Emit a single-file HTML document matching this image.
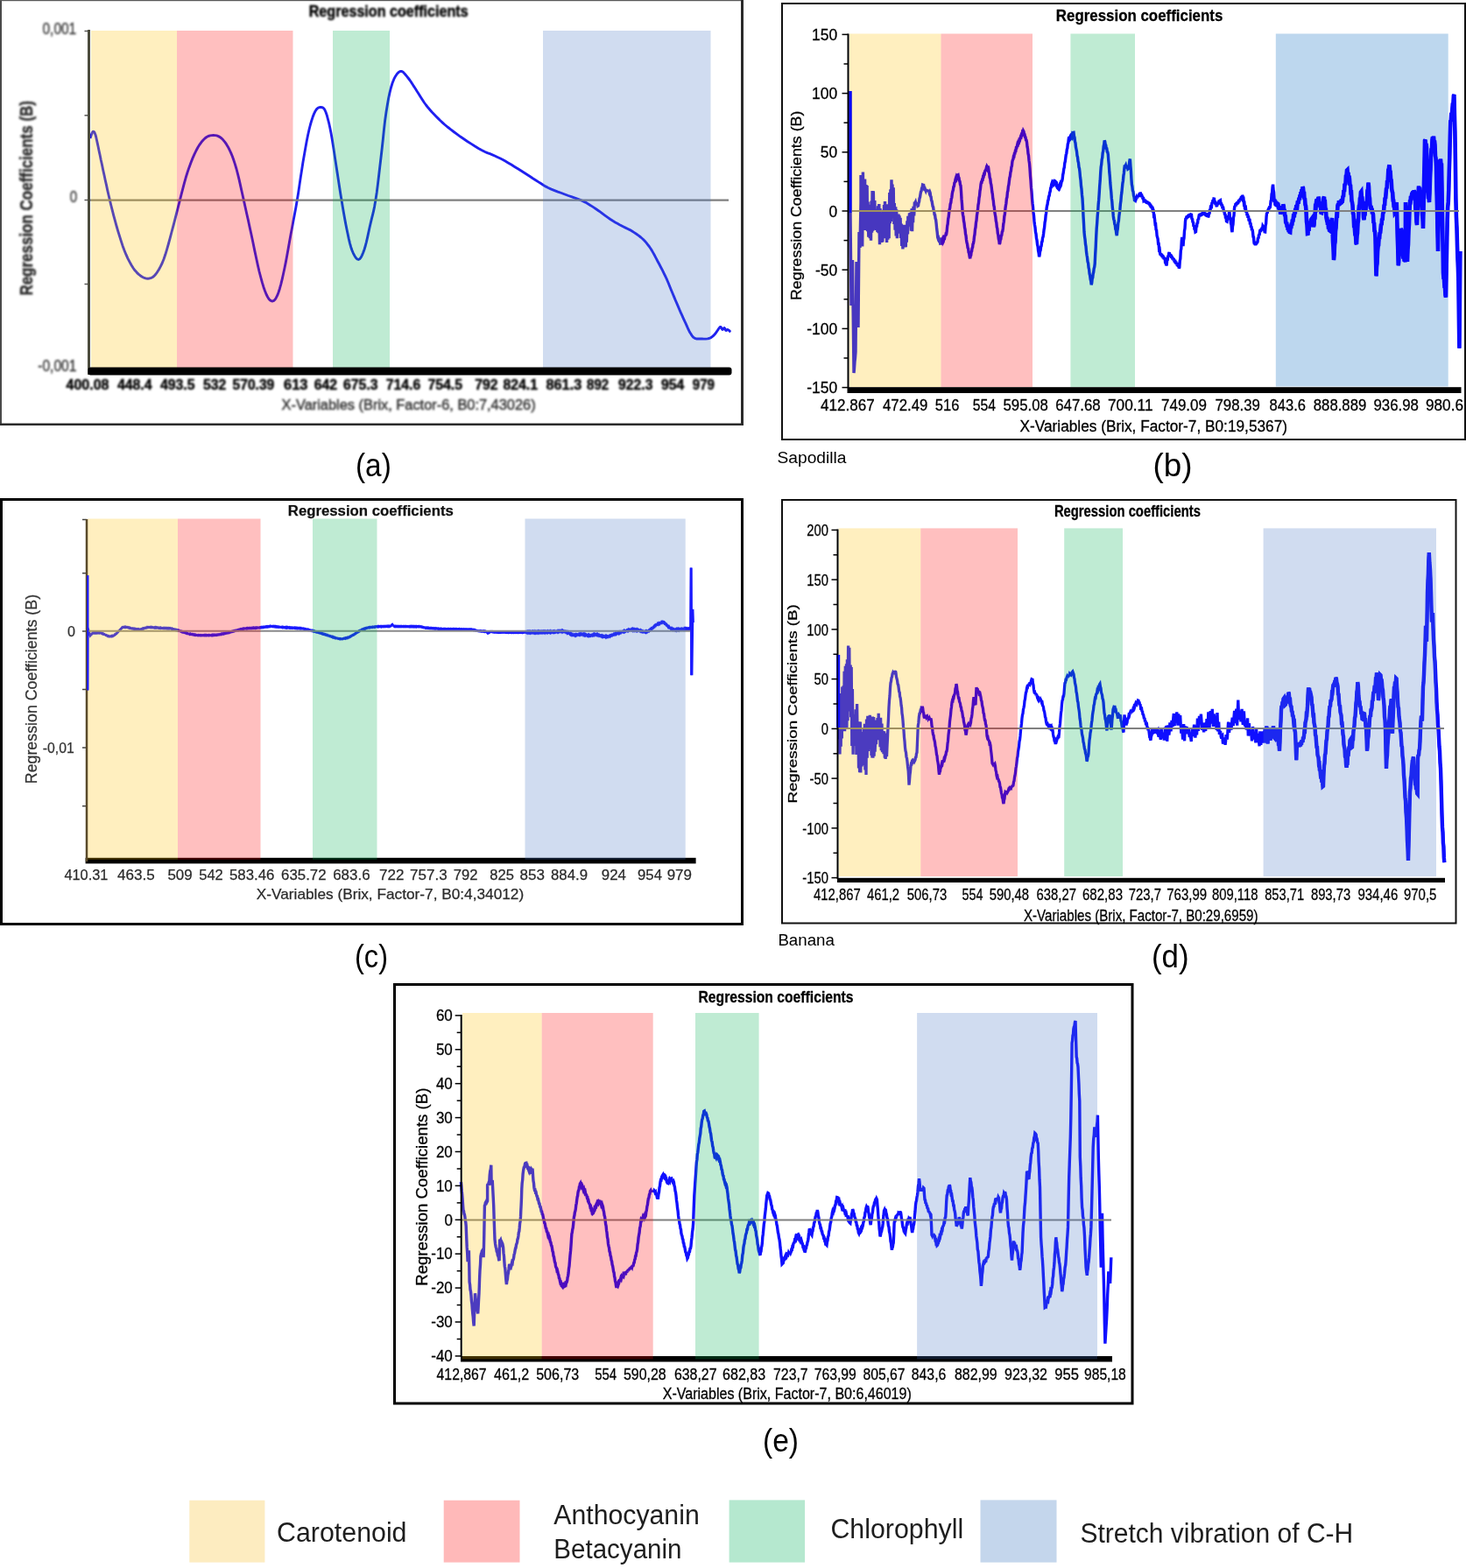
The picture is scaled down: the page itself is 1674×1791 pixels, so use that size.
<!DOCTYPE html><html><head><meta charset="utf-8"><title>Regression coefficients</title>
<style>html,body{margin:0;padding:0;background:#fff;}svg{display:block;}text{font-family:'Liberation Sans', Arial, sans-serif;}</style></head><body>
<svg width="1674" height="1791" viewBox="0 0 1674 1791">
<defs><filter id="bl45" x="-5%" y="-5%" width="110%" height="110%"><feGaussianBlur stdDeviation="0.8"/></filter><filter id="bl30" x="-5%" y="-5%" width="110%" height="110%"><feGaussianBlur stdDeviation="0.3"/></filter></defs>
<rect x="0.0" y="0.0" width="1674.0" height="1791.0" fill="#fff"/>
<rect x="0.0" y="0.0" width="2.0" height="486.0" fill="#4a4a4a"/>
<rect x="0.0" y="0.0" width="849.0" height="1.2" fill="#585858"/>
<rect x="846.0" y="0.0" width="3.0" height="486.0" fill="#2a2a2a"/>
<rect x="0.0" y="483.5" width="849.0" height="2.5" fill="#2a2a2a"/>
<line x1="96.5" y1="35.5" x2="101.0" y2="35.5" stroke="#555" stroke-width="1.5"/>
<line x1="96.5" y1="131.8" x2="101.0" y2="131.8" stroke="#555" stroke-width="1.5"/>
<line x1="96.5" y1="228.5" x2="101.0" y2="228.5" stroke="#555" stroke-width="1.5"/>
<line x1="96.5" y1="324.5" x2="101.0" y2="324.5" stroke="#555" stroke-width="1.5"/>
<path d="M103.0 158.0 L103.4 156.8 L104.0 155.0 L104.7 153.1 L105.4 151.4 L106.0 150.5 L106.6 150.3 L107.2 150.4 L107.7 151.0 L108.3 152.2 L109.0 154.0 L109.7 156.5 L110.4 159.7 L111.2 163.4 L112.1 167.5 L113.0 172.0 L114.1 177.0 L115.2 182.5 L116.5 188.3 L117.7 194.2 L119.0 200.0 L120.2 205.7 L121.5 211.4 L122.7 217.1 L124.0 222.8 L125.4 228.6 L126.8 234.5 L128.3 240.4 L129.8 246.3 L131.4 252.2 L133.0 258.0 L134.7 263.8 L136.5 269.7 L138.3 275.4 L140.1 280.9 L142.0 286.0 L143.9 290.7 L145.9 295.1 L148.0 299.1 L150.0 302.8 L152.0 306.0 L154.0 308.8 L156.1 311.1 L158.1 313.1 L160.1 314.7 L162.0 316.0 L163.8 317.0 L165.5 317.7 L167.1 318.1 L168.7 318.2 L170.3 318.0 L171.9 317.6 L173.4 317.1 L174.9 316.2 L176.4 314.9 L178.0 313.0 L179.7 310.6 L181.5 307.7 L183.3 304.4 L185.2 300.5 L187.0 296.0 L188.8 290.8 L190.6 284.9 L192.4 278.5 L194.2 271.8 L196.0 265.0 L197.9 258.0 L199.8 250.6 L201.7 243.1 L203.6 235.7 L205.4 228.6 L207.1 221.9 L208.8 215.3 L210.5 208.9 L212.2 202.8 L214.0 197.0 L215.9 191.4 L217.9 186.0 L219.9 180.9 L222.0 176.2 L224.0 172.0 L226.0 168.3 L228.0 165.1 L230.0 162.3 L232.0 160.0 L234.0 158.0 L236.0 156.5 L237.9 155.5 L239.9 154.9 L241.8 154.6 L243.7 154.5 L245.6 154.6 L247.5 154.9 L249.3 155.6 L251.2 156.6 L253.0 158.0 L254.8 159.8 L256.7 162.1 L258.5 164.7 L260.3 167.7 L262.0 171.0 L263.7 174.6 L265.3 178.5 L266.8 182.8 L268.4 187.6 L270.0 193.0 L271.6 199.2 L273.3 206.1 L274.9 213.4 L276.6 221.0 L278.3 228.6 L280.0 236.2 L281.7 244.0 L283.5 251.9 L285.2 259.9 L287.0 268.0 L288.8 276.5 L290.6 285.4 L292.5 294.2 L294.3 302.6 L296.0 310.0 L297.7 316.5 L299.3 322.4 L300.9 327.7 L302.5 332.2 L304.0 336.0 L305.5 339.0 L307.0 341.4 L308.5 343.0 L309.9 343.8 L311.3 344.0 L312.7 343.4 L314.0 342.2 L315.3 340.2 L316.7 337.4 L318.0 334.0 L319.4 329.7 L320.8 324.6 L322.2 318.8 L323.6 312.5 L325.0 306.0 L326.4 299.1 L327.8 291.6 L329.2 283.8 L330.6 275.8 L332.0 268.0 L333.5 260.3 L334.9 252.5 L336.4 244.7 L337.9 236.8 L339.3 228.6 L340.7 220.0 L342.0 211.1 L343.3 202.2 L344.7 193.4 L346.0 185.0 L347.4 176.9 L348.8 169.0 L350.2 161.3 L351.6 154.3 L353.0 148.0 L354.4 142.5 L355.8 137.7 L357.2 133.4 L358.6 129.9 L360.0 127.0 L361.4 124.9 L362.8 123.5 L364.1 122.8 L365.5 122.5 L366.7 122.5 L367.8 122.7 L368.9 123.1 L369.9 124.0 L370.9 125.6 L372.0 128.0 L373.2 131.4 L374.3 135.6 L375.6 140.5 L376.8 146.0 L378.0 152.0 L379.2 158.7 L380.4 166.2 L381.6 174.1 L382.8 182.1 L384.0 190.0 L385.2 197.8 L386.4 205.6 L387.6 213.5 L388.8 221.2 L390.0 228.6 L391.2 235.8 L392.4 242.8 L393.6 249.6 L394.8 256.0 L396.0 262.0 L397.2 267.6 L398.3 272.9 L399.5 277.8 L400.7 282.2 L402.0 286.0 L403.4 289.3 L404.9 292.2 L406.4 294.5 L407.9 296.0 L409.3 296.5 L410.7 295.8 L412.1 294.1 L413.4 291.6 L414.7 288.5 L416.0 285.0 L417.2 281.0 L418.4 276.3 L419.6 271.1 L420.8 265.6 L422.0 260.0 L423.3 254.4 L424.7 248.7 L426.2 242.7 L427.6 236.1 L428.9 228.6 L430.2 220.0 L431.4 210.6 L432.6 200.5 L433.8 190.2 L435.0 180.0 L436.2 169.5 L437.4 158.5 L438.5 147.6 L439.7 137.2 L441.0 128.0 L442.3 119.9 L443.6 112.5 L445.0 105.9 L446.5 100.0 L448.0 95.0 L449.7 90.7 L451.5 87.2 L453.3 84.5 L455.2 82.5 L457.0 81.5 L458.8 81.5 L460.6 82.6 L462.3 84.5 L464.1 86.7 L466.0 89.0 L467.9 91.5 L469.9 94.4 L471.9 97.6 L474.0 100.8 L476.0 104.0 L478.1 107.2 L480.1 110.5 L482.2 113.8 L484.3 117.0 L486.5 120.0 L488.7 122.8 L491.0 125.5 L493.2 128.0 L495.6 130.5 L498.0 133.0 L500.4 135.4 L502.8 137.8 L505.3 140.1 L508.0 142.5 L511.0 145.0 L514.4 147.7 L518.1 150.5 L522.0 153.4 L526.0 156.3 L530.0 159.0 L534.0 161.7 L538.2 164.4 L542.3 167.0 L546.3 169.4 L550.0 171.5 L553.4 173.2 L556.5 174.6 L559.5 175.7 L562.3 176.8 L565.0 178.0 L567.5 179.2 L569.7 180.2 L571.9 181.3 L574.3 182.5 L577.0 184.0 L580.2 185.9 L583.8 188.0 L587.6 190.4 L591.4 192.7 L595.0 195.0 L598.5 197.2 L602.0 199.5 L605.5 201.8 L608.8 204.0 L612.0 206.0 L614.9 207.9 L617.6 209.6 L620.2 211.3 L622.9 212.9 L626.0 214.5 L629.5 216.1 L633.2 217.6 L637.1 219.1 L641.1 220.5 L645.0 222.0 L649.0 223.5 L653.1 224.9 L657.2 226.3 L661.2 227.8 L665.0 229.4 L668.5 231.1 L671.7 233.0 L674.8 234.9 L677.9 236.9 L681.0 239.0 L684.2 241.2 L687.5 243.7 L690.8 246.1 L694.0 248.4 L697.0 250.5 L699.8 252.3 L702.5 253.9 L705.0 255.3 L707.5 256.7 L710.0 258.0 L712.4 259.2 L714.7 260.4 L717.0 261.5 L719.3 262.6 L721.7 264.0 L724.2 265.6 L726.7 267.3 L729.3 269.1 L731.7 271.0 L734.0 273.0 L736.0 275.0 L737.9 277.1 L739.6 279.3 L741.3 281.5 L743.0 284.0 L744.6 286.6 L746.2 289.4 L747.8 292.3 L749.4 295.4 L751.0 298.5 L752.8 301.8 L754.6 305.2 L756.4 308.7 L758.2 312.4 L760.0 316.0 L761.7 319.7 L763.3 323.5 L764.8 327.3 L766.4 331.2 L768.0 335.0 L769.6 338.9 L771.2 342.8 L772.9 346.7 L774.5 350.4 L776.0 354.0 L777.5 357.4 L779.0 360.6 L780.4 363.8 L781.7 366.7 L783.0 369.4 L784.1 371.9 L785.1 374.2 L786.1 376.3 L787.0 378.2 L788.0 380.0 L789.0 381.6 L789.9 383.1 L790.9 384.3 L791.9 385.4 L793.0 386.2 L794.2 386.7 L795.5 387.0 L796.9 387.0 L798.4 387.0 L800.0 387.0 L801.8 387.0 L803.9 387.1 L806.0 387.1 L808.0 386.9 L809.8 386.5 L811.3 385.9 L812.6 385.1 L813.8 384.2 L814.9 383.1 L816.0 382.0 L817.1 380.7 L818.2 379.1 L819.3 377.5 L820.2 376.1 L821.0 375.0 L821.6 374.3 L822.0 373.8 L822.3 373.5 L822.6 373.4 L823.0 373.5 L823.4 373.9 L823.8 374.6 L824.2 375.4 L824.6 376.1 L825.0 376.5 L825.4 376.3 L825.8 375.8 L826.2 375.2 L826.6 374.7 L827.0 374.5 L827.4 374.8 L827.8 375.5 L828.2 376.3 L828.6 377.1 L829.0 377.5 L829.4 377.5 L829.7 377.2 L830.1 376.8 L830.5 376.5 L831.0 376.5 L831.6 376.8 L832.4 377.4 L833.2 378.1 L833.8 378.8 L834.3 379.2" fill="none" stroke="#1f1ff0" stroke-width="2.9" stroke-linejoin="round" stroke-miterlimit="3" stroke-linecap="butt"/>
<line x1="103.0" y1="228.6" x2="832.0" y2="228.6" stroke="#7f7f7f" stroke-width="2.2"/>
<rect x="104.0" y="35.0" width="98.0" height="385.0" fill="#FFC000" fill-opacity="0.25"/>
<rect x="202.0" y="35.0" width="132.5" height="385.0" fill="#FF0000" fill-opacity="0.25"/>
<rect x="380.0" y="35.0" width="65.0" height="385.0" fill="#00B050" fill-opacity="0.25"/>
<rect x="620.0" y="35.0" width="191.5" height="385.0" fill="#4472C4" fill-opacity="0.25"/>
<line x1="101.5" y1="34.0" x2="101.5" y2="428.0" stroke="#4b4b3c" stroke-width="3"/>
<rect x="100.5" y="419.5" width="735" height="9" rx="3" fill="#000"/>
<g filter="url(#bl45)">
<text x="352.7" y="18.5" font-size="18" fill="#000" stroke="#000" stroke-width="0.45" font-weight="bold" textLength="182.0" lengthAdjust="spacingAndGlyphs">Regression coefficients</text>
<text x="48.5" y="38.7" font-size="19" fill="#3a3a3a" stroke="#3a3a3a" stroke-width="0.45" textLength="38.7" lengthAdjust="spacingAndGlyphs">0,001</text>
<text x="79.8" y="231.3" font-size="19" fill="#3a3a3a" stroke="#3a3a3a" stroke-width="0.45" textLength="8.4" lengthAdjust="spacingAndGlyphs">0</text>
<text x="43.2" y="423.9" font-size="18" fill="#3a3a3a" stroke="#3a3a3a" stroke-width="0.45" textLength="44.2" lengthAdjust="spacingAndGlyphs">-0,001</text>
<text x="37.3" y="337.6" font-size="20.5" fill="#2a2a2a" stroke="#2a2a2a" stroke-width="0.45" font-weight="bold" textLength="222.6" lengthAdjust="spacingAndGlyphs" transform="rotate(-90 37.3 337.6)">Regression Coefficients (B)</text>
<text x="75.5" y="445.3" font-size="16.6" fill="#000" stroke="#000" stroke-width="0.45" font-weight="bold" textLength="49.0" lengthAdjust="spacingAndGlyphs">400.08</text>
<text x="134.0" y="445.3" font-size="16.6" fill="#000" stroke="#000" stroke-width="0.45" font-weight="bold" textLength="39.5" lengthAdjust="spacingAndGlyphs">448.4</text>
<text x="183.0" y="445.3" font-size="16.6" fill="#000" stroke="#000" stroke-width="0.45" font-weight="bold" textLength="39.5" lengthAdjust="spacingAndGlyphs">493.5</text>
<text x="232.0" y="445.3" font-size="16.6" fill="#000" stroke="#000" stroke-width="0.45" font-weight="bold" textLength="26.3" lengthAdjust="spacingAndGlyphs">532</text>
<text x="265.5" y="445.3" font-size="16.6" fill="#000" stroke="#000" stroke-width="0.45" font-weight="bold" textLength="47.8" lengthAdjust="spacingAndGlyphs">570.39</text>
<text x="324.0" y="445.3" font-size="16.6" fill="#000" stroke="#000" stroke-width="0.45" font-weight="bold" textLength="27.5" lengthAdjust="spacingAndGlyphs">613</text>
<text x="358.7" y="445.3" font-size="16.6" fill="#000" stroke="#000" stroke-width="0.45" font-weight="bold" textLength="26.3" lengthAdjust="spacingAndGlyphs">642</text>
<text x="392.0" y="445.3" font-size="16.6" fill="#000" stroke="#000" stroke-width="0.45" font-weight="bold" textLength="39.6" lengthAdjust="spacingAndGlyphs">675.3</text>
<text x="440.8" y="445.3" font-size="16.6" fill="#000" stroke="#000" stroke-width="0.45" font-weight="bold" textLength="39.4" lengthAdjust="spacingAndGlyphs">714.6</text>
<text x="488.5" y="445.3" font-size="16.6" fill="#000" stroke="#000" stroke-width="0.45" font-weight="bold" textLength="39.5" lengthAdjust="spacingAndGlyphs">754.5</text>
<text x="542.3" y="445.3" font-size="16.6" fill="#000" stroke="#000" stroke-width="0.45" font-weight="bold" textLength="26.3" lengthAdjust="spacingAndGlyphs">792</text>
<text x="574.6" y="445.3" font-size="16.6" fill="#000" stroke="#000" stroke-width="0.45" font-weight="bold" textLength="39.4" lengthAdjust="spacingAndGlyphs">824.1</text>
<text x="623.5" y="445.3" font-size="16.6" fill="#000" stroke="#000" stroke-width="0.45" font-weight="bold" textLength="40.7" lengthAdjust="spacingAndGlyphs">861.3</text>
<text x="670.1" y="445.3" font-size="16.6" fill="#000" stroke="#000" stroke-width="0.45" font-weight="bold" textLength="25.1" lengthAdjust="spacingAndGlyphs">892</text>
<text x="706.0" y="445.3" font-size="16.6" fill="#000" stroke="#000" stroke-width="0.45" font-weight="bold" textLength="39.4" lengthAdjust="spacingAndGlyphs">922.3</text>
<text x="755.0" y="445.3" font-size="16.6" fill="#000" stroke="#000" stroke-width="0.45" font-weight="bold" textLength="26.3" lengthAdjust="spacingAndGlyphs">954</text>
<text x="790.8" y="445.3" font-size="16.6" fill="#000" stroke="#000" stroke-width="0.45" font-weight="bold" textLength="25.1" lengthAdjust="spacingAndGlyphs">979</text>
<text x="321.6" y="467.8" font-size="16" fill="#333" stroke="#333" stroke-width="0.45" textLength="290.0" lengthAdjust="spacingAndGlyphs">X-Variables (Brix, Factor-6, B0:7,43026)</text>
</g>
<rect x="893.0" y="4.0" width="780.0" height="498.0" fill="none" stroke="#111" stroke-width="2"/>
<rect x="1456.8" y="38.5" width="196.9" height="403.0" fill="#BDD7EE"/>
<path d="M971.0 104.0 L971.0 243.0 L971.5 295.3 L972.0 349.0 L972.5 332.5 L973.0 313.5 L973.5 297.0 L974.0 340.8 L974.5 382.3 L975.0 426.0 L975.5 420.9 L976.0 413.1 L976.5 408.8 L977.0 402.0 L977.5 349.7 L978.0 299.0 L978.5 318.4 L979.0 335.9 L979.5 356.0 L980.0 374.0 L980.5 318.7 L981.0 265.0 L981.5 274.6 L982.0 283.0 L982.5 256.1 L983.0 231.0 L983.0 200.1 L983.3 232.9 L983.6 264.3 L983.9 233.9 L984.3 204.8 L984.7 281.4 L985.1 239.6 L985.4 196.5 L985.9 249.6 L986.5 205.4 L987.1 257.2 L987.6 204.6 L987.9 232.8 L988.3 263.0 L988.7 237.9 L989.0 211.0 L989.4 262.4 L989.8 236.3 L990.1 212.0 L990.5 264.3 L991.1 230.5 L991.5 251.4 L991.8 270.6 L992.2 252.8 L992.6 236.3 L992.9 255.0 L993.3 272.3 L993.7 252.2 L994.0 233.8 L994.5 274.7 L995.0 229.6 L995.6 265.8 L996.1 217.9 L996.7 263.8 L997.0 241.7 L997.3 218.3 L997.7 237.8 L998.0 259.3 L998.4 244.9 L998.8 229.0 L999.2 245.2 L999.6 262.7 L1000.1 240.7 L1000.4 252.8 L1000.8 263.0 L1001.1 250.4 L1001.4 239.1 L1001.9 265.0 L1002.3 251.1 L1002.6 235.3 L1003.0 266.2 L1003.4 248.8 L1003.8 233.0 L1004.1 257.0 L1004.5 279.3 L1005.0 238.0 L1005.3 256.7 L1005.7 277.0 L1006.1 243.8 L1006.5 277.0 L1007.1 247.1 L1007.5 262.5 L1007.8 276.4 L1008.2 257.4 L1008.6 239.8 L1009.1 265.6 L1009.5 234.0 L1010.1 257.9 L1010.5 230.0 L1010.9 251.8 L1011.3 272.2 L1011.7 254.5 L1012.0 238.6 L1012.6 277.0 L1012.9 255.8 L1013.2 233.2 L1013.5 252.6 L1013.8 273.7 L1014.2 254.4 L1014.5 233.7 L1014.8 252.0 L1015.1 272.3 L1015.4 247.2 L1015.8 220.1 L1016.3 255.2 L1016.6 234.9 L1016.9 216.4 L1017.3 253.1 L1017.6 230.2 L1018.0 205.4 L1018.3 225.7 L1018.6 247.5 L1019.0 210.5 L1019.6 244.6 L1020.2 214.2 L1020.5 235.9 L1020.9 255.9 L1021.3 232.1 L1021.7 246.8 L1022.1 262.8 L1022.7 236.3 L1023.2 269.5 L1023.7 239.2 L1024.0 256.5 L1024.4 272.3 L1024.9 245.8 L1025.3 262.1 L1025.7 252.4 L1026.0 244.6 L1026.5 259.2 L1027.0 246.2 L1027.6 266.8 L1028.1 248.9 L1028.6 272.0 L1029.2 255.6 L1029.7 280.9 L1030.0 270.6 L1030.3 259.0 L1030.9 284.5 L1031.4 257.8 L1031.9 281.7 L1032.2 268.3 L1032.6 256.8 L1033.1 282.5 L1033.4 271.9 L1033.7 259.4 L1034.3 282.1 L1034.8 256.9 L1035.3 276.8 L1035.9 252.4 L1036.5 267.5 L1036.9 246.9 L1037.3 251.5 L1037.7 257.8 L1038.1 251.3 L1038.5 243.3 L1038.9 250.2 L1039.2 258.6 L1039.7 242.7 L1040.1 254.0 L1040.5 263.8 L1040.8 250.1 L1041.1 238.4 L1041.6 264.1 L1042.1 238.0 L1042.6 254.3 L1043.0 235.9 L1043.4 241.9 L1043.7 246.4 L1044.1 237.8 L1044.4 230.5 L1044.9 231.7 L1045.4 230.7 L1046.0 233.2 L1046.5 231.9 L1047.0 234.1 L1047.5 233.0 L1048.0 235.3 L1048.5 235.0 L1049.0 231.7 L1049.5 230.6 L1050.0 226.4 L1050.5 225.4 L1051.0 222.0 L1051.5 219.1 L1052.0 218.3 L1052.6 214.7 L1053.1 214.2 L1053.6 211.0 L1054.1 211.2 L1054.6 213.8 L1055.1 213.2 L1055.6 215.5 L1056.1 215.2 L1056.6 216.8 L1057.1 217.9 L1057.6 216.3 L1058.1 218.1 L1058.6 216.7 L1059.1 218.7 L1059.6 217.0 L1060.1 219.2 L1060.6 217.6 L1061.1 219.6 L1061.6 218.8 L1062.1 220.1 L1062.6 224.3 L1063.1 224.8 L1063.6 228.9 L1064.1 229.7 L1064.6 232.8 L1065.1 235.8 L1065.6 236.4 L1066.1 240.3 L1066.6 241.3 L1067.1 245.1 L1067.6 245.5 L1068.1 249.5 L1068.6 251.0 L1069.1 255.1 L1069.7 261.6 L1070.2 265.3 L1070.7 271.0 L1071.2 272.6 L1071.7 272.0 L1072.2 274.3 L1072.7 273.9 L1073.2 276.1 L1073.7 275.3 L1074.2 278.1 L1074.7 278.0 L1075.2 276.2 L1075.7 277.0 L1076.2 274.5 L1076.7 275.3 L1077.2 272.6 L1077.7 273.4 L1078.2 271.0 L1078.7 271.4 L1079.2 268.8 L1079.7 269.8 L1080.2 267.0 L1080.7 267.0 L1081.2 263.8 L1081.7 258.2 L1082.2 255.8 L1082.7 250.1 L1083.2 247.7 L1083.7 243.0 L1084.2 239.2 L1084.7 237.7 L1085.2 233.0 L1085.8 231.5 L1086.3 227.0 L1086.8 225.8 L1087.3 221.2 L1087.8 218.8 L1088.3 217.3 L1088.9 213.3 L1089.4 212.8 L1089.9 208.8 L1090.5 208.0 L1091.0 205.0 L1091.5 203.4 L1092.0 204.2 L1092.5 201.4 L1093.0 202.1 L1093.5 199.9 L1094.0 199.7 L1094.5 202.4 L1095.0 203.2 L1095.5 206.6 L1096.0 207.2 L1096.5 210.9 L1097.0 212.0 L1097.5 218.4 L1098.0 227.2 L1098.5 232.9 L1099.0 241.0 L1099.5 245.3 L1100.0 247.4 L1100.5 252.5 L1101.0 254.7 L1101.5 259.7 L1102.0 261.8 L1102.5 267.1 L1103.0 269.0 L1103.5 274.0 L1104.0 277.0 L1104.5 278.7 L1105.1 283.1 L1105.6 283.9 L1106.1 288.3 L1106.6 289.4 L1107.2 293.4 L1107.7 295.2 L1108.2 292.3 L1108.7 291.6 L1109.1 287.8 L1109.6 287.1 L1110.1 283.3 L1110.6 282.6 L1111.0 278.8 L1111.5 277.9 L1112.0 275.0 L1112.5 270.2 L1113.0 267.7 L1113.5 262.0 L1114.0 259.7 L1114.5 254.2 L1115.0 251.8 L1115.5 246.0 L1116.0 243.0 L1116.5 239.6 L1117.0 234.1 L1117.5 231.7 L1118.0 226.0 L1118.5 223.8 L1119.0 218.1 L1119.5 215.6 L1120.0 210.7 L1120.5 208.3 L1121.0 208.3 L1121.6 205.2 L1122.1 205.2 L1122.6 201.7 L1123.1 201.8 L1123.6 198.7 L1124.2 198.8 L1124.7 195.6 L1125.2 194.6 L1125.7 194.4 L1126.2 192.3 L1126.7 193.0 L1127.2 190.4 L1127.7 191.2 L1128.2 189.6 L1128.7 191.9 L1129.2 196.5 L1129.7 198.2 L1130.2 202.9 L1130.8 204.5 L1131.3 209.2 L1131.8 210.8 L1132.3 214.7 L1132.8 219.2 L1133.3 221.7 L1133.8 226.8 L1134.3 229.2 L1134.8 234.5 L1135.3 236.5 L1135.8 242.1 L1136.3 245.0 L1136.8 247.6 L1137.3 252.5 L1137.8 254.4 L1138.3 259.4 L1138.8 261.1 L1139.3 266.4 L1139.8 268.2 L1140.3 273.0 L1140.8 274.8 L1141.3 279.0 L1141.8 277.6 L1142.3 273.5 L1142.8 273.2 L1143.3 269.1 L1143.8 268.7 L1144.3 264.6 L1144.8 264.2 L1145.3 261.0 L1145.8 255.8 L1146.3 253.2 L1146.8 247.3 L1147.4 244.6 L1147.9 238.5 L1148.4 234.9 L1148.9 232.2 L1149.4 226.9 L1149.9 225.3 L1150.4 219.8 L1150.9 217.9 L1151.4 213.0 L1151.9 210.9 L1152.4 206.7 L1152.9 202.9 L1153.4 201.3 L1153.9 196.8 L1154.4 195.3 L1154.9 190.9 L1155.4 189.6 L1155.9 184.7 L1156.4 182.6 L1156.9 181.8 L1157.4 178.7 L1157.9 178.8 L1158.4 175.3 L1158.9 175.2 L1159.4 172.2 L1159.9 172.2 L1160.4 168.8 L1160.9 168.8 L1161.4 166.5 L1161.9 164.3 L1162.4 164.8 L1162.9 162.2 L1163.5 162.6 L1164.0 159.8 L1164.5 160.1 L1165.0 158.0 L1165.5 156.1 L1166.0 156.4 L1166.5 153.6 L1167.0 153.8 L1167.5 150.9 L1168.0 151.4 L1168.5 149.4 L1169.0 150.3 L1169.5 153.5 L1170.0 153.6 L1170.5 156.6 L1171.0 156.8 L1171.5 159.9 L1172.0 160.1 L1172.5 162.4 L1173.0 167.4 L1173.5 169.9 L1174.0 175.4 L1174.5 177.6 L1175.0 183.4 L1175.5 186.6 L1176.0 192.7 L1176.5 200.8 L1177.0 206.1 L1177.5 214.2 L1178.0 219.2 L1178.5 226.8 L1179.0 232.5 L1179.5 236.3 L1180.0 242.7 L1180.5 246.3 L1181.0 252.7 L1181.5 257.0 L1182.0 259.8 L1182.5 265.2 L1183.0 267.1 L1183.5 272.1 L1184.0 274.2 L1184.6 279.6 L1185.1 281.5 L1185.6 286.6 L1186.1 288.9 L1186.6 293.2 L1187.1 291.3 L1187.6 287.1 L1188.1 286.0 L1188.6 281.8 L1189.1 281.0 L1189.6 276.5 L1190.1 275.8 L1190.6 271.6 L1191.1 270.5 L1191.6 267.0 L1192.1 262.4 L1192.6 259.9 L1193.1 254.1 L1193.6 251.9 L1194.1 246.3 L1194.6 243.5 L1195.1 238.0 L1195.6 234.9 L1196.1 233.3 L1196.6 229.2 L1197.1 228.4 L1197.6 224.3 L1198.2 223.5 L1198.7 219.7 L1199.2 218.7 L1199.7 214.8 L1200.2 214.0 L1200.7 210.7 L1201.2 209.2 L1201.7 210.3 L1202.2 208.6 L1202.7 209.5 L1203.2 207.3 L1203.7 208.4 L1204.2 206.5 L1204.7 206.7 L1205.2 208.5 L1205.7 208.4 L1206.2 210.9 L1206.7 210.4 L1207.2 213.2 L1207.7 212.9 L1208.2 215.3 L1208.7 215.8 L1209.2 213.7 L1209.7 214.3 L1210.2 211.6 L1210.7 212.1 L1211.2 209.2 L1211.7 209.8 L1212.2 207.2 L1212.7 206.7 L1213.2 204.4 L1213.7 199.5 L1214.2 197.5 L1214.8 192.9 L1215.3 191.1 L1215.8 186.2 L1216.3 184.4 L1216.8 180.5 L1217.3 176.6 L1217.8 175.3 L1218.3 170.8 L1218.8 169.4 L1219.3 164.5 L1219.8 163.4 L1220.3 158.5 L1220.8 156.4 L1221.3 157.5 L1221.9 156.3 L1222.5 158.6 L1223.0 158.0 L1223.5 156.1 L1224.0 156.8 L1224.5 153.7 L1225.0 154.4 L1225.5 151.5 L1226.0 151.4 L1226.5 155.6 L1227.0 156.8 L1227.5 161.6 L1228.0 163.4 L1228.5 168.2 L1229.0 170.5 L1229.5 172.9 L1230.0 177.9 L1230.5 179.4 L1231.0 184.2 L1231.5 185.8 L1232.0 190.9 L1232.5 192.4 L1233.0 196.6 L1233.5 202.3 L1234.0 205.7 L1234.5 212.5 L1235.0 215.8 L1235.5 222.7 L1236.0 226.8 L1236.5 235.4 L1237.0 246.6 L1237.5 254.8 L1238.0 265.0 L1238.5 270.1 L1239.0 273.1 L1239.5 278.9 L1240.0 281.5 L1240.5 287.6 L1241.0 291.2 L1241.5 294.0 L1242.0 298.7 L1242.6 300.7 L1243.1 305.7 L1243.6 307.7 L1244.1 312.6 L1244.6 314.5 L1245.2 319.2 L1245.7 321.0 L1246.2 325.4 L1246.7 323.2 L1247.2 318.4 L1247.7 317.2 L1248.2 312.7 L1248.7 311.0 L1249.2 306.6 L1249.7 305.2 L1250.2 301.3 L1250.7 290.3 L1251.2 282.1 L1251.7 270.2 L1252.2 261.0 L1252.7 255.0 L1253.2 246.8 L1253.7 241.7 L1254.2 233.4 L1254.7 228.2 L1255.2 220.8 L1255.7 212.4 L1256.2 206.5 L1256.7 197.5 L1257.2 190.6 L1257.7 187.8 L1258.2 182.2 L1258.7 180.2 L1259.2 174.6 L1259.7 172.6 L1260.2 167.0 L1260.7 164.9 L1261.2 160.4 L1261.7 161.7 L1262.2 165.0 L1262.7 165.6 L1263.2 169.3 L1263.8 169.6 L1264.3 173.5 L1264.8 173.8 L1265.3 176.5 L1265.8 183.6 L1266.3 188.3 L1266.8 196.5 L1267.3 201.2 L1267.8 209.0 L1268.3 214.7 L1268.8 219.3 L1269.3 226.4 L1269.8 230.1 L1270.3 237.0 L1270.8 240.9 L1271.3 247.0 L1271.8 250.6 L1272.3 251.7 L1272.8 256.1 L1273.3 257.1 L1273.8 261.7 L1274.3 262.8 L1274.8 267.0 L1275.3 269.0 L1275.8 263.8 L1276.3 261.3 L1276.8 255.0 L1277.4 252.3 L1277.9 246.4 L1278.4 243.0 L1278.9 239.2 L1279.4 232.9 L1279.9 229.6 L1280.4 223.3 L1280.9 220.1 L1281.4 214.7 L1281.9 209.4 L1282.4 206.7 L1282.9 200.8 L1283.4 198.0 L1283.9 192.3 L1284.4 188.6 L1284.9 189.8 L1285.4 188.8 L1285.9 191.0 L1286.4 189.9 L1286.9 192.0 L1287.4 190.9 L1287.9 193.0 L1288.4 192.6 L1288.9 189.1 L1289.4 187.7 L1289.9 183.6 L1290.4 181.5 L1290.9 189.4 L1291.4 195.2 L1291.9 204.2 L1292.4 210.7 L1292.9 213.1 L1293.4 217.7 L1294.0 218.9 L1294.5 223.4 L1295.0 224.9 L1295.5 228.8 L1296.0 229.1 L1296.5 227.0 L1297.0 228.1 L1297.5 226.8 L1298.0 225.2 L1298.5 226.3 L1299.0 224.1 L1299.5 225.3 L1300.0 223.1 L1300.5 224.7 L1301.0 220.8 L1301.5 223.7 L1302.0 219.8 L1302.5 220.8 L1303.0 223.4 L1303.5 221.4 L1304.0 225.6 L1304.5 223.6 L1305.0 227.5 L1305.5 225.2 L1306.0 229.2 L1306.5 228.8 L1307.0 227.5 L1307.5 231.1 L1308.0 228.6 L1308.5 231.8 L1309.0 229.2 L1309.5 232.7 L1310.1 229.7 L1310.6 233.0 L1311.1 230.5 L1311.6 233.5 L1312.1 231.2 L1312.6 232.9 L1313.1 235.0 L1313.6 232.7 L1314.1 237.0 L1314.6 234.5 L1315.1 237.9 L1315.6 235.8 L1316.1 239.4 L1316.6 238.9 L1317.1 240.4 L1317.6 246.8 L1318.1 246.6 L1318.6 251.0 L1319.1 256.1 L1319.6 256.0 L1320.1 262.3 L1320.6 262.9 L1321.1 269.3 L1321.6 271.0 L1322.1 272.8 L1322.6 278.4 L1323.1 278.4 L1323.6 285.0 L1324.1 284.6 L1324.6 289.2 L1325.1 291.5 L1325.6 289.2 L1326.1 292.4 L1326.6 290.1 L1327.2 294.1 L1327.7 291.3 L1328.2 295.2 L1328.7 292.8 L1329.2 296.2 L1329.7 295.2 L1330.2 295.3 L1330.7 301.1 L1331.2 299.6 L1331.7 303.3 L1332.2 302.3 L1332.7 296.7 L1333.2 297.5 L1333.7 291.9 L1334.2 293.4 L1334.7 289.2 L1335.2 288.1 L1335.7 292.2 L1336.2 289.9 L1336.7 293.3 L1337.2 290.8 L1337.7 294.9 L1338.2 292.4 L1338.7 296.4 L1339.2 294.0 L1339.7 297.3 L1340.2 295.3 L1340.7 297.2 L1341.2 299.3 L1341.7 296.7 L1342.2 301.0 L1342.7 298.6 L1343.2 302.0 L1343.8 300.0 L1344.3 303.7 L1344.8 301.0 L1345.3 304.7 L1345.8 302.5 L1346.3 306.5 L1346.8 305.3 L1347.3 298.0 L1347.8 295.6 L1348.3 286.4 L1348.8 284.0 L1349.3 275.1 L1349.8 271.0 L1350.4 277.5 L1351.0 281.0 L1351.5 274.3 L1352.0 271.9 L1352.5 263.6 L1353.0 261.1 L1353.5 253.0 L1354.0 249.0 L1354.5 250.6 L1355.0 246.8 L1355.5 249.4 L1356.0 246.4 L1356.5 248.7 L1357.0 245.1 L1357.5 248.1 L1358.0 244.6 L1358.5 247.4 L1359.0 243.9 L1359.5 246.9 L1360.0 245.0 L1360.5 245.2 L1361.0 250.6 L1361.5 249.5 L1362.0 254.4 L1362.5 253.3 L1363.0 258.9 L1363.5 257.2 L1364.0 262.6 L1364.5 261.5 L1365.0 265.0 L1365.5 264.7 L1366.0 258.6 L1366.5 259.6 L1367.0 254.3 L1367.5 255.6 L1368.0 249.8 L1368.5 251.2 L1369.0 247.0 L1369.5 244.7 L1370.0 247.6 L1370.5 243.8 L1371.0 246.9 L1371.5 243.5 L1372.0 246.6 L1372.5 242.9 L1373.0 245.3 L1373.5 241.7 L1374.0 243.0 L1374.5 244.8 L1375.0 242.3 L1375.5 245.8 L1376.0 242.6 L1376.5 246.5 L1377.0 243.2 L1377.5 247.2 L1378.0 243.8 L1378.5 247.9 L1379.0 244.4 L1379.5 248.3 L1380.0 247.0 L1380.5 243.2 L1381.0 244.6 L1381.5 239.0 L1382.0 240.7 L1382.5 235.5 L1383.0 235.0 L1383.5 235.4 L1384.0 230.9 L1384.5 232.3 L1385.0 228.2 L1385.5 229.6 L1386.0 227.0 L1386.5 227.1 L1387.0 230.9 L1387.5 229.4 L1388.0 234.1 L1388.5 232.4 L1389.0 235.0 L1389.5 236.0 L1390.0 232.2 L1390.5 234.4 L1391.0 230.6 L1391.5 232.8 L1392.0 228.7 L1392.5 231.3 L1393.0 229.0 L1393.5 228.7 L1394.0 233.3 L1394.5 231.5 L1395.0 235.5 L1395.5 233.5 L1396.0 238.4 L1396.5 235.8 L1397.0 239.0 L1397.5 242.2 L1398.0 240.8 L1398.5 245.7 L1399.0 244.2 L1399.5 249.6 L1400.0 248.2 L1400.5 252.7 L1401.0 253.0 L1401.5 249.4 L1402.0 251.1 L1402.5 246.3 L1403.0 248.2 L1403.5 243.2 L1404.0 243.0 L1404.5 248.5 L1405.0 249.1 L1405.5 255.5 L1406.0 256.3 L1406.5 262.8 L1407.0 265.0 L1407.5 258.6 L1408.0 256.2 L1408.5 248.2 L1409.0 246.3 L1409.5 238.3 L1410.0 235.0 L1410.5 236.1 L1411.0 232.1 L1411.5 235.4 L1412.0 231.3 L1412.5 233.8 L1413.0 230.2 L1413.5 232.8 L1414.0 231.0 L1414.5 228.4 L1415.0 231.0 L1415.5 227.5 L1416.0 229.6 L1416.5 226.0 L1417.0 228.6 L1417.5 224.2 L1418.0 227.2 L1418.5 222.9 L1419.0 224.0 L1419.5 227.9 L1420.0 227.5 L1420.5 232.9 L1421.0 232.5 L1421.5 238.4 L1422.0 239.0 L1422.5 238.3 L1423.0 242.9 L1423.5 241.0 L1424.0 246.3 L1424.5 244.1 L1425.0 248.8 L1425.5 246.5 L1426.0 251.0 L1426.5 251.0 L1427.0 251.1 L1427.5 256.5 L1428.0 254.3 L1428.5 259.9 L1429.0 258.5 L1429.5 263.3 L1430.0 261.7 L1430.5 265.0 L1431.0 270.4 L1431.5 270.7 L1432.0 277.1 L1432.5 279.0 L1433.0 277.4 L1433.5 280.2 L1434.0 276.2 L1434.5 278.9 L1435.0 275.9 L1435.5 277.0 L1436.0 276.3 L1436.5 271.3 L1437.0 272.7 L1437.5 267.7 L1438.0 269.0 L1438.5 265.0 L1439.0 262.3 L1439.5 265.1 L1440.0 261.1 L1440.5 263.5 L1441.0 259.6 L1441.5 262.0 L1442.0 258.2 L1442.5 259.0 L1443.0 262.3 L1443.5 260.7 L1444.1 264.9 L1444.6 265.0 L1445.1 257.7 L1445.6 255.4 L1446.1 247.2 L1446.6 243.0 L1447.1 243.9 L1447.6 239.7 L1448.1 241.5 L1448.6 237.5 L1449.1 239.4 L1449.6 235.5 L1450.1 237.6 L1450.6 235.0 L1451.1 229.7 L1451.6 228.5 L1452.1 221.6 L1452.6 220.1 L1453.1 213.4 L1453.6 210.7 L1454.1 217.2 L1454.6 219.4 L1455.1 227.4 L1455.6 231.0 L1456.1 228.7 L1456.6 234.6 L1457.1 230.1 L1457.7 235.7 L1458.2 230.9 L1458.7 236.2 L1459.2 232.0 L1459.7 235.0 L1460.2 239.0 L1460.7 235.2 L1461.2 241.7 L1461.7 237.8 L1462.2 244.6 L1462.7 243.0 L1463.2 239.5 L1463.7 242.9 L1464.2 236.0 L1464.7 240.1 L1465.2 233.4 L1465.7 235.0 L1466.2 240.2 L1466.7 239.0 L1467.2 247.1 L1467.7 245.6 L1468.2 254.0 L1468.7 255.0 L1469.2 253.8 L1469.7 259.6 L1470.2 256.6 L1470.7 262.8 L1471.2 258.7 L1471.7 265.1 L1472.2 261.8 L1472.7 265.0 L1473.2 265.2 L1473.7 258.0 L1474.2 261.0 L1474.8 254.6 L1475.3 257.6 L1475.8 250.6 L1476.3 253.5 L1476.8 249.0 L1477.3 244.3 L1477.8 248.2 L1478.3 241.7 L1478.8 244.3 L1479.3 237.9 L1479.8 241.1 L1480.3 234.1 L1480.8 235.0 L1481.3 235.6 L1481.9 229.4 L1482.5 232.8 L1483.0 229.0 L1483.5 225.8 L1484.0 228.3 L1484.5 222.5 L1485.0 225.3 L1485.5 219.2 L1486.0 223.4 L1486.5 216.1 L1487.0 220.1 L1487.5 213.3 L1488.0 214.7 L1488.5 220.5 L1489.0 219.0 L1489.5 227.7 L1490.0 226.4 L1490.5 233.9 L1491.0 235.0 L1491.5 240.8 L1492.0 253.2 L1492.5 256.7 L1493.0 267.0 L1493.5 266.9 L1494.0 260.4 L1494.5 263.9 L1495.0 256.9 L1495.5 259.0 L1496.0 252.8 L1496.5 255.8 L1497.0 251.0 L1497.5 250.3 L1498.0 256.4 L1498.5 253.0 L1499.0 258.8 L1499.5 255.0 L1500.0 259.0 L1500.5 256.9 L1501.0 247.8 L1501.5 247.9 L1502.0 237.5 L1502.5 238.0 L1503.0 231.0 L1503.5 227.5 L1504.0 232.2 L1504.5 227.0 L1505.0 230.6 L1505.5 224.9 L1506.0 227.0 L1506.5 232.0 L1507.0 230.5 L1507.5 237.0 L1508.0 235.6 L1508.5 242.8 L1509.0 243.0 L1509.5 237.4 L1510.0 239.3 L1510.5 231.7 L1511.0 234.0 L1511.5 225.8 L1512.0 225.0 L1512.5 231.9 L1513.0 231.6 L1513.5 240.4 L1514.0 240.3 L1514.5 248.6 L1515.0 251.0 L1515.5 250.8 L1516.0 256.9 L1516.5 254.7 L1517.0 261.6 L1517.5 258.5 L1518.0 263.0 L1518.5 263.4 L1519.0 256.0 L1519.5 257.9 L1520.0 251.0 L1520.5 253.6 L1521.0 249.0 L1521.5 258.3 L1522.0 276.0 L1522.5 282.6 L1523.0 297.0 L1523.5 291.4 L1524.0 279.4 L1524.5 276.4 L1525.0 264.2 L1525.5 260.6 L1526.0 251.0 L1526.5 244.2 L1527.0 244.6 L1527.5 234.7 L1528.0 233.0 L1528.5 235.3 L1529.0 229.3 L1529.5 234.6 L1530.0 229.1 L1530.5 233.6 L1531.0 228.7 L1531.5 233.0 L1532.0 227.2 L1532.5 231.5 L1533.0 229.0 L1533.5 223.6 L1534.0 225.0 L1534.5 217.1 L1535.0 219.1 L1535.5 211.0 L1536.0 210.7 L1536.5 209.6 L1537.0 199.9 L1537.5 200.9 L1538.0 194.6 L1538.5 194.1 L1539.0 200.9 L1539.5 196.8 L1540.0 203.4 L1540.5 200.8 L1541.0 204.7 L1541.5 211.8 L1542.0 210.8 L1542.5 220.0 L1543.0 219.9 L1543.5 229.6 L1544.0 231.0 L1544.5 234.4 L1545.0 243.8 L1545.5 244.4 L1546.0 255.2 L1546.5 254.7 L1547.0 263.0 L1547.5 269.4 L1548.0 268.3 L1548.5 278.0 L1549.0 279.0 L1549.5 269.5 L1550.0 266.4 L1550.5 254.9 L1551.0 252.4 L1551.5 240.4 L1552.0 235.0 L1552.5 234.2 L1553.0 225.6 L1553.4 227.3 L1553.9 219.5 L1554.4 218.8 L1554.9 226.6 L1555.4 226.6 L1556.0 237.3 L1556.5 237.9 L1557.0 248.5 L1557.5 251.0 L1558.0 245.0 L1558.5 246.3 L1559.0 238.2 L1559.5 239.9 L1560.0 231.4 L1560.5 231.0 L1561.0 228.4 L1561.5 217.5 L1562.0 216.6 L1562.5 208.7 L1563.0 213.2 L1563.5 224.0 L1564.0 226.4 L1564.5 235.0 L1565.0 238.3 L1565.5 235.0 L1566.0 240.9 L1566.5 237.8 L1567.0 244.2 L1567.5 243.0 L1568.0 245.0 L1568.5 254.8 L1569.0 254.1 L1569.5 263.8 L1570.0 264.4 L1570.5 271.0 L1571.0 295.6 L1571.5 315.3 L1572.0 304.6 L1572.5 301.1 L1573.1 286.7 L1573.6 281.0 L1574.1 280.3 L1574.6 271.5 L1575.1 273.1 L1575.6 265.3 L1576.1 266.6 L1576.6 261.0 L1577.1 255.8 L1577.6 257.2 L1578.1 249.6 L1578.6 251.6 L1579.1 244.2 L1579.6 243.0 L1580.1 241.7 L1580.6 233.6 L1581.1 234.9 L1581.6 225.7 L1582.1 227.0 L1582.6 220.8 L1583.1 214.6 L1583.6 215.4 L1584.1 206.1 L1584.6 207.6 L1585.1 198.2 L1585.6 198.8 L1586.1 190.1 L1586.6 188.6 L1587.1 195.5 L1587.6 196.0 L1588.2 205.9 L1588.7 206.1 L1589.2 215.7 L1589.7 218.8 L1590.2 220.3 L1590.7 228.9 L1591.2 229.1 L1591.7 237.0 L1592.2 236.1 L1592.7 243.0 L1593.2 242.3 L1593.7 234.6 L1594.2 236.7 L1594.7 231.0 L1595.2 246.1 L1595.7 269.3 L1596.2 282.6 L1596.7 303.3 L1597.2 299.0 L1597.7 286.4 L1598.2 284.4 L1598.7 272.7 L1599.2 270.8 L1599.7 261.0 L1600.2 262.4 L1600.7 270.4 L1601.2 268.9 L1601.7 275.0 L1602.0 291.0 L1602.5 295.5 L1603.1 292.2 L1603.6 298.6 L1604.2 295.6 L1604.7 299.3 L1605.0 231.0 L1605.5 250.0 L1606.0 262.6 L1606.5 284.6 L1607.0 299.0 L1607.5 285.1 L1608.0 279.3 L1608.5 263.0 L1609.0 256.1 L1609.5 240.0 L1610.0 231.0 L1610.5 231.1 L1611.0 224.0 L1611.5 226.8 L1612.0 222.8 L1612.5 220.0 L1613.0 223.3 L1613.5 218.2 L1614.0 222.7 L1614.5 217.4 L1615.0 218.8 L1615.5 228.1 L1616.0 229.0 L1616.5 239.9 L1617.0 241.3 L1617.5 253.5 L1618.0 257.0 L1618.5 243.7 L1619.0 237.7 L1619.5 221.8 L1620.0 212.7 L1620.5 216.6 L1621.0 213.8 L1621.5 220.7 L1622.0 217.3 L1622.5 223.4 L1623.0 222.8 L1623.5 230.3 L1624.0 244.7 L1624.5 249.4 L1625.0 261.0 L1625.5 238.7 L1626.0 208.5 L1626.5 188.0 L1627.0 160.4 L1627.5 159.6 L1628.0 166.6 L1628.5 164.0 L1629.0 168.5 L1629.5 196.2 L1630.0 218.8 L1630.5 219.4 L1631.0 227.2 L1631.5 225.4 L1632.0 231.0 L1632.5 220.1 L1633.0 202.8 L1633.5 193.4 L1634.0 178.5 L1634.5 170.4 L1635.0 169.9 L1635.5 159.2 L1636.0 156.4 L1636.5 159.4 L1637.0 155.8 L1637.5 161.7 L1638.0 160.4 L1638.5 165.5 L1639.0 178.3 L1639.5 180.6 L1640.0 190.6 L1640.5 217.0 L1641.0 236.2 L1641.5 264.9 L1642.0 287.0 L1642.5 258.1 L1643.0 237.2 L1643.5 206.8 L1644.0 182.6 L1644.5 186.0 L1645.0 181.7 L1645.5 188.6 L1646.0 186.6 L1646.5 215.5 L1647.0 251.1 L1647.5 277.2 L1648.0 311.3 L1648.5 318.1 L1649.0 318.9 L1649.5 327.5 L1650.0 327.7 L1650.5 337.4 L1651.0 339.5 L1651.6 308.1 L1652.1 282.7 L1652.7 251.0 L1653.2 236.9 L1653.8 230.4 L1654.3 216.8 L1654.8 195.2 L1655.3 180.2 L1655.8 155.6 L1656.3 138.3 L1656.8 137.4 L1657.3 128.9 L1657.9 130.5 L1658.4 124.2 L1658.9 117.8 L1659.4 119.1 L1659.9 109.3 L1660.4 108.1 L1660.9 131.9 L1661.4 150.4 L1661.9 186.2 L1662.4 226.8 L1662.9 247.4 L1663.5 260.7 L1664.0 281.0 L1664.5 296.4 L1664.9 305.1 L1665.4 321.4 L1665.9 362.4 L1666.4 397.8 L1666.9 339.7 L1667.4 287.0" fill="none" stroke="#0a0aff" stroke-width="3.4" stroke-linejoin="miter" stroke-miterlimit="3" stroke-linecap="butt"/>
<path d="M1455.1 227.4 L1455.6 231.0 L1456.1 228.7 L1456.6 234.6 L1457.1 230.1 L1457.7 235.7 L1458.2 230.9 L1458.7 236.2 L1459.2 232.0 L1459.7 235.0 L1460.2 239.0 L1460.7 235.2 L1461.2 241.7 L1461.7 237.8 L1462.2 244.6 L1462.7 243.0 L1463.2 239.5 L1463.7 242.9 L1464.2 236.0 L1464.7 240.1 L1465.2 233.4 L1465.7 235.0 L1466.2 240.2 L1466.7 239.0 L1467.2 247.1 L1467.7 245.6 L1468.2 254.0 L1468.7 255.0 L1469.2 253.8 L1469.7 259.6 L1470.2 256.6 L1470.7 262.8 L1471.2 258.7 L1471.7 265.1 L1472.2 261.8 L1472.7 265.0 L1473.2 265.2 L1473.7 258.0 L1474.2 261.0 L1474.8 254.6 L1475.3 257.6 L1475.8 250.6 L1476.3 253.5 L1476.8 249.0 L1477.3 244.3 L1477.8 248.2 L1478.3 241.7 L1478.8 244.3 L1479.3 237.9 L1479.8 241.1 L1480.3 234.1 L1480.8 235.0 L1481.3 235.6 L1481.9 229.4 L1482.5 232.8 L1483.0 229.0 L1483.5 225.8 L1484.0 228.3 L1484.5 222.5 L1485.0 225.3 L1485.5 219.2 L1486.0 223.4 L1486.5 216.1 L1487.0 220.1 L1487.5 213.3 L1488.0 214.7 L1488.5 220.5 L1489.0 219.0 L1489.5 227.7 L1490.0 226.4 L1490.5 233.9 L1491.0 235.0 L1491.5 240.8 L1492.0 253.2 L1492.5 256.7 L1493.0 267.0 L1493.5 266.9 L1494.0 260.4 L1494.5 263.9 L1495.0 256.9 L1495.5 259.0 L1496.0 252.8 L1496.5 255.8 L1497.0 251.0 L1497.5 250.3 L1498.0 256.4 L1498.5 253.0 L1499.0 258.8 L1499.5 255.0 L1500.0 259.0 L1500.5 256.9 L1501.0 247.8 L1501.5 247.9 L1502.0 237.5 L1502.5 238.0 L1503.0 231.0 L1503.5 227.5 L1504.0 232.2 L1504.5 227.0 L1505.0 230.6 L1505.5 224.9 L1506.0 227.0 L1506.5 232.0 L1507.0 230.5 L1507.5 237.0 L1508.0 235.6 L1508.5 242.8 L1509.0 243.0 L1509.5 237.4 L1510.0 239.3 L1510.5 231.7 L1511.0 234.0 L1511.5 225.8 L1512.0 225.0 L1512.5 231.9 L1513.0 231.6 L1513.5 240.4 L1514.0 240.3 L1514.5 248.6 L1515.0 251.0 L1515.5 250.8 L1516.0 256.9 L1516.5 254.7 L1517.0 261.6 L1517.5 258.5 L1518.0 263.0 L1518.5 263.4 L1519.0 256.0 L1519.5 257.9 L1520.0 251.0 L1520.5 253.6 L1521.0 249.0 L1521.5 258.3 L1522.0 276.0 L1522.5 282.6 L1523.0 297.0 L1523.5 291.4 L1524.0 279.4 L1524.5 276.4 L1525.0 264.2 L1525.5 260.6 L1526.0 251.0 L1526.5 244.2 L1527.0 244.6 L1527.5 234.7 L1528.0 233.0 L1528.5 235.3 L1529.0 229.3 L1529.5 234.6 L1530.0 229.1 L1530.5 233.6 L1531.0 228.7 L1531.5 233.0 L1532.0 227.2 L1532.5 231.5 L1533.0 229.0 L1533.5 223.6 L1534.0 225.0 L1534.5 217.1 L1535.0 219.1 L1535.5 211.0 L1536.0 210.7 L1536.5 209.6 L1537.0 199.9 L1537.5 200.9 L1538.0 194.6 L1538.5 194.1 L1539.0 200.9 L1539.5 196.8 L1540.0 203.4 L1540.5 200.8 L1541.0 204.7 L1541.5 211.8 L1542.0 210.8 L1542.5 220.0 L1543.0 219.9 L1543.5 229.6 L1544.0 231.0 L1544.5 234.4 L1545.0 243.8 L1545.5 244.4 L1546.0 255.2 L1546.5 254.7 L1547.0 263.0 L1547.5 269.4 L1548.0 268.3 L1548.5 278.0 L1549.0 279.0 L1549.5 269.5 L1550.0 266.4 L1550.5 254.9 L1551.0 252.4 L1551.5 240.4 L1552.0 235.0 L1552.5 234.2 L1553.0 225.6 L1553.4 227.3 L1553.9 219.5 L1554.4 218.8 L1554.9 226.6 L1555.4 226.6 L1556.0 237.3 L1556.5 237.9 L1557.0 248.5 L1557.5 251.0 L1558.0 245.0 L1558.5 246.3 L1559.0 238.2 L1559.5 239.9 L1560.0 231.4 L1560.5 231.0 L1561.0 228.4 L1561.5 217.5 L1562.0 216.6 L1562.5 208.7 L1563.0 213.2 L1563.5 224.0 L1564.0 226.4 L1564.5 235.0 L1565.0 238.3 L1565.5 235.0 L1566.0 240.9 L1566.5 237.8 L1567.0 244.2 L1567.5 243.0 L1568.0 245.0 L1568.5 254.8 L1569.0 254.1 L1569.5 263.8 L1570.0 264.4 L1570.5 271.0 L1571.0 295.6 L1571.5 315.3 L1572.0 304.6 L1572.5 301.1 L1573.1 286.7 L1573.6 281.0 L1574.1 280.3 L1574.6 271.5 L1575.1 273.1 L1575.6 265.3 L1576.1 266.6 L1576.6 261.0 L1577.1 255.8 L1577.6 257.2 L1578.1 249.6 L1578.6 251.6 L1579.1 244.2 L1579.6 243.0 L1580.1 241.7 L1580.6 233.6 L1581.1 234.9 L1581.6 225.7 L1582.1 227.0 L1582.6 220.8 L1583.1 214.6 L1583.6 215.4 L1584.1 206.1 L1584.6 207.6 L1585.1 198.2 L1585.6 198.8 L1586.1 190.1 L1586.6 188.6 L1587.1 195.5 L1587.6 196.0 L1588.2 205.9 L1588.7 206.1 L1589.2 215.7 L1589.7 218.8 L1590.2 220.3 L1590.7 228.9 L1591.2 229.1 L1591.7 237.0 L1592.2 236.1 L1592.7 243.0 L1593.2 242.3 L1593.7 234.6 L1594.2 236.7 L1594.7 231.0 L1595.2 246.1 L1595.7 269.3 L1596.2 282.6 L1596.7 303.3 L1597.2 299.0 L1597.7 286.4 L1598.2 284.4 L1598.7 272.7 L1599.2 270.8 L1599.7 261.0 L1600.2 262.4 L1600.7 270.4 L1601.2 268.9 L1601.7 275.0 L1602.0 291.0 L1602.5 295.5 L1603.1 292.2 L1603.6 298.6 L1604.2 295.6 L1604.7 299.3 L1605.0 231.0 L1605.5 250.0 L1606.0 262.6 L1606.5 284.6 L1607.0 299.0 L1607.5 285.1 L1608.0 279.3 L1608.5 263.0 L1609.0 256.1 L1609.5 240.0 L1610.0 231.0 L1610.5 231.1 L1611.0 224.0 L1611.5 226.8 L1612.0 222.8 L1612.5 220.0 L1613.0 223.3 L1613.5 218.2 L1614.0 222.7 L1614.5 217.4 L1615.0 218.8 L1615.5 228.1 L1616.0 229.0 L1616.5 239.9 L1617.0 241.3 L1617.5 253.5 L1618.0 257.0 L1618.5 243.7 L1619.0 237.7 L1619.5 221.8 L1620.0 212.7 L1620.5 216.6 L1621.0 213.8 L1621.5 220.7 L1622.0 217.3 L1622.5 223.4 L1623.0 222.8 L1623.5 230.3 L1624.0 244.7 L1624.5 249.4 L1625.0 261.0 L1625.5 238.7 L1626.0 208.5 L1626.5 188.0 L1627.0 160.4 L1627.5 159.6 L1628.0 166.6 L1628.5 164.0 L1629.0 168.5 L1629.5 196.2 L1630.0 218.8 L1630.5 219.4 L1631.0 227.2 L1631.5 225.4 L1632.0 231.0 L1632.5 220.1 L1633.0 202.8 L1633.5 193.4 L1634.0 178.5 L1634.5 170.4 L1635.0 169.9 L1635.5 159.2 L1636.0 156.4 L1636.5 159.4 L1637.0 155.8 L1637.5 161.7 L1638.0 160.4 L1638.5 165.5 L1639.0 178.3 L1639.5 180.6 L1640.0 190.6 L1640.5 217.0 L1641.0 236.2 L1641.5 264.9 L1642.0 287.0 L1642.5 258.1 L1643.0 237.2 L1643.5 206.8 L1644.0 182.6 L1644.5 186.0 L1645.0 181.7 L1645.5 188.6 L1646.0 186.6 L1646.5 215.5 L1647.0 251.1 L1647.5 277.2 L1648.0 311.3 L1648.5 318.1 L1649.0 318.9 L1649.5 327.5 L1650.0 327.7 L1650.5 337.4 L1651.0 339.5 L1651.6 308.1 L1652.1 282.7 L1652.7 251.0 L1653.2 236.9 L1653.8 230.4 L1654.3 216.8 L1654.8 195.2 L1655.3 180.2 L1655.8 155.6 L1656.3 138.3 L1656.8 137.4 L1657.3 128.9 L1657.9 130.5 L1658.4 124.2 L1658.9 117.8 L1659.4 119.1 L1659.9 109.3 L1660.4 108.1 L1660.9 131.9 L1661.4 150.4 L1661.9 186.2 L1662.4 226.8 L1662.9 247.4 L1663.5 260.7 L1664.0 281.0 L1664.5 296.4 L1664.9 305.1 L1665.4 321.4 L1665.9 362.4 L1666.4 397.8 L1666.9 339.7 L1667.4 287.0" fill="none" stroke="#0a0aff" stroke-width="4.6" stroke-linejoin="miter" stroke-miterlimit="3" stroke-linecap="butt"/>
<line x1="969.0" y1="241.0" x2="1666.0" y2="241.0" stroke="#808080" stroke-width="2"/>
<rect x="969.8" y="38.5" width="104.7" height="403.5" fill="#FFC000" fill-opacity="0.25"/>
<rect x="1074.5" y="38.5" width="104.5" height="403.5" fill="#FF0000" fill-opacity="0.25"/>
<rect x="1222.4" y="38.5" width="73.6" height="403.5" fill="#00B050" fill-opacity="0.25"/>
<line x1="971.0" y1="104.0" x2="971.0" y2="243.0" stroke="#0a0aff" stroke-width="3"/>
<line x1="968.5" y1="38.5" x2="968.5" y2="443.0" stroke="#000" stroke-width="2"/>
<line x1="961.5" y1="39.4" x2="968.5" y2="39.4" stroke="#000" stroke-width="1.5"/>
<line x1="963.5" y1="73.0" x2="968.5" y2="73.0" stroke="#000" stroke-width="1.5"/>
<line x1="961.5" y1="106.6" x2="968.5" y2="106.6" stroke="#000" stroke-width="1.5"/>
<line x1="963.5" y1="140.2" x2="968.5" y2="140.2" stroke="#000" stroke-width="1.5"/>
<line x1="961.5" y1="173.8" x2="968.5" y2="173.8" stroke="#000" stroke-width="1.5"/>
<line x1="963.5" y1="207.4" x2="968.5" y2="207.4" stroke="#000" stroke-width="1.5"/>
<line x1="961.5" y1="241.0" x2="968.5" y2="241.0" stroke="#000" stroke-width="1.5"/>
<line x1="963.5" y1="274.6" x2="968.5" y2="274.6" stroke="#000" stroke-width="1.5"/>
<line x1="961.5" y1="308.2" x2="968.5" y2="308.2" stroke="#000" stroke-width="1.5"/>
<line x1="963.5" y1="341.8" x2="968.5" y2="341.8" stroke="#000" stroke-width="1.5"/>
<line x1="961.5" y1="375.4" x2="968.5" y2="375.4" stroke="#000" stroke-width="1.5"/>
<line x1="963.5" y1="409.0" x2="968.5" y2="409.0" stroke="#000" stroke-width="1.5"/>
<line x1="961.5" y1="442.6" x2="968.5" y2="442.6" stroke="#000" stroke-width="1.5"/>
<rect x="967.5" y="442.2" width="701.0" height="6.8" fill="#000"/>
<text x="1205.8" y="23.7" font-size="19.2" fill="#000" stroke="#000" stroke-width="0.3" font-weight="bold" textLength="190.5" lengthAdjust="spacingAndGlyphs">Regression coefficients</text>
<text x="927.0" y="46.0" font-size="18.4" fill="#000" stroke="#000" stroke-width="0.3" textLength="29.2" lengthAdjust="spacingAndGlyphs">150</text>
<text x="927.0" y="113.2" font-size="18.4" fill="#000" stroke="#000" stroke-width="0.3" textLength="29.2" lengthAdjust="spacingAndGlyphs">100</text>
<text x="936.8" y="180.4" font-size="18.4" fill="#000" stroke="#000" stroke-width="0.3" textLength="19.4" lengthAdjust="spacingAndGlyphs">50</text>
<text x="946.5" y="247.6" font-size="18.4" fill="#000" stroke="#000" stroke-width="0.3" textLength="9.7" lengthAdjust="spacingAndGlyphs">0</text>
<text x="930.9" y="314.8" font-size="18.4" fill="#000" stroke="#000" stroke-width="0.3" textLength="25.3" lengthAdjust="spacingAndGlyphs">-50</text>
<text x="921.2" y="382.0" font-size="18.4" fill="#000" stroke="#000" stroke-width="0.3" textLength="35.0" lengthAdjust="spacingAndGlyphs">-100</text>
<text x="921.2" y="449.2" font-size="18.4" fill="#000" stroke="#000" stroke-width="0.3" textLength="35.0" lengthAdjust="spacingAndGlyphs">-150</text>
<text x="914.9" y="343.0" font-size="17.3" fill="#000" stroke="#000" stroke-width="0.3" textLength="216.4" lengthAdjust="spacingAndGlyphs" transform="rotate(-90 914.9 343.0)">Regression Coefficients (B)</text>
<text x="937.1" y="469.3" font-size="18.4" fill="#000" stroke="#000" stroke-width="0.3" textLength="61.6" lengthAdjust="spacingAndGlyphs">412.867</text>
<text x="1008.0" y="469.3" font-size="18.4" fill="#000" stroke="#000" stroke-width="0.3" textLength="51.4" lengthAdjust="spacingAndGlyphs">472.49</text>
<text x="1067.8" y="469.3" font-size="18.4" fill="#000" stroke="#000" stroke-width="0.3" textLength="27.5" lengthAdjust="spacingAndGlyphs">516</text>
<text x="1110.8" y="469.3" font-size="18.4" fill="#000" stroke="#000" stroke-width="0.3" textLength="26.2" lengthAdjust="spacingAndGlyphs">554</text>
<text x="1145.5" y="469.3" font-size="18.4" fill="#000" stroke="#000" stroke-width="0.3" textLength="51.3" lengthAdjust="spacingAndGlyphs">595.08</text>
<text x="1205.2" y="469.3" font-size="18.4" fill="#000" stroke="#000" stroke-width="0.3" textLength="51.4" lengthAdjust="spacingAndGlyphs">647.68</text>
<text x="1265.0" y="469.3" font-size="18.4" fill="#000" stroke="#000" stroke-width="0.3" textLength="51.5" lengthAdjust="spacingAndGlyphs">700.11</text>
<text x="1326.0" y="469.3" font-size="18.4" fill="#000" stroke="#000" stroke-width="0.3" textLength="52.0" lengthAdjust="spacingAndGlyphs">749.09</text>
<text x="1387.5" y="469.3" font-size="18.4" fill="#000" stroke="#000" stroke-width="0.3" textLength="51.4" lengthAdjust="spacingAndGlyphs">798.39</text>
<text x="1449.6" y="469.3" font-size="18.4" fill="#000" stroke="#000" stroke-width="0.3" textLength="41.4" lengthAdjust="spacingAndGlyphs">843.6</text>
<text x="1499.8" y="469.3" font-size="18.4" fill="#000" stroke="#000" stroke-width="0.3" textLength="60.5" lengthAdjust="spacingAndGlyphs">888.889</text>
<text x="1568.4" y="469.3" font-size="18.4" fill="#000" stroke="#000" stroke-width="0.3" textLength="51.6" lengthAdjust="spacingAndGlyphs">936.98</text>
<text x="1628.0" y="469.3" font-size="18.4" fill="#000" stroke="#000" stroke-width="0.3" textLength="43.0" lengthAdjust="spacingAndGlyphs">980.6</text>
<text x="1164.5" y="492.6" font-size="18" fill="#000" stroke="#000" stroke-width="0.3" textLength="305.5" lengthAdjust="spacingAndGlyphs">X-Variables (Brix, Factor-7, B0:19,5367)</text>
<rect x="1.5" y="570.5" width="846.0" height="485.0" fill="none" stroke="#000" stroke-width="3"/>
<line x1="94.0" y1="593.5" x2="99.0" y2="593.5" stroke="#444" stroke-width="1.5"/>
<line x1="94.0" y1="654.7" x2="99.0" y2="654.7" stroke="#444" stroke-width="1.5"/>
<line x1="94.0" y1="721.0" x2="99.0" y2="721.0" stroke="#444" stroke-width="1.5"/>
<line x1="94.0" y1="787.5" x2="99.0" y2="787.5" stroke="#444" stroke-width="1.5"/>
<line x1="94.0" y1="854.0" x2="99.0" y2="854.0" stroke="#444" stroke-width="1.5"/>
<line x1="94.0" y1="920.7" x2="99.0" y2="920.7" stroke="#444" stroke-width="1.5"/>
<path d="M99.7 657.2 L99.7 788.4 L100.0 717.4 L100.8 719.3 L101.5 721.7 L102.2 724.1 L103.0 726.0 L103.6 725.2 L104.2 725.0 L104.8 723.9 L105.4 723.7 L106.0 722.8 L106.6 722.6 L107.2 723.1 L107.8 722.6 L108.4 723.1 L109.0 722.5 L109.6 723.1 L110.2 722.6 L110.8 723.1 L111.4 722.5 L112.0 723.0 L112.6 722.6 L113.2 723.1 L113.8 722.5 L114.4 723.0 L115.0 722.8 L115.6 722.9 L116.2 723.6 L116.9 723.4 L117.5 724.2 L118.1 723.9 L118.8 724.6 L119.4 724.5 L120.0 725.0 L120.6 725.5 L121.2 725.3 L121.9 726.0 L122.5 725.8 L123.1 726.6 L123.8 726.4 L124.4 727.1 L125.0 727.1 L125.6 726.8 L126.2 727.0 L126.9 726.4 L127.5 726.8 L128.1 726.1 L128.8 726.6 L129.4 725.9 L130.0 726.0 L130.6 725.7 L131.2 724.7 L131.9 724.7 L132.5 723.7 L133.1 723.6 L133.8 722.6 L134.4 722.4 L135.0 721.7 L135.6 720.8 L136.2 720.6 L136.9 719.4 L137.5 719.2 L138.1 718.1 L138.8 717.9 L139.4 716.7 L140.0 716.3 L140.6 716.5 L141.2 716.1 L141.9 716.6 L142.5 716.1 L143.1 716.6 L143.8 716.0 L144.4 716.5 L145.0 716.3 L145.6 716.2 L146.2 716.9 L146.9 716.6 L147.5 717.3 L148.1 717.0 L148.8 717.6 L149.4 717.4 L150.0 717.8 L150.6 718.1 L151.2 717.7 L151.8 718.2 L152.4 717.9 L152.9 718.4 L153.5 718.0 L154.1 718.6 L154.7 718.2 L155.3 718.8 L155.9 718.4 L156.5 718.9 L157.1 718.5 L157.6 719.1 L158.2 718.6 L158.8 719.2 L159.4 718.8 L160.0 719.1 L160.6 719.1 L161.2 718.5 L161.9 718.7 L162.5 718.0 L163.1 718.3 L163.8 717.5 L164.4 717.9 L165.0 717.4 L165.6 717.0 L166.2 717.3 L166.9 716.8 L167.5 717.1 L168.1 716.4 L168.8 716.8 L169.4 716.2 L170.0 716.3 L170.6 716.6 L171.2 716.2 L171.8 716.7 L172.4 716.2 L173.0 716.7 L173.6 716.3 L174.2 716.8 L174.8 716.5 L175.4 716.9 L176.0 716.6 L176.6 717.1 L177.2 716.5 L177.8 717.1 L178.4 716.6 L179.0 717.2 L179.6 716.8 L180.2 717.2 L180.8 716.9 L181.4 717.4 L182.0 717.0 L182.6 717.5 L183.2 717.0 L183.8 717.6 L184.4 717.2 L185.0 717.4 L185.6 717.7 L186.2 717.2 L186.8 717.7 L187.4 717.3 L187.9 717.7 L188.5 717.3 L189.1 717.8 L189.7 717.3 L190.3 717.9 L190.9 717.4 L191.5 717.9 L192.1 717.4 L192.6 717.9 L193.2 717.5 L193.8 718.0 L194.4 717.5 L195.0 717.8 L195.6 718.2 L196.2 717.8 L196.8 718.5 L197.4 718.3 L197.9 718.8 L198.5 718.6 L199.1 719.2 L199.7 718.9 L200.3 719.6 L200.9 719.2 L201.5 719.9 L202.1 719.6 L202.6 720.2 L203.2 719.8 L203.8 720.5 L204.4 720.1 L205.0 720.6 L205.6 721.0 L206.2 720.8 L206.8 721.4 L207.4 721.2 L207.9 721.9 L208.5 721.5 L209.1 722.2 L209.7 721.9 L210.3 722.6 L210.9 722.3 L211.5 722.9 L212.1 722.7 L212.6 723.3 L213.2 723.0 L213.8 723.8 L214.4 723.5 L215.0 723.9 L215.6 724.2 L216.2 723.9 L216.8 724.5 L217.4 724.0 L217.9 724.6 L218.5 724.3 L219.1 724.8 L219.7 724.4 L220.3 725.0 L220.9 724.6 L221.5 725.2 L222.1 724.8 L222.6 725.4 L223.2 725.0 L223.8 725.6 L224.4 725.3 L225.0 725.6 L225.6 725.9 L226.2 725.3 L226.8 725.8 L227.4 725.4 L228.0 725.8 L228.6 725.4 L229.2 725.9 L229.8 725.4 L230.4 725.8 L231.0 725.4 L231.6 725.8 L232.2 725.4 L232.8 725.8 L233.4 725.3 L234.0 725.9 L234.6 725.4 L235.2 725.9 L235.8 725.3 L236.4 725.8 L237.0 725.4 L237.6 725.8 L238.2 725.3 L238.8 725.9 L239.4 725.4 L240.0 725.6 L240.6 725.8 L241.2 725.3 L241.8 725.8 L242.4 725.2 L242.9 725.7 L243.5 725.1 L244.1 725.6 L244.7 725.1 L245.3 725.5 L245.9 725.0 L246.5 725.5 L247.1 725.0 L247.6 725.4 L248.2 724.9 L248.8 725.3 L249.4 724.7 L250.0 725.0 L250.6 725.1 L251.2 724.5 L251.8 724.8 L252.4 724.2 L252.9 724.6 L253.5 723.9 L254.1 724.3 L254.7 723.7 L255.3 724.1 L255.9 723.4 L256.5 723.8 L257.1 723.3 L257.6 723.6 L258.2 723.0 L258.8 723.3 L259.4 722.7 L260.0 722.8 L260.6 722.9 L261.2 722.2 L261.8 722.6 L262.4 721.9 L262.9 722.2 L263.5 721.6 L264.1 721.9 L264.7 721.3 L265.3 721.6 L265.9 720.9 L266.5 721.2 L267.1 720.6 L267.6 720.9 L268.2 720.3 L268.8 720.6 L269.4 719.9 L270.0 720.0 L270.6 720.1 L271.2 719.5 L271.8 719.9 L272.4 719.2 L272.9 719.5 L273.5 719.0 L274.1 719.4 L274.7 718.7 L275.3 719.1 L275.9 718.5 L276.5 718.8 L277.1 718.2 L277.6 718.6 L278.2 717.9 L278.8 718.3 L279.4 717.7 L280.0 717.8 L280.6 718.0 L281.2 717.5 L281.8 718.0 L282.4 717.4 L283.0 717.9 L283.6 717.4 L284.2 717.8 L284.8 717.3 L285.4 717.7 L286.0 717.3 L286.6 717.7 L287.2 717.2 L287.8 717.7 L288.4 717.1 L289.0 717.6 L289.6 717.0 L290.2 717.5 L290.8 717.0 L291.4 717.5 L292.0 716.9 L292.6 717.4 L293.2 716.8 L293.8 717.3 L294.4 716.8 L295.0 717.0 L295.6 717.2 L296.2 716.7 L296.8 717.1 L297.4 716.5 L298.0 716.9 L298.6 716.3 L299.2 716.7 L299.8 716.3 L300.4 716.7 L301.0 716.1 L301.6 716.5 L302.2 716.0 L302.8 716.3 L303.4 715.8 L304.0 716.2 L304.6 715.6 L305.2 716.1 L305.8 715.5 L306.4 715.9 L307.0 715.4 L307.6 715.8 L308.2 715.2 L308.8 715.7 L309.4 715.1 L310.0 715.3 L310.6 715.6 L311.2 715.2 L311.8 715.7 L312.4 715.3 L312.9 715.8 L313.5 715.4 L314.1 716.0 L314.7 715.5 L315.3 716.1 L315.9 715.6 L316.5 716.2 L317.1 715.8 L317.6 716.3 L318.2 715.9 L318.8 716.4 L319.4 716.0 L320.0 716.3 L320.6 716.5 L321.2 716.2 L321.8 716.6 L322.4 716.1 L323.0 716.8 L323.6 716.3 L324.2 716.8 L324.8 716.4 L325.4 716.9 L326.0 716.4 L326.5 717.0 L327.1 716.4 L327.7 717.1 L328.3 716.5 L328.9 717.0 L329.5 716.7 L330.1 717.2 L330.7 716.7 L331.3 717.3 L331.9 716.8 L332.5 717.3 L333.1 716.8 L333.7 717.4 L334.3 717.0 L334.9 717.4 L335.5 717.0 L336.1 717.5 L336.7 717.0 L337.3 717.6 L337.9 717.1 L338.5 717.6 L339.0 717.2 L339.6 717.8 L340.2 717.3 L340.8 717.8 L341.4 717.3 L342.0 717.9 L342.6 717.4 L343.2 718.0 L343.8 717.5 L344.4 718.1 L345.0 717.8 L345.6 717.7 L346.2 718.3 L346.8 718.0 L347.4 718.5 L347.9 718.2 L348.5 718.9 L349.1 718.5 L349.7 719.1 L350.3 718.8 L350.9 719.3 L351.5 718.9 L352.1 719.6 L352.6 719.3 L353.2 719.9 L353.8 719.6 L354.4 720.1 L355.0 720.0 L355.6 719.9 L356.2 720.6 L356.8 720.2 L357.4 720.9 L357.9 720.5 L358.5 721.3 L359.1 720.9 L359.7 721.5 L360.3 721.3 L360.9 721.9 L361.5 721.5 L362.1 722.2 L362.6 721.9 L363.2 722.5 L363.8 722.3 L364.4 722.9 L365.0 722.8 L365.6 722.7 L366.2 723.4 L366.8 723.2 L367.4 723.8 L367.9 723.5 L368.5 724.2 L369.1 723.9 L369.7 724.6 L370.3 724.3 L370.9 724.9 L371.5 724.6 L372.1 725.3 L372.6 725.0 L373.2 725.6 L373.8 725.3 L374.4 726.0 L375.0 726.0 L375.6 726.0 L376.2 726.6 L376.8 726.4 L377.4 726.9 L377.9 726.8 L378.5 727.4 L379.1 727.1 L379.7 727.8 L380.3 727.4 L380.9 728.2 L381.5 727.9 L382.1 728.5 L382.6 728.2 L383.2 728.9 L383.8 728.6 L384.4 729.2 L385.0 729.2 L385.6 729.0 L386.2 729.6 L386.9 729.3 L387.5 729.8 L388.1 729.4 L388.8 730.0 L389.4 729.6 L390.0 729.9 L390.6 730.0 L391.2 729.5 L391.8 729.7 L392.5 729.1 L393.1 729.4 L393.7 728.9 L394.3 729.3 L394.9 728.6 L395.5 729.0 L396.2 728.3 L396.8 728.8 L397.4 728.0 L398.0 728.2 L398.6 728.1 L399.2 727.3 L399.8 727.4 L400.3 726.7 L400.9 726.8 L401.5 726.0 L402.1 726.1 L402.7 725.4 L403.2 725.5 L403.8 724.8 L404.4 724.9 L405.0 724.3 L405.6 723.6 L406.2 723.7 L406.8 722.9 L407.3 722.9 L407.9 722.1 L408.5 722.2 L409.1 721.3 L409.7 721.4 L410.2 720.5 L410.8 720.6 L411.4 719.7 L412.0 719.6 L412.6 719.6 L413.2 719.0 L413.8 719.3 L414.5 718.5 L415.1 718.8 L415.7 718.1 L416.3 718.5 L416.9 717.7 L417.5 718.0 L418.2 717.3 L418.8 717.6 L419.4 716.9 L420.0 717.0 L420.6 717.1 L421.2 716.6 L421.8 717.0 L422.4 716.4 L422.9 716.8 L423.5 716.3 L424.1 716.6 L424.7 716.2 L425.3 716.5 L425.9 716.0 L426.5 716.3 L427.1 715.9 L427.6 716.3 L428.2 715.7 L428.8 716.1 L429.4 715.5 L430.0 715.7 L430.6 715.9 L431.2 715.4 L431.8 716.0 L432.4 715.4 L433.0 715.8 L433.6 715.4 L434.1 715.8 L434.7 715.3 L435.3 715.9 L435.9 715.3 L436.5 715.8 L437.1 715.3 L437.7 715.8 L438.3 715.3 L438.9 715.8 L439.5 715.3 L440.1 715.7 L440.7 715.2 L441.3 715.6 L441.9 715.1 L442.4 715.6 L443.0 715.1 L443.6 715.6 L444.2 715.1 L444.8 715.6 L445.4 715.1 L446.0 715.3 L446.7 714.8 L447.3 713.7 L448.0 713.2 L448.7 714.2 L449.3 714.5 L450.0 715.5 L450.6 715.8 L451.2 715.2 L451.8 715.7 L452.4 715.3 L453.0 715.7 L453.6 715.3 L454.2 715.8 L454.8 715.3 L455.4 715.8 L456.0 715.3 L456.6 715.7 L457.2 715.3 L457.8 715.8 L458.4 715.3 L459.0 715.8 L459.6 715.4 L460.2 715.8 L460.8 715.3 L461.4 715.8 L462.0 715.3 L462.6 715.8 L463.2 715.3 L463.8 715.8 L464.4 715.4 L465.0 715.8 L465.6 715.4 L466.2 715.8 L466.8 715.4 L467.4 715.9 L468.0 715.4 L468.6 715.9 L469.2 715.3 L469.8 715.9 L470.4 715.4 L471.0 715.9 L471.6 715.4 L472.2 715.9 L472.8 715.4 L473.4 715.9 L474.0 715.4 L474.6 715.9 L475.2 715.4 L475.8 716.0 L476.4 715.5 L477.0 715.9 L477.6 715.5 L478.2 715.9 L478.8 715.4 L479.4 715.9 L480.0 715.7 L480.6 715.6 L481.2 716.3 L481.9 716.0 L482.5 716.6 L483.1 716.3 L483.8 716.9 L484.4 716.6 L485.0 717.0 L485.6 717.3 L486.2 716.8 L486.8 717.4 L487.4 717.0 L488.0 717.5 L488.6 717.0 L489.2 717.6 L489.8 717.2 L490.5 717.7 L491.1 717.2 L491.7 717.7 L492.3 717.3 L492.9 717.8 L493.5 717.4 L494.1 717.9 L494.7 717.5 L495.3 718.0 L495.9 717.6 L496.5 718.1 L497.1 717.6 L497.7 718.2 L498.3 717.7 L498.9 718.2 L499.5 717.9 L500.2 718.4 L500.8 717.9 L501.4 718.5 L502.0 718.1 L502.6 718.5 L503.2 718.1 L503.8 718.7 L504.4 718.2 L505.0 718.5 L505.6 718.7 L506.2 718.2 L506.8 718.7 L507.4 718.3 L508.0 718.8 L508.6 718.3 L509.2 718.8 L509.8 718.4 L510.4 718.8 L511.0 718.3 L511.6 718.9 L512.2 718.4 L512.8 718.9 L513.4 718.5 L514.1 718.9 L514.7 718.4 L515.3 718.9 L515.9 718.5 L516.5 718.9 L517.1 718.4 L517.7 718.9 L518.3 718.4 L518.9 719.0 L519.5 718.5 L520.1 719.0 L520.7 718.5 L521.3 719.1 L521.9 718.6 L522.5 719.0 L523.1 718.6 L523.7 719.0 L524.3 718.5 L524.9 719.1 L525.5 718.7 L526.1 719.1 L526.7 718.6 L527.3 719.2 L527.9 718.7 L528.5 719.1 L529.1 718.6 L529.7 719.2 L530.3 718.7 L530.9 719.2 L531.6 718.7 L532.2 719.2 L532.8 718.7 L533.4 719.2 L534.0 718.8 L534.6 719.2 L535.2 718.8 L535.8 719.3 L536.4 718.8 L537.0 719.3 L537.6 718.8 L538.2 719.3 L538.8 718.8 L539.4 719.4 L540.0 719.1 L540.6 719.0 L541.2 719.8 L541.9 719.4 L542.5 720.1 L543.1 719.8 L543.8 720.4 L544.4 720.2 L545.0 720.6 L545.6 720.8 L546.2 720.5 L546.8 720.9 L547.4 720.6 L547.9 721.0 L548.5 720.6 L549.1 721.2 L549.7 720.7 L550.3 721.2 L550.9 720.8 L551.5 721.3 L552.1 720.8 L552.6 721.4 L553.2 720.9 L553.8 721.5 L554.4 721.0 L555.0 721.3 L555.7 722.2 L556.3 722.5 L557.0 723.4 L557.6 723.2 L558.2 722.3 L558.8 722.4 L559.4 721.5 L560.0 721.3 L560.6 721.6 L561.2 721.3 L561.9 721.8 L562.5 721.5 L563.1 722.1 L563.8 721.7 L564.4 722.4 L565.0 722.2 L565.6 722.0 L566.2 722.4 L566.8 722.0 L567.4 722.4 L568.0 722.0 L568.6 722.4 L569.2 721.9 L569.8 722.4 L570.4 721.9 L571.0 722.4 L571.6 722.0 L572.2 722.5 L572.8 722.0 L573.4 722.4 L574.1 722.0 L574.7 722.4 L575.3 722.0 L575.9 722.4 L576.5 722.0 L577.1 722.5 L577.7 722.0 L578.3 722.5 L578.9 722.0 L579.5 722.4 L580.1 721.9 L580.7 722.5 L581.3 722.0 L581.9 722.5 L582.5 722.0 L583.1 722.4 L583.7 721.9 L584.3 722.5 L584.9 721.9 L585.5 722.4 L586.1 721.9 L586.7 722.5 L587.3 721.9 L587.9 722.4 L588.5 721.9 L589.1 722.5 L589.7 722.0 L590.3 722.4 L590.9 721.9 L591.6 722.5 L592.2 721.9 L592.8 722.4 L593.4 721.9 L594.0 722.4 L594.6 722.0 L595.2 722.5 L595.8 722.0 L596.4 722.5 L597.0 721.9 L597.6 722.4 L598.2 722.0 L598.8 722.4 L599.4 722.0 L600.0 722.2 L600.6 722.6 L601.2 721.7 L601.8 722.5 L602.4 721.6 L603.0 722.7 L603.6 721.7 L604.2 722.6 L604.8 721.6 L605.4 722.7 L606.0 721.6 L606.6 722.5 L607.2 721.6 L607.8 722.5 L608.4 721.5 L609.1 722.6 L609.7 721.6 L610.3 722.6 L610.9 721.5 L611.5 722.6 L612.1 721.6 L612.7 722.6 L613.3 721.6 L613.9 722.6 L614.5 721.5 L615.1 722.6 L615.7 721.5 L616.3 722.4 L616.9 721.5 L617.5 722.4 L618.1 721.4 L618.7 722.4 L619.3 721.5 L619.9 722.5 L620.5 721.4 L621.1 722.3 L621.7 721.4 L622.3 722.5 L622.9 721.4 L623.5 722.2 L624.1 721.4 L624.7 722.4 L625.3 721.3 L625.9 722.3 L626.6 721.4 L627.2 722.3 L627.8 721.4 L628.4 722.4 L629.0 721.2 L629.6 722.2 L630.2 721.4 L630.8 722.1 L631.4 721.3 L632.0 722.3 L632.6 721.3 L633.2 722.1 L633.8 721.2 L634.4 722.2 L635.0 721.7 L635.6 721.1 L636.2 722.0 L636.9 720.9 L637.5 721.8 L638.1 720.7 L638.8 721.5 L639.4 720.4 L640.0 720.9 L640.6 721.5 L641.2 720.4 L641.9 721.6 L642.5 720.5 L643.1 721.5 L643.8 720.8 L644.4 721.7 L645.0 721.3 L645.6 721.0 L646.2 722.3 L646.9 721.7 L647.5 722.9 L648.1 722.0 L648.8 723.2 L649.4 722.8 L650.0 723.4 L650.6 724.2 L651.2 723.5 L651.9 724.8 L652.5 724.1 L653.1 725.3 L653.8 724.6 L654.4 725.8 L655.0 725.6 L655.6 725.0 L656.2 725.9 L656.9 724.9 L657.5 725.8 L658.1 724.7 L658.8 725.5 L659.4 724.6 L660.0 724.9 L660.6 725.3 L661.2 724.3 L661.9 725.2 L662.5 724.2 L663.1 724.9 L663.8 724.0 L664.4 724.9 L665.0 724.3 L665.6 724.0 L666.2 725.2 L666.9 724.2 L667.5 725.5 L668.1 724.6 L668.8 725.8 L669.4 725.0 L670.0 725.6 L670.6 726.2 L671.2 725.3 L671.9 726.3 L672.5 725.2 L673.1 726.2 L673.8 725.5 L674.4 726.5 L675.0 726.0 L675.6 725.3 L676.2 726.0 L676.9 725.0 L677.5 725.6 L678.1 724.4 L678.8 725.3 L679.4 724.0 L680.0 724.3 L680.6 725.0 L681.2 724.3 L681.9 725.5 L682.5 724.7 L683.1 725.8 L683.8 725.1 L684.4 726.4 L685.0 726.0 L685.6 725.7 L686.2 726.7 L686.9 725.9 L687.5 727.1 L688.1 726.3 L688.8 727.4 L689.4 726.6 L690.0 727.1 L690.6 727.5 L691.2 726.5 L691.9 727.7 L692.5 726.6 L693.1 727.5 L693.8 726.7 L694.4 727.6 L695.0 727.1 L695.6 726.4 L696.2 727.1 L696.9 725.9 L697.5 726.4 L698.1 725.4 L698.8 725.9 L699.4 724.7 L700.0 724.9 L700.6 725.3 L701.2 724.1 L701.9 724.7 L702.5 723.7 L703.1 724.5 L703.8 723.3 L704.4 724.0 L705.0 723.4 L705.6 722.6 L706.2 723.5 L706.9 722.3 L707.5 723.1 L708.1 721.9 L708.8 722.6 L709.4 721.4 L710.0 721.7 L710.6 722.0 L711.2 721.1 L711.9 721.8 L712.5 720.6 L713.1 721.6 L713.8 720.5 L714.4 721.2 L715.0 720.6 L715.6 719.9 L716.2 720.6 L716.9 719.6 L717.5 720.4 L718.1 719.1 L718.8 719.9 L719.4 718.9 L720.0 719.1 L720.6 719.7 L721.2 718.7 L721.8 719.7 L722.4 718.8 L722.9 720.0 L723.5 719.0 L724.1 720.1 L724.7 719.0 L725.3 720.0 L725.9 719.1 L726.5 720.2 L727.1 719.2 L727.6 720.2 L728.2 719.3 L728.8 720.3 L729.4 719.5 L730.0 720.0 L730.6 720.7 L731.2 719.9 L731.9 721.1 L732.5 720.4 L733.1 721.5 L733.8 720.8 L734.4 722.0 L735.0 721.7 L735.6 721.3 L736.2 722.0 L736.9 721.1 L737.5 722.0 L738.1 720.9 L738.8 721.9 L739.4 720.8 L740.0 721.3 L740.6 721.4 L741.2 719.9 L741.9 720.2 L742.5 718.8 L743.1 719.3 L743.8 717.9 L744.4 718.5 L745.0 717.4 L745.6 716.5 L746.2 716.8 L746.9 715.3 L747.5 715.7 L748.1 714.2 L748.8 714.6 L749.4 713.1 L750.0 713.1 L750.6 713.5 L751.1 712.4 L751.7 713.1 L752.3 712.0 L752.9 712.7 L753.4 711.6 L754.0 712.0 L754.6 712.0 L755.2 710.7 L755.8 711.2 L756.4 709.8 L757.0 709.9 L757.6 710.9 L758.2 710.6 L758.8 712.1 L759.4 711.7 L760.0 712.7 L760.6 713.8 L761.2 713.4 L761.9 714.9 L762.5 714.7 L763.1 716.2 L763.8 715.7 L764.4 717.4 L765.0 717.4 L765.6 717.1 L766.2 718.3 L766.9 717.6 L767.5 718.9 L768.1 718.3 L768.8 719.5 L769.4 718.8 L770.0 719.6 L770.6 720.1 L771.2 719.0 L771.8 719.8 L772.4 718.8 L772.9 719.8 L773.5 718.7 L774.1 719.5 L774.7 718.5 L775.3 719.6 L775.9 718.6 L776.5 719.3 L777.1 718.5 L777.6 719.1 L778.2 718.3 L778.8 719.0 L779.4 718.1 L780.0 718.5 L780.6 719.1 L781.2 718.0 L781.8 718.9 L782.4 717.9 L783.0 718.9 L783.6 718.0 L784.2 719.0 L784.9 718.0 L785.5 718.9 L786.1 718.1 L786.7 719.0 L787.3 718.0 L787.9 719.0 L788.5 718.5 L789.0 648.6 L789.5 709.5 L790.0 771.2 L790.5 734.1 L791.0 695.9 L791.5 711.0" fill="none" stroke="#1a1aff" stroke-width="2.8" stroke-linejoin="miter" stroke-miterlimit="3" stroke-linecap="butt"/>
<line x1="100.0" y1="720.8" x2="790.0" y2="720.8" stroke="#8a8a8a" stroke-width="2"/>
<rect x="97.6" y="979.8" width="697.0" height="6.6" fill="#000"/>
<rect x="100.0" y="592.5" width="103.0" height="389.3" fill="#FFC000" fill-opacity="0.25"/>
<rect x="203.0" y="592.5" width="94.5" height="389.3" fill="#FF0000" fill-opacity="0.25"/>
<rect x="357.0" y="592.5" width="73.5" height="389.3" fill="#00B050" fill-opacity="0.25"/>
<rect x="599.5" y="592.5" width="183.2" height="389.3" fill="#4472C4" fill-opacity="0.25"/>
<line x1="99.0" y1="593.0" x2="99.0" y2="984.0" stroke="#5a4a2a" stroke-width="2.5"/>
<line x1="100.3" y1="657.2" x2="100.3" y2="788.4" stroke="#1a1aff" stroke-width="2.2"/>
<line x1="789.3" y1="648.6" x2="789.3" y2="771.2" stroke="#1a1aff" stroke-width="2.4"/>
<g>
<text x="328.8" y="589.0" font-size="16.8" fill="#111" stroke="#111" stroke-width="0.25" font-weight="bold" textLength="189.0" lengthAdjust="spacingAndGlyphs">Regression coefficients</text>
<text x="77.0" y="727.0" font-size="17" fill="#333" stroke="#333" stroke-width="0.25" textLength="9.0" lengthAdjust="spacingAndGlyphs">0</text>
<text x="48.8" y="860.0" font-size="17" fill="#333" stroke="#333" stroke-width="0.25" textLength="36.0" lengthAdjust="spacingAndGlyphs">-0,01</text>
<text x="41.8" y="895.2" font-size="18" fill="#333" stroke="#333" stroke-width="0.25" textLength="216.3" lengthAdjust="spacingAndGlyphs" transform="rotate(-90 41.8 895.2)">Regression Coefficients (B)</text>
<text x="73.4" y="1005.1" font-size="17" fill="#2a2a2a" stroke="#2a2a2a" stroke-width="0.25" textLength="50.0" lengthAdjust="spacingAndGlyphs">410.31</text>
<text x="134.0" y="1005.1" font-size="17" fill="#2a2a2a" stroke="#2a2a2a" stroke-width="0.25" textLength="42.7" lengthAdjust="spacingAndGlyphs">463.5</text>
<text x="191.4" y="1005.1" font-size="17" fill="#2a2a2a" stroke="#2a2a2a" stroke-width="0.25" textLength="28.2" lengthAdjust="spacingAndGlyphs">509</text>
<text x="227.3" y="1005.1" font-size="17" fill="#2a2a2a" stroke="#2a2a2a" stroke-width="0.25" textLength="27.5" lengthAdjust="spacingAndGlyphs">542</text>
<text x="262.0" y="1005.1" font-size="17" fill="#2a2a2a" stroke="#2a2a2a" stroke-width="0.25" textLength="51.4" lengthAdjust="spacingAndGlyphs">583.46</text>
<text x="321.1" y="1005.1" font-size="17" fill="#2a2a2a" stroke="#2a2a2a" stroke-width="0.25" textLength="51.4" lengthAdjust="spacingAndGlyphs">635.72</text>
<text x="380.2" y="1005.1" font-size="17" fill="#2a2a2a" stroke="#2a2a2a" stroke-width="0.25" textLength="42.4" lengthAdjust="spacingAndGlyphs">683.6</text>
<text x="433.1" y="1005.1" font-size="17" fill="#2a2a2a" stroke="#2a2a2a" stroke-width="0.25" textLength="28.4" lengthAdjust="spacingAndGlyphs">722</text>
<text x="468.1" y="1005.1" font-size="17" fill="#2a2a2a" stroke="#2a2a2a" stroke-width="0.25" textLength="42.6" lengthAdjust="spacingAndGlyphs">757.3</text>
<text x="517.8" y="1005.1" font-size="17" fill="#2a2a2a" stroke="#2a2a2a" stroke-width="0.25" textLength="27.8" lengthAdjust="spacingAndGlyphs">792</text>
<text x="559.3" y="1005.1" font-size="17" fill="#2a2a2a" stroke="#2a2a2a" stroke-width="0.25" textLength="27.6" lengthAdjust="spacingAndGlyphs">825</text>
<text x="593.5" y="1005.1" font-size="17" fill="#2a2a2a" stroke="#2a2a2a" stroke-width="0.25" textLength="28.4" lengthAdjust="spacingAndGlyphs">853</text>
<text x="629.0" y="1005.1" font-size="17" fill="#2a2a2a" stroke="#2a2a2a" stroke-width="0.25" textLength="42.0" lengthAdjust="spacingAndGlyphs">884.9</text>
<text x="686.8" y="1005.1" font-size="17" fill="#2a2a2a" stroke="#2a2a2a" stroke-width="0.25" textLength="28.1" lengthAdjust="spacingAndGlyphs">924</text>
<text x="728.0" y="1005.1" font-size="17" fill="#2a2a2a" stroke="#2a2a2a" stroke-width="0.25" textLength="28.0" lengthAdjust="spacingAndGlyphs">954</text>
<text x="761.7" y="1005.1" font-size="17" fill="#2a2a2a" stroke="#2a2a2a" stroke-width="0.25" textLength="28.3" lengthAdjust="spacingAndGlyphs">979</text>
<text x="292.8" y="1027.3" font-size="17" fill="#2a2a2a" stroke="#2a2a2a" stroke-width="0.25" textLength="305.4" lengthAdjust="spacingAndGlyphs">X-Variables (Brix, Factor-7, B0:4,34012)</text>
</g>
<rect x="893.0" y="571.0" width="769.5" height="483.5" fill="none" stroke="#111" stroke-width="2"/>
<path d="M956.8 748.0 L956.8 831.0 L957.1 812.3 L957.5 795.7 L958.0 844.3 L958.4 804.0 L959.0 861.5 L959.3 829.3 L959.6 795.7 L960.2 852.7 L960.6 792.0 L961.0 817.0 L961.3 843.4 L961.8 784.6 L962.2 809.7 L962.6 832.7 L963.1 783.3 L963.6 828.8 L964.1 766.7 L964.6 835.2 L964.9 797.2 L965.3 760.8 L965.6 793.5 L965.9 824.8 L966.5 758.3 L966.9 831.2 L967.4 753.2 L968.0 823.2 L968.3 779.4 L968.6 737.6 L969.1 806.1 L969.5 773.7 L969.8 739.7 L970.1 775.0 L970.4 812.4 L970.8 786.8 L971.2 759.6 L971.7 819.2 L972.2 762.1 L972.5 805.9 L972.8 851.9 L973.4 787.0 L973.8 825.2 L974.1 861.7 L974.4 837.9 L974.7 815.9 L975.3 852.0 L975.6 836.3 L975.9 818.5 L976.5 846.2 L976.9 827.2 L977.2 810.2 L977.6 837.1 L977.9 861.9 L978.2 832.0 L978.6 804.0 L979.0 833.1 L979.4 860.9 L979.9 825.3 L980.2 850.3 L980.5 877.4 L981.1 824.2 L981.6 882.2 L981.9 854.2 L982.3 824.4 L982.8 882.4 L983.2 858.4 L983.5 836.0 L984.1 875.4 L984.5 859.6 L984.8 842.4 L985.2 857.1 L985.6 874.0 L986.1 832.9 L986.5 852.2 L986.9 869.6 L987.4 826.8 L987.9 879.5 L988.5 828.1 L989.0 885.1 L989.5 821.5 L989.9 842.6 L990.2 865.7 L990.5 842.8 L990.8 817.8 L991.2 836.8 L991.5 858.0 L991.9 820.3 L992.3 834.3 L992.6 846.5 L993.0 830.7 L993.3 816.8 L993.9 855.8 L994.2 839.3 L994.5 820.9 L995.0 863.1 L995.5 824.2 L995.9 865.4 L996.4 818.5 L996.9 865.7 L997.3 841.6 L997.7 819.0 L998.1 863.8 L998.7 822.6 L999.1 858.6 L999.5 848.4 L999.9 836.1 L1000.5 850.1 L1001.0 828.8 L1001.5 842.1 L1002.0 820.1 L1002.3 831.4 L1002.7 844.3 L1003.2 814.7 L1003.6 845.2 L1004.0 833.6 L1004.4 819.9 L1004.7 835.5 L1005.1 853.3 L1005.6 819.7 L1006.0 839.4 L1006.3 857.3 L1006.7 841.2 L1007.0 826.5 L1007.5 859.1 L1007.9 848.1 L1008.3 835.0 L1008.6 847.1 L1009.0 861.2 L1009.3 849.0 L1009.7 835.4 L1010.0 849.9 L1010.3 865.8 L1010.7 837.6 L1011.2 866.9 L1011.6 857.6 L1011.9 846.6 L1012.5 864.1 L1013.0 852.2 L1013.5 842.7 L1014.0 829.5 L1014.5 820.1 L1015.0 808.0 L1015.5 800.2 L1016.0 795.0 L1016.5 785.9 L1017.0 780.0 L1017.5 778.3 L1018.0 774.2 L1018.5 773.4 L1019.0 770.0 L1019.5 768.7 L1020.0 769.9 L1020.5 767.5 L1021.0 768.7 L1021.5 766.4 L1022.0 767.7 L1022.5 766.3 L1023.0 768.5 L1023.5 773.2 L1024.0 775.0 L1024.5 776.9 L1025.1 781.3 L1025.7 782.4 L1026.2 786.0 L1026.7 790.0 L1027.2 790.8 L1027.6 795.7 L1028.1 796.9 L1028.6 800.7 L1029.1 805.8 L1029.6 808.5 L1030.0 814.8 L1030.5 817.6 L1031.0 822.9 L1031.5 829.9 L1032.0 834.4 L1032.5 842.1 L1033.0 846.7 L1033.5 853.6 L1034.0 857.6 L1034.5 859.3 L1035.0 864.5 L1035.5 865.8 L1036.0 870.0 L1036.6 876.0 L1037.2 880.6 L1037.6 887.6 L1038.0 896.6 L1038.5 891.9 L1039.0 885.0 L1039.5 881.4 L1040.0 875.0 L1040.5 872.3 L1041.0 872.5 L1041.5 868.9 L1042.0 868.3 L1042.5 869.1 L1043.0 867.3 L1043.5 869.1 L1044.0 867.0 L1044.5 869.0 L1045.0 868.0 L1045.5 865.1 L1046.0 864.8 L1046.5 860.8 L1047.0 859.7 L1047.4 850.3 L1047.9 838.2 L1048.3 829.0 L1048.9 825.4 L1049.4 818.7 L1050.0 815.0 L1050.5 814.7 L1051.1 811.6 L1051.6 811.8 L1052.1 808.7 L1052.7 809.1 L1053.2 806.9 L1053.7 808.9 L1054.2 813.3 L1054.6 814.1 L1055.1 818.5 L1055.6 820.4 L1056.1 819.2 L1056.6 820.5 L1057.0 818.1 L1057.5 819.2 L1058.0 818.0 L1058.5 817.7 L1059.0 819.7 L1059.4 818.3 L1059.9 820.5 L1060.4 819.5 L1060.8 821.4 L1061.3 820.3 L1061.8 821.6 L1062.4 821.8 L1063.0 820.4 L1063.5 823.4 L1064.0 828.9 L1064.5 830.7 L1065.0 835.5 L1065.5 839.0 L1066.0 839.8 L1066.5 843.8 L1067.0 845.5 L1067.5 847.5 L1068.0 852.2 L1068.5 853.8 L1069.0 857.6 L1069.5 861.8 L1070.0 863.3 L1070.5 868.4 L1071.0 870.7 L1071.5 874.4 L1072.0 880.9 L1072.5 884.7 L1073.0 881.7 L1073.5 881.1 L1074.0 877.3 L1074.5 876.6 L1075.0 873.7 L1075.5 871.7 L1076.0 872.4 L1076.5 869.6 L1077.0 869.6 L1077.5 869.5 L1078.0 866.9 L1078.5 867.5 L1079.0 865.6 L1079.5 862.7 L1080.0 862.3 L1080.5 858.7 L1081.0 858.3 L1081.5 855.6 L1082.0 849.6 L1082.5 846.2 L1083.0 839.6 L1083.5 835.5 L1084.0 831.6 L1084.5 824.4 L1085.0 820.4 L1085.5 816.6 L1086.0 810.5 L1086.5 807.5 L1087.0 802.3 L1087.5 800.0 L1088.0 800.3 L1088.5 796.8 L1089.0 797.0 L1089.5 794.0 L1090.0 793.3 L1090.5 791.2 L1091.0 786.5 L1091.5 785.2 L1092.0 781.2 L1092.5 783.4 L1093.0 788.7 L1093.5 790.2 L1094.0 794.3 L1094.5 797.3 L1095.0 797.4 L1095.5 801.0 L1096.0 802.3 L1096.5 803.7 L1097.0 807.4 L1097.5 807.8 L1098.0 811.9 L1098.5 812.3 L1099.0 815.4 L1099.5 819.2 L1100.0 819.8 L1100.5 824.4 L1101.0 826.4 L1101.5 828.8 L1102.0 834.0 L1102.5 835.2 L1103.0 839.5 L1103.5 837.6 L1104.0 833.0 L1104.5 831.9 L1105.0 828.4 L1105.5 827.5 L1106.0 828.7 L1106.5 827.1 L1107.0 828.5 L1107.5 826.7 L1108.0 827.4 L1108.5 825.5 L1109.0 820.7 L1109.5 819.3 L1110.0 815.4 L1110.5 809.6 L1111.0 806.8 L1111.5 800.2 L1112.0 796.3 L1112.5 799.5 L1113.0 800.1 L1113.5 804.1 L1114.0 805.3 L1114.5 794.3 L1115.0 785.2 L1115.5 787.2 L1116.0 786.2 L1116.5 788.9 L1117.0 789.2 L1117.5 789.7 L1118.0 792.3 L1118.5 791.9 L1119.0 795.0 L1119.5 794.1 L1120.0 796.3 L1120.5 799.9 L1121.0 800.9 L1121.5 805.5 L1122.0 807.3 L1122.5 809.5 L1123.0 814.4 L1123.5 815.3 L1124.0 819.4 L1124.5 822.6 L1125.0 822.8 L1125.5 827.2 L1126.0 828.4 L1126.5 833.5 L1127.0 840.5 L1127.5 842.6 L1128.0 842.2 L1128.5 845.0 L1129.0 845.5 L1129.5 846.3 L1130.0 849.6 L1130.5 849.3 L1131.0 851.6 L1131.5 856.8 L1132.0 860.6 L1132.5 865.4 L1133.0 871.7 L1133.5 872.6 L1134.0 871.2 L1134.5 873.0 L1135.0 871.6 L1135.5 873.4 L1136.0 872.7 L1136.5 875.1 L1137.0 880.0 L1137.5 881.4 L1138.0 885.7 L1138.5 887.7 L1139.0 887.2 L1139.5 890.3 L1140.0 889.4 L1140.5 892.4 L1141.0 892.8 L1141.5 894.6 L1142.0 898.9 L1142.5 899.4 L1143.0 902.8 L1143.5 906.1 L1144.0 907.2 L1144.5 911.2 L1145.0 912.1 L1145.5 916.2 L1146.0 918.0 L1146.5 914.0 L1147.0 912.5 L1147.5 907.1 L1148.0 904.8 L1148.5 905.3 L1149.0 903.6 L1149.5 905.3 L1150.0 903.3 L1150.5 904.7 L1151.0 903.8 L1151.5 902.3 L1152.0 903.3 L1152.5 900.7 L1153.0 902.0 L1153.5 899.6 L1154.0 899.8 L1154.5 900.2 L1155.0 898.1 L1155.5 899.3 L1156.0 896.8 L1156.5 898.3 L1157.0 896.8 L1157.5 893.2 L1158.0 892.0 L1158.5 887.8 L1159.0 885.7 L1159.5 882.6 L1160.0 877.5 L1160.5 875.3 L1161.0 870.7 L1161.5 865.9 L1162.0 863.9 L1162.5 858.5 L1163.0 855.6 L1163.5 852.8 L1164.0 847.1 L1164.5 844.9 L1165.0 840.5 L1165.5 834.4 L1166.0 830.5 L1166.5 826.4 L1167.0 820.4 L1167.5 816.6 L1168.0 815.1 L1168.5 810.4 L1169.0 808.3 L1169.5 805.9 L1170.0 800.5 L1170.5 798.6 L1171.0 794.3 L1171.5 790.9 L1172.0 790.0 L1172.5 785.9 L1173.0 784.2 L1173.5 784.6 L1174.0 782.0 L1174.5 783.3 L1175.0 780.9 L1175.5 782.1 L1176.0 779.4 L1176.5 780.6 L1177.0 779.2 L1177.5 777.6 L1178.0 778.7 L1178.5 776.0 L1179.0 776.2 L1179.5 780.6 L1180.0 782.5 L1180.5 787.7 L1181.0 790.3 L1181.5 790.2 L1182.0 792.6 L1182.5 791.5 L1183.0 794.1 L1183.5 792.7 L1184.0 794.3 L1184.5 796.6 L1185.0 796.5 L1185.5 799.5 L1186.0 800.3 L1186.5 799.3 L1187.0 801.0 L1187.5 799.4 L1188.0 801.1 L1188.5 799.3 L1189.0 800.3 L1189.5 802.5 L1190.0 802.3 L1190.5 805.8 L1191.0 806.3 L1191.5 807.8 L1192.0 811.6 L1192.5 812.3 L1193.0 815.4 L1193.5 819.1 L1194.0 820.1 L1194.5 824.3 L1195.0 826.4 L1195.5 826.3 L1196.0 828.9 L1196.5 827.9 L1197.0 829.4 L1197.5 830.2 L1198.0 828.0 L1198.5 829.4 L1199.0 828.4 L1199.5 828.5 L1200.0 830.9 L1200.5 830.1 L1201.0 832.5 L1201.5 832.0 L1202.0 833.5 L1202.5 838.4 L1203.0 841.5 L1203.5 842.5 L1204.0 845.9 L1204.5 845.9 L1205.0 848.5 L1205.5 848.5 L1206.0 845.6 L1206.5 846.3 L1207.0 844.5 L1207.5 843.0 L1208.0 844.0 L1208.5 841.6 L1209.0 841.5 L1209.5 836.9 L1210.0 830.3 L1210.5 826.7 L1211.0 820.4 L1211.5 814.5 L1212.0 811.4 L1212.5 804.4 L1213.0 800.3 L1213.5 799.1 L1214.0 795.5 L1214.5 795.3 L1215.0 792.3 L1215.5 785.5 L1216.0 780.2 L1216.5 779.7 L1217.0 776.4 L1217.5 776.4 L1218.0 774.2 L1218.5 772.9 L1219.0 774.1 L1219.5 772.0 L1220.0 773.3 L1220.5 770.6 L1221.0 772.1 L1221.5 769.6 L1222.0 770.2 L1222.5 770.6 L1223.0 768.3 L1223.5 769.4 L1224.0 768.1 L1224.5 767.5 L1225.0 770.2 L1225.5 768.8 L1226.0 770.2 L1226.5 774.0 L1227.0 775.5 L1227.5 780.1 L1228.0 782.2 L1228.5 784.7 L1229.0 790.1 L1229.5 792.0 L1230.0 796.3 L1230.5 800.8 L1231.0 802.3 L1231.5 807.6 L1232.0 810.4 L1232.5 814.1 L1233.0 820.3 L1233.5 823.2 L1234.0 828.4 L1234.5 832.4 L1235.0 833.7 L1235.5 838.5 L1236.0 840.5 L1236.5 842.7 L1237.0 847.3 L1237.5 848.9 L1238.0 852.6 L1238.5 855.6 L1239.0 856.3 L1239.5 860.3 L1240.0 861.6 L1240.5 864.6 L1241.0 869.6 L1241.5 868.3 L1242.0 864.3 L1242.5 863.8 L1243.0 860.6 L1243.5 852.1 L1244.0 845.5 L1244.5 842.6 L1245.0 837.3 L1245.5 835.1 L1246.0 830.5 L1246.5 825.5 L1247.0 822.7 L1247.5 816.8 L1248.0 813.4 L1248.5 810.8 L1249.0 805.8 L1249.5 804.4 L1250.0 800.3 L1250.5 797.2 L1251.0 797.3 L1251.5 793.6 L1252.0 792.3 L1252.5 792.0 L1253.0 788.6 L1253.5 789.1 L1254.0 785.9 L1254.5 786.4 L1255.0 784.2 L1255.5 782.0 L1256.0 781.2 L1256.5 784.7 L1257.0 786.0 L1257.5 790.6 L1258.0 792.3 L1258.5 793.8 L1259.0 798.0 L1259.5 799.0 L1260.0 802.3 L1260.5 809.1 L1261.0 814.4 L1261.5 816.6 L1262.0 821.2 L1262.5 822.6 L1263.0 826.4 L1263.5 831.2 L1264.0 834.5 L1264.5 826.5 L1265.0 820.4 L1265.5 820.2 L1266.0 817.3 L1266.5 818.3 L1267.0 816.4 L1267.5 819.8 L1268.0 825.9 L1268.5 828.4 L1269.0 833.5 L1269.5 828.5 L1270.0 821.2 L1270.5 817.0 L1271.0 810.4 L1271.5 808.9 L1272.0 809.8 L1272.5 807.3 L1273.0 807.3 L1273.5 810.0 L1274.0 810.1 L1274.5 813.3 L1275.0 814.4 L1275.5 814.9 L1276.0 817.7 L1276.5 817.1 L1277.0 819.4 L1277.5 819.4 L1278.0 817.1 L1278.5 817.9 L1279.0 816.4 L1279.5 818.6 L1280.0 823.5 L1280.5 824.3 L1281.0 828.4 L1281.5 831.2 L1282.0 831.8 L1282.5 835.3 L1283.0 836.5 L1283.5 825.5 L1284.0 816.4 L1284.5 820.1 L1285.0 821.6 L1285.5 826.4 L1286.0 828.4 L1286.5 825.7 L1287.0 825.4 L1287.5 821.4 L1288.0 820.4 L1288.5 820.2 L1289.0 817.0 L1289.5 817.5 L1290.0 815.4 L1290.5 814.0 L1291.0 815.1 L1291.5 813.0 L1292.0 814.2 L1292.5 812.1 L1293.0 812.4 L1293.5 812.1 L1294.0 809.6 L1294.5 810.0 L1295.0 807.4 L1295.5 808.1 L1296.0 806.3 L1296.5 804.6 L1297.0 805.7 L1297.5 803.3 L1298.0 804.0 L1298.5 801.6 L1299.0 802.8 L1299.5 800.1 L1300.0 800.3 L1300.5 803.1 L1301.0 801.5 L1301.5 805.4 L1302.0 804.3 L1302.5 808.6 L1303.0 808.3 L1303.5 808.6 L1304.0 812.8 L1304.5 812.0 L1305.0 816.7 L1305.5 815.6 L1306.0 818.4 L1306.5 821.1 L1307.0 820.0 L1307.5 824.6 L1308.0 823.0 L1308.5 827.2 L1309.0 827.4 L1309.5 827.1 L1310.0 831.2 L1310.5 830.2 L1311.0 834.3 L1311.5 832.5 L1312.0 835.5 L1312.5 839.7 L1313.0 839.2 L1313.5 844.3 L1314.0 845.5 L1314.5 840.9 L1315.0 840.2 L1315.5 834.5 L1316.0 832.5 L1316.5 835.1 L1317.0 832.7 L1317.5 836.8 L1318.0 836.5 L1318.5 834.5 L1319.0 836.3 L1319.5 832.1 L1320.0 832.9 L1320.5 836.6 L1321.0 837.0 L1321.5 833.7 L1322.0 833.2 L1322.5 839.0 L1323.1 841.6 L1323.6 836.1 L1324.1 833.9 L1324.7 841.0 L1325.3 844.8 L1325.7 836.6 L1326.1 831.3 L1326.7 839.2 L1327.3 843.6 L1327.7 838.5 L1328.0 836.7 L1328.5 840.9 L1328.9 841.2 L1329.3 845.6 L1329.9 839.3 L1330.4 830.6 L1330.7 836.7 L1331.1 845.5 L1331.5 838.9 L1331.8 828.9 L1332.3 836.4 L1332.7 846.8 L1333.2 839.0 L1333.7 828.3 L1334.3 832.2 L1334.9 839.5 L1335.4 833.5 L1335.9 825.3 L1336.5 828.9 L1337.0 835.2 L1337.5 831.2 L1337.9 824.3 L1338.3 824.3 L1338.8 828.7 L1339.2 828.6 L1339.8 820.0 L1340.3 815.0 L1340.8 823.7 L1341.2 829.2 L1341.5 820.6 L1341.9 815.0 L1342.4 820.6 L1342.9 823.0 L1343.3 816.7 L1343.8 813.4 L1344.4 822.7 L1345.0 828.5 L1345.4 820.4 L1345.8 815.3 L1346.3 821.7 L1346.8 825.2 L1347.3 819.7 L1347.7 817.0 L1348.3 828.7 L1348.8 837.7 L1349.3 831.6 L1349.7 828.7 L1350.1 838.0 L1350.6 844.6 L1351.2 834.1 L1351.7 827.0 L1352.2 838.2 L1352.6 846.3 L1353.0 836.1 L1353.3 829.4 L1353.7 834.9 L1354.1 837.3 L1354.6 832.1 L1355.1 830.0 L1355.7 835.4 L1356.2 838.2 L1356.8 834.2 L1357.3 832.3 L1357.8 838.6 L1358.3 841.9 L1358.7 837.7 L1359.1 836.7 L1359.7 843.4 L1360.3 846.9 L1360.9 837.4 L1361.5 831.1 L1362.0 837.2 L1362.5 841.1 L1363.0 832.8 L1363.6 827.6 L1364.0 834.0 L1364.4 836.3 L1364.9 842.7 L1365.3 837.5 L1365.7 828.8 L1366.2 832.7 L1366.6 839.3 L1367.0 831.3 L1367.4 820.6 L1367.9 826.6 L1368.4 834.8 L1368.9 827.5 L1369.5 817.8 L1370.0 820.7 L1370.4 826.1 L1370.9 822.1 L1371.4 815.7 L1372.0 823.4 L1372.7 833.9 L1373.0 830.9 L1373.4 825.7 L1374.0 829.9 L1374.6 836.3 L1375.0 832.1 L1375.4 825.6 L1375.9 827.1 L1376.3 833.7 L1376.7 835.0 L1377.1 828.8 L1377.6 827.3 L1378.0 821.2 L1378.5 825.0 L1379.0 831.2 L1379.4 823.8 L1379.8 813.2 L1380.2 817.9 L1380.7 826.1 L1381.1 830.9 L1381.6 820.0 L1382.2 812.1 L1382.8 821.0 L1383.4 826.6 L1383.8 816.9 L1384.3 809.9 L1384.8 821.6 L1385.4 829.8 L1385.8 821.3 L1386.2 815.5 L1386.9 823.2 L1387.5 827.4 L1387.9 821.1 L1388.3 817.9 L1388.7 827.6 L1389.2 833.8 L1389.6 822.1 L1390.0 814.0 L1390.4 826.4 L1390.7 835.4 L1391.2 828.8 L1391.7 824.7 L1392.1 833.2 L1392.4 838.9 L1393.1 836.0 L1393.7 836.1 L1394.2 841.4 L1394.8 843.5 L1395.3 840.4 L1395.8 839.9 L1396.2 846.3 L1396.5 849.7 L1397.2 844.8 L1397.8 842.4 L1398.2 846.4 L1398.6 846.6 L1399.1 850.8 L1399.6 846.6 L1400.2 839.1 L1400.7 840.4 L1401.3 844.7 L1401.7 839.4 L1402.2 830.1 L1402.6 824.7 L1403.1 832.1 L1403.6 836.8 L1404.2 829.8 L1404.9 825.4 L1405.4 830.8 L1406.0 833.6 L1406.6 825.3 L1407.2 819.6 L1407.8 825.6 L1408.3 829.1 L1409.0 819.1 L1409.6 811.8 L1410.2 820.4 L1410.7 826.0 L1411.3 816.3 L1411.8 809.7 L1412.2 820.7 L1412.7 828.7 L1413.2 812.3 L1413.8 799.5 L1414.3 812.3 L1414.9 822.0 L1415.5 815.7 L1416.1 811.7 L1416.6 819.4 L1417.0 824.3 L1417.5 815.7 L1418.1 809.9 L1418.7 820.5 L1419.3 827.8 L1419.8 818.6 L1420.4 812.3 L1421.0 822.2 L1421.5 829.7 L1421.9 825.1 L1422.3 823.4 L1422.8 830.0 L1423.3 833.5 L1423.7 827.4 L1424.2 826.1 L1424.6 820.3 L1424.9 829.2 L1425.3 840.5 L1425.8 834.3 L1426.4 826.0 L1426.8 831.8 L1427.2 840.5 L1427.7 838.9 L1428.3 834.0 L1428.9 839.1 L1429.5 846.4 L1430.1 839.6 L1430.6 830.0 L1431.1 835.7 L1431.6 844.4 L1432.2 842.0 L1432.8 836.6 L1433.3 841.2 L1433.8 848.3 L1434.2 841.6 L1434.6 832.7 L1435.1 839.3 L1435.6 848.0 L1436.2 844.3 L1436.9 837.9 L1437.3 841.0 L1437.7 848.9 L1438.1 852.3 L1438.5 842.1 L1438.9 835.4 L1439.4 844.7 L1439.8 850.8 L1440.3 841.7 L1440.7 835.6 L1441.2 843.3 L1441.7 848.3 L1442.3 839.9 L1442.9 835.8 L1443.4 844.5 L1443.9 848.3 L1444.3 838.8 L1444.6 833.1 L1445.0 839.7 L1445.4 842.8 L1445.9 833.6 L1446.4 829.5 L1447.0 841.6 L1447.6 849.4 L1448.0 838.8 L1448.4 832.1 L1448.7 840.2 L1449.1 844.3 L1449.5 836.0 L1449.9 831.0 L1450.3 840.5 L1450.6 845.7 L1451.1 836.6 L1451.6 832.3 L1452.2 839.2 L1452.7 841.9 L1453.1 835.4 L1453.5 835.8 L1454.0 829.2 L1454.4 833.8 L1454.8 842.2 L1455.3 842.8 L1455.9 836.3 L1456.4 839.4 L1456.9 833.7 L1457.5 836.0 L1458.0 832.0 L1458.5 834.0 L1459.0 842.9 L1459.5 842.5 L1460.0 851.6 L1460.5 850.8 L1461.0 857.6 L1461.5 847.7 L1462.0 832.2 L1462.5 824.3 L1463.0 811.0 L1463.5 805.9 L1464.0 807.6 L1464.5 801.3 L1465.0 803.0 L1465.5 798.2 L1466.0 797.5 L1466.5 802.5 L1467.0 800.0 L1467.5 805.1 L1468.0 804.6 L1468.5 800.9 L1469.0 803.7 L1469.4 797.9 L1469.9 800.2 L1470.4 794.4 L1470.8 797.1 L1471.3 791.0 L1471.8 791.8 L1472.3 798.0 L1472.9 796.7 L1473.5 804.7 L1474.0 806.7 L1474.5 807.1 L1475.0 813.3 L1475.5 811.8 L1476.0 818.5 L1476.5 816.6 L1477.0 821.5 L1477.5 827.3 L1478.0 826.6 L1478.5 834.3 L1479.0 836.4 L1479.4 844.8 L1479.9 859.6 L1480.3 868.2 L1480.7 856.2 L1481.0 849.1 L1481.5 851.1 L1482.0 848.1 L1482.5 852.4 L1483.0 848.6 L1483.5 852.9 L1484.0 851.2 L1484.5 848.5 L1485.0 852.4 L1485.5 846.9 L1486.0 850.8 L1486.5 845.3 L1487.0 847.0 L1487.5 847.9 L1488.0 841.8 L1488.5 844.1 L1489.0 840.6 L1489.5 834.3 L1490.0 834.6 L1490.5 825.4 L1491.0 823.6 L1491.5 821.4 L1492.0 812.6 L1492.5 813.3 L1493.0 806.7 L1493.5 794.5 L1494.1 785.5 L1494.6 789.1 L1495.1 785.9 L1495.5 791.4 L1496.0 789.2 L1496.5 794.8 L1497.0 794.0 L1497.5 796.2 L1498.0 804.6 L1498.5 805.1 L1499.0 811.0 L1499.5 817.1 L1500.0 817.0 L1500.5 825.6 L1501.0 827.9 L1501.5 830.6 L1502.0 839.6 L1502.5 840.4 L1503.0 847.0 L1503.5 853.2 L1504.0 853.4 L1504.5 862.2 L1505.0 864.0 L1505.5 865.1 L1506.0 872.8 L1506.5 872.5 L1506.9 880.5 L1507.4 879.2 L1507.9 885.2 L1508.4 889.4 L1508.9 887.2 L1509.5 893.8 L1510.0 891.4 L1510.5 898.3 L1511.0 897.9 L1511.5 883.7 L1512.0 874.6 L1512.5 871.9 L1513.0 862.3 L1513.5 860.9 L1514.0 853.3 L1514.5 846.0 L1515.0 844.6 L1515.5 835.7 L1516.0 832.1 L1516.5 829.3 L1517.0 819.1 L1517.5 818.4 L1518.0 811.0 L1518.5 806.2 L1519.0 807.4 L1519.5 800.5 L1520.0 800.3 L1520.5 798.9 L1521.0 791.2 L1521.5 791.4 L1522.0 785.5 L1522.5 781.6 L1523.0 784.7 L1523.5 779.6 L1524.0 782.1 L1524.4 776.9 L1524.9 779.2 L1525.4 774.0 L1525.9 774.9 L1526.5 779.9 L1527.0 781.2 L1527.5 783.7 L1528.0 792.8 L1528.5 793.1 L1529.0 800.3 L1529.5 806.4 L1530.0 805.3 L1530.5 813.2 L1531.0 815.2 L1531.5 817.0 L1532.0 826.0 L1532.5 826.0 L1533.0 832.1 L1533.5 839.0 L1534.0 841.0 L1534.5 850.4 L1535.0 853.3 L1535.5 855.4 L1536.0 864.3 L1536.6 865.5 L1537.1 874.0 L1537.6 876.7 L1538.1 871.2 L1538.6 871.3 L1539.0 862.8 L1539.5 863.9 L1540.0 857.6 L1540.5 852.7 L1541.0 853.8 L1541.5 845.7 L1542.0 844.9 L1542.5 848.7 L1543.0 846.7 L1543.5 853.7 L1544.0 853.3 L1544.5 845.5 L1545.0 845.0 L1545.5 835.0 L1546.0 832.1 L1546.5 828.9 L1547.0 820.0 L1547.5 818.5 L1548.0 811.0 L1548.5 802.5 L1548.9 800.0 L1549.4 790.2 L1549.8 788.0 L1550.3 779.1 L1550.9 783.7 L1551.4 794.8 L1552.0 800.3 L1552.5 801.4 L1553.0 807.9 L1553.5 806.5 L1554.0 811.0 L1554.5 816.1 L1555.0 814.2 L1555.5 821.2 L1556.0 821.5 L1556.5 818.3 L1557.0 820.7 L1557.5 815.0 L1558.0 815.2 L1558.5 821.4 L1559.0 821.6 L1559.5 829.8 L1560.0 832.1 L1560.5 843.0 L1561.0 857.6 L1561.5 853.6 L1562.0 844.0 L1562.5 841.3 L1563.0 831.8 L1563.5 830.0 L1564.0 821.5 L1564.5 817.0 L1565.0 818.8 L1565.5 811.1 L1566.0 811.0 L1566.5 808.5 L1567.0 800.0 L1567.5 800.8 L1568.0 794.0 L1568.5 789.9 L1569.0 791.8 L1569.5 785.4 L1570.0 785.5 L1570.5 783.3 L1571.0 775.2 L1571.5 775.1 L1572.0 768.5 L1572.5 774.6 L1573.0 786.2 L1573.5 790.5 L1574.0 800.0 L1574.5 794.6 L1575.0 783.0 L1575.5 779.7 L1576.0 770.7 L1576.5 771.2 L1577.0 777.2 L1577.5 775.6 L1578.0 779.7 L1578.5 786.3 L1579.0 788.1 L1579.5 796.5 L1580.0 799.8 L1580.5 805.8 L1581.0 818.9 L1581.5 822.5 L1582.0 833.3 L1582.5 857.9 L1583.0 877.9 L1583.5 866.9 L1584.0 863.0 L1584.5 850.5 L1585.0 844.4 L1585.5 838.1 L1586.0 825.1 L1586.5 821.4 L1587.0 811.0 L1587.5 805.9 L1588.0 807.8 L1588.5 800.0 L1589.0 799.8 L1589.5 821.1 L1590.0 837.7 L1590.5 822.4 L1591.0 813.1 L1591.5 795.1 L1592.0 784.1 L1592.5 784.9 L1593.0 778.7 L1593.6 781.1 L1594.1 774.7 L1594.6 775.2 L1595.1 785.1 L1595.5 789.9 L1596.0 799.8 L1596.5 807.5 L1597.0 808.8 L1597.5 818.4 L1598.0 822.1 L1598.5 825.5 L1599.0 835.0 L1599.5 836.7 L1600.0 844.4 L1600.5 852.1 L1601.0 853.2 L1601.5 863.5 L1602.0 866.8 L1602.5 873.5 L1603.0 885.6 L1603.5 890.2 L1604.0 900.2 L1604.5 910.7 L1605.0 914.7 L1605.5 927.6 L1606.0 933.7 L1606.5 944.4 L1607.0 960.4 L1607.5 968.9 L1608.0 982.9 L1608.5 966.0 L1609.0 944.9 L1609.5 922.7 L1610.0 904.7 L1610.5 900.1 L1611.0 888.9 L1611.5 886.5 L1612.0 877.9 L1612.5 872.5 L1613.0 873.0 L1613.5 866.1 L1614.0 864.5 L1614.5 874.5 L1615.0 878.4 L1615.5 890.4 L1616.0 895.8 L1616.5 896.1 L1617.1 901.9 L1617.6 900.1 L1618.2 906.3 L1618.7 906.9 L1619.0 866.8 L1619.5 862.1 L1620.0 863.4 L1620.5 856.8 L1621.0 855.6 L1621.5 846.7 L1622.0 833.3 L1622.5 823.3 L1623.0 817.6 L1623.5 822.4 L1624.0 822.1 L1624.5 801.2 L1625.0 784.1 L1625.5 779.8 L1626.0 770.7 L1626.5 757.0 L1627.0 748.4 L1627.5 733.7 L1628.0 714.9 L1628.5 722.2 L1629.0 732.8 L1629.5 706.8 L1630.0 677.0 L1630.5 663.1 L1630.9 655.7 L1631.3 640.4 L1631.8 631.2 L1632.4 642.8 L1633.0 650.2 L1633.5 661.3 L1634.0 677.0 L1634.5 695.7 L1635.0 710.5 L1635.5 702.7 L1636.0 700.0 L1636.5 717.0 L1637.0 730.6 L1637.5 737.5 L1638.0 750.3 L1638.5 755.2 L1639.0 766.3 L1639.5 779.3 L1640.0 786.7 L1640.5 801.9 L1641.0 811.0 L1641.5 816.3 L1642.0 828.2 L1642.5 832.5 L1643.0 842.2 L1643.5 852.8 L1644.0 857.7 L1644.5 871.3 L1645.0 877.9 L1645.5 893.1 L1646.0 911.4 L1646.5 930.5 L1647.0 944.9 L1647.5 950.5 L1647.9 963.0 L1648.4 966.8 L1648.8 979.4 L1649.3 985.1" fill="none" stroke="#0f0fff" stroke-width="3.3" stroke-linejoin="miter" stroke-miterlimit="3" stroke-linecap="butt"/>
<path d="M1441.2 843.3 L1441.7 848.3 L1442.3 839.9 L1442.9 835.8 L1443.4 844.5 L1443.9 848.3 L1444.3 838.8 L1444.6 833.1 L1445.0 839.7 L1445.4 842.8 L1445.9 833.6 L1446.4 829.5 L1447.0 841.6 L1447.6 849.4 L1448.0 838.8 L1448.4 832.1 L1448.7 840.2 L1449.1 844.3 L1449.5 836.0 L1449.9 831.0 L1450.3 840.5 L1450.6 845.7 L1451.1 836.6 L1451.6 832.3 L1452.2 839.2 L1452.7 841.9 L1453.1 835.4 L1453.5 835.8 L1454.0 829.2 L1454.4 833.8 L1454.8 842.2 L1455.3 842.8 L1455.9 836.3 L1456.4 839.4 L1456.9 833.7 L1457.5 836.0 L1458.0 832.0 L1458.5 834.0 L1459.0 842.9 L1459.5 842.5 L1460.0 851.6 L1460.5 850.8 L1461.0 857.6 L1461.5 847.7 L1462.0 832.2 L1462.5 824.3 L1463.0 811.0 L1463.5 805.9 L1464.0 807.6 L1464.5 801.3 L1465.0 803.0 L1465.5 798.2 L1466.0 797.5 L1466.5 802.5 L1467.0 800.0 L1467.5 805.1 L1468.0 804.6 L1468.5 800.9 L1469.0 803.7 L1469.4 797.9 L1469.9 800.2 L1470.4 794.4 L1470.8 797.1 L1471.3 791.0 L1471.8 791.8 L1472.3 798.0 L1472.9 796.7 L1473.5 804.7 L1474.0 806.7 L1474.5 807.1 L1475.0 813.3 L1475.5 811.8 L1476.0 818.5 L1476.5 816.6 L1477.0 821.5 L1477.5 827.3 L1478.0 826.6 L1478.5 834.3 L1479.0 836.4 L1479.4 844.8 L1479.9 859.6 L1480.3 868.2 L1480.7 856.2 L1481.0 849.1 L1481.5 851.1 L1482.0 848.1 L1482.5 852.4 L1483.0 848.6 L1483.5 852.9 L1484.0 851.2 L1484.5 848.5 L1485.0 852.4 L1485.5 846.9 L1486.0 850.8 L1486.5 845.3 L1487.0 847.0 L1487.5 847.9 L1488.0 841.8 L1488.5 844.1 L1489.0 840.6 L1489.5 834.3 L1490.0 834.6 L1490.5 825.4 L1491.0 823.6 L1491.5 821.4 L1492.0 812.6 L1492.5 813.3 L1493.0 806.7 L1493.5 794.5 L1494.1 785.5 L1494.6 789.1 L1495.1 785.9 L1495.5 791.4 L1496.0 789.2 L1496.5 794.8 L1497.0 794.0 L1497.5 796.2 L1498.0 804.6 L1498.5 805.1 L1499.0 811.0 L1499.5 817.1 L1500.0 817.0 L1500.5 825.6 L1501.0 827.9 L1501.5 830.6 L1502.0 839.6 L1502.5 840.4 L1503.0 847.0 L1503.5 853.2 L1504.0 853.4 L1504.5 862.2 L1505.0 864.0 L1505.5 865.1 L1506.0 872.8 L1506.5 872.5 L1506.9 880.5 L1507.4 879.2 L1507.9 885.2 L1508.4 889.4 L1508.9 887.2 L1509.5 893.8 L1510.0 891.4 L1510.5 898.3 L1511.0 897.9 L1511.5 883.7 L1512.0 874.6 L1512.5 871.9 L1513.0 862.3 L1513.5 860.9 L1514.0 853.3 L1514.5 846.0 L1515.0 844.6 L1515.5 835.7 L1516.0 832.1 L1516.5 829.3 L1517.0 819.1 L1517.5 818.4 L1518.0 811.0 L1518.5 806.2 L1519.0 807.4 L1519.5 800.5 L1520.0 800.3 L1520.5 798.9 L1521.0 791.2 L1521.5 791.4 L1522.0 785.5 L1522.5 781.6 L1523.0 784.7 L1523.5 779.6 L1524.0 782.1 L1524.4 776.9 L1524.9 779.2 L1525.4 774.0 L1525.9 774.9 L1526.5 779.9 L1527.0 781.2 L1527.5 783.7 L1528.0 792.8 L1528.5 793.1 L1529.0 800.3 L1529.5 806.4 L1530.0 805.3 L1530.5 813.2 L1531.0 815.2 L1531.5 817.0 L1532.0 826.0 L1532.5 826.0 L1533.0 832.1 L1533.5 839.0 L1534.0 841.0 L1534.5 850.4 L1535.0 853.3 L1535.5 855.4 L1536.0 864.3 L1536.6 865.5 L1537.1 874.0 L1537.6 876.7 L1538.1 871.2 L1538.6 871.3 L1539.0 862.8 L1539.5 863.9 L1540.0 857.6 L1540.5 852.7 L1541.0 853.8 L1541.5 845.7 L1542.0 844.9 L1542.5 848.7 L1543.0 846.7 L1543.5 853.7 L1544.0 853.3 L1544.5 845.5 L1545.0 845.0 L1545.5 835.0 L1546.0 832.1 L1546.5 828.9 L1547.0 820.0 L1547.5 818.5 L1548.0 811.0 L1548.5 802.5 L1548.9 800.0 L1549.4 790.2 L1549.8 788.0 L1550.3 779.1 L1550.9 783.7 L1551.4 794.8 L1552.0 800.3 L1552.5 801.4 L1553.0 807.9 L1553.5 806.5 L1554.0 811.0 L1554.5 816.1 L1555.0 814.2 L1555.5 821.2 L1556.0 821.5 L1556.5 818.3 L1557.0 820.7 L1557.5 815.0 L1558.0 815.2 L1558.5 821.4 L1559.0 821.6 L1559.5 829.8 L1560.0 832.1 L1560.5 843.0 L1561.0 857.6 L1561.5 853.6 L1562.0 844.0 L1562.5 841.3 L1563.0 831.8 L1563.5 830.0 L1564.0 821.5 L1564.5 817.0 L1565.0 818.8 L1565.5 811.1 L1566.0 811.0 L1566.5 808.5 L1567.0 800.0 L1567.5 800.8 L1568.0 794.0 L1568.5 789.9 L1569.0 791.8 L1569.5 785.4 L1570.0 785.5 L1570.5 783.3 L1571.0 775.2 L1571.5 775.1 L1572.0 768.5 L1572.5 774.6 L1573.0 786.2 L1573.5 790.5 L1574.0 800.0 L1574.5 794.6 L1575.0 783.0 L1575.5 779.7 L1576.0 770.7 L1576.5 771.2 L1577.0 777.2 L1577.5 775.6 L1578.0 779.7 L1578.5 786.3 L1579.0 788.1 L1579.5 796.5 L1580.0 799.8 L1580.5 805.8 L1581.0 818.9 L1581.5 822.5 L1582.0 833.3 L1582.5 857.9 L1583.0 877.9 L1583.5 866.9 L1584.0 863.0 L1584.5 850.5 L1585.0 844.4 L1585.5 838.1 L1586.0 825.1 L1586.5 821.4 L1587.0 811.0 L1587.5 805.9 L1588.0 807.8 L1588.5 800.0 L1589.0 799.8 L1589.5 821.1 L1590.0 837.7 L1590.5 822.4 L1591.0 813.1 L1591.5 795.1 L1592.0 784.1 L1592.5 784.9 L1593.0 778.7 L1593.6 781.1 L1594.1 774.7 L1594.6 775.2 L1595.1 785.1 L1595.5 789.9 L1596.0 799.8 L1596.5 807.5 L1597.0 808.8 L1597.5 818.4 L1598.0 822.1 L1598.5 825.5 L1599.0 835.0 L1599.5 836.7 L1600.0 844.4 L1600.5 852.1 L1601.0 853.2 L1601.5 863.5 L1602.0 866.8 L1602.5 873.5 L1603.0 885.6 L1603.5 890.2 L1604.0 900.2 L1604.5 910.7 L1605.0 914.7 L1605.5 927.6 L1606.0 933.7 L1606.5 944.4 L1607.0 960.4 L1607.5 968.9 L1608.0 982.9 L1608.5 966.0 L1609.0 944.9 L1609.5 922.7 L1610.0 904.7 L1610.5 900.1 L1611.0 888.9 L1611.5 886.5 L1612.0 877.9 L1612.5 872.5 L1613.0 873.0 L1613.5 866.1 L1614.0 864.5 L1614.5 874.5 L1615.0 878.4 L1615.5 890.4 L1616.0 895.8 L1616.5 896.1 L1617.1 901.9 L1617.6 900.1 L1618.2 906.3 L1618.7 906.9 L1619.0 866.8 L1619.5 862.1 L1620.0 863.4 L1620.5 856.8 L1621.0 855.6 L1621.5 846.7 L1622.0 833.3 L1622.5 823.3 L1623.0 817.6 L1623.5 822.4 L1624.0 822.1 L1624.5 801.2 L1625.0 784.1 L1625.5 779.8 L1626.0 770.7 L1626.5 757.0 L1627.0 748.4 L1627.5 733.7 L1628.0 714.9 L1628.5 722.2 L1629.0 732.8 L1629.5 706.8 L1630.0 677.0 L1630.5 663.1 L1630.9 655.7 L1631.3 640.4 L1631.8 631.2 L1632.4 642.8 L1633.0 650.2 L1633.5 661.3 L1634.0 677.0 L1634.5 695.7 L1635.0 710.5 L1635.5 702.7 L1636.0 700.0 L1636.5 717.0 L1637.0 730.6 L1637.5 737.5 L1638.0 750.3 L1638.5 755.2 L1639.0 766.3 L1639.5 779.3 L1640.0 786.7 L1640.5 801.9 L1641.0 811.0 L1641.5 816.3 L1642.0 828.2 L1642.5 832.5 L1643.0 842.2 L1643.5 852.8 L1644.0 857.7 L1644.5 871.3 L1645.0 877.9 L1645.5 893.1 L1646.0 911.4 L1646.5 930.5 L1647.0 944.9 L1647.5 950.5 L1647.9 963.0 L1648.4 966.8 L1648.8 979.4 L1649.3 985.1" fill="none" stroke="#0f0fff" stroke-width="4.4" stroke-linejoin="miter" stroke-miterlimit="3" stroke-linecap="butt"/>
<line x1="957.0" y1="832.0" x2="1649.0" y2="832.0" stroke="#808080" stroke-width="2"/>
<rect x="957.7" y="603.4" width="93.6" height="397.6" fill="#FFC000" fill-opacity="0.25"/>
<rect x="1051.3" y="603.4" width="110.7" height="397.6" fill="#FF0000" fill-opacity="0.25"/>
<rect x="1215.2" y="603.4" width="66.8" height="397.6" fill="#00B050" fill-opacity="0.25"/>
<rect x="1442.6" y="603.4" width="197.4" height="397.6" fill="#4472C4" fill-opacity="0.25"/>
<line x1="956.5" y1="604.5" x2="956.5" y2="1004.0" stroke="#000" stroke-width="2"/>
<line x1="958.0" y1="748.0" x2="958.0" y2="831.0" stroke="#0f0fff" stroke-width="2.4"/>
<line x1="949.5" y1="605.4" x2="956.5" y2="605.4" stroke="#000" stroke-width="1.5"/>
<line x1="951.5" y1="633.8" x2="956.5" y2="633.8" stroke="#000" stroke-width="1.5"/>
<line x1="949.5" y1="662.1" x2="956.5" y2="662.1" stroke="#000" stroke-width="1.5"/>
<line x1="951.5" y1="690.5" x2="956.5" y2="690.5" stroke="#000" stroke-width="1.5"/>
<line x1="949.5" y1="718.9" x2="956.5" y2="718.9" stroke="#000" stroke-width="1.5"/>
<line x1="951.5" y1="747.3" x2="956.5" y2="747.3" stroke="#000" stroke-width="1.5"/>
<line x1="949.5" y1="775.6" x2="956.5" y2="775.6" stroke="#000" stroke-width="1.5"/>
<line x1="951.5" y1="804.0" x2="956.5" y2="804.0" stroke="#000" stroke-width="1.5"/>
<line x1="949.5" y1="832.4" x2="956.5" y2="832.4" stroke="#000" stroke-width="1.5"/>
<line x1="951.5" y1="860.8" x2="956.5" y2="860.8" stroke="#000" stroke-width="1.5"/>
<line x1="949.5" y1="889.1" x2="956.5" y2="889.1" stroke="#000" stroke-width="1.5"/>
<line x1="951.5" y1="917.5" x2="956.5" y2="917.5" stroke="#000" stroke-width="1.5"/>
<line x1="949.5" y1="945.9" x2="956.5" y2="945.9" stroke="#000" stroke-width="1.5"/>
<line x1="951.5" y1="974.3" x2="956.5" y2="974.3" stroke="#000" stroke-width="1.5"/>
<line x1="949.5" y1="1002.6" x2="956.5" y2="1002.6" stroke="#000" stroke-width="1.5"/>
<rect x="956.0" y="1002.8" width="694.0" height="5.2" fill="#000"/>
<text x="1203.9" y="589.9" font-size="19" fill="#000" stroke="#000" stroke-width="0.3" font-weight="bold" textLength="167.0" lengthAdjust="spacingAndGlyphs">Regression coefficients</text>
<text x="921.3" y="612.1" font-size="18.7" fill="#000" stroke="#000" stroke-width="0.3" textLength="24.6" lengthAdjust="spacingAndGlyphs">200</text>
<text x="921.3" y="668.9" font-size="18.7" fill="#000" stroke="#000" stroke-width="0.3" textLength="24.6" lengthAdjust="spacingAndGlyphs">150</text>
<text x="921.3" y="725.6" font-size="18.7" fill="#000" stroke="#000" stroke-width="0.3" textLength="24.6" lengthAdjust="spacingAndGlyphs">100</text>
<text x="929.5" y="782.4" font-size="18.7" fill="#000" stroke="#000" stroke-width="0.3" textLength="16.4" lengthAdjust="spacingAndGlyphs">50</text>
<text x="937.7" y="839.1" font-size="18.7" fill="#000" stroke="#000" stroke-width="0.3" textLength="8.2" lengthAdjust="spacingAndGlyphs">0</text>
<text x="924.6" y="895.9" font-size="18.7" fill="#000" stroke="#000" stroke-width="0.3" textLength="21.3" lengthAdjust="spacingAndGlyphs">-50</text>
<text x="916.3" y="952.6" font-size="18.7" fill="#000" stroke="#000" stroke-width="0.3" textLength="29.6" lengthAdjust="spacingAndGlyphs">-100</text>
<text x="916.3" y="1009.4" font-size="18.7" fill="#000" stroke="#000" stroke-width="0.3" textLength="29.6" lengthAdjust="spacingAndGlyphs">-150</text>
<text x="909.8" y="917.6" font-size="15" fill="#000" stroke="#000" stroke-width="0.3" textLength="227.4" lengthAdjust="spacingAndGlyphs" transform="rotate(-90 909.8 917.6)">Regression Coefficients (B)</text>
<text x="929.0" y="1028.4" font-size="18.5" fill="#000" stroke="#000" stroke-width="0.3" textLength="53.7" lengthAdjust="spacingAndGlyphs">412,867</text>
<text x="989.9" y="1028.4" font-size="18.5" fill="#000" stroke="#000" stroke-width="0.3" textLength="37.1" lengthAdjust="spacingAndGlyphs">461,2</text>
<text x="1035.8" y="1028.4" font-size="18.5" fill="#000" stroke="#000" stroke-width="0.3" textLength="45.4" lengthAdjust="spacingAndGlyphs">506,73</text>
<text x="1098.6" y="1028.4" font-size="18.5" fill="#000" stroke="#000" stroke-width="0.3" textLength="23.9" lengthAdjust="spacingAndGlyphs">554</text>
<text x="1129.7" y="1028.4" font-size="18.5" fill="#000" stroke="#000" stroke-width="0.3" textLength="45.4" lengthAdjust="spacingAndGlyphs">590,48</text>
<text x="1183.5" y="1028.4" font-size="18.5" fill="#000" stroke="#000" stroke-width="0.3" textLength="45.4" lengthAdjust="spacingAndGlyphs">638,27</text>
<text x="1236.0" y="1028.4" font-size="18.5" fill="#000" stroke="#000" stroke-width="0.3" textLength="46.0" lengthAdjust="spacingAndGlyphs">682,83</text>
<text x="1288.8" y="1028.4" font-size="18.5" fill="#000" stroke="#000" stroke-width="0.3" textLength="37.2" lengthAdjust="spacingAndGlyphs">723,7</text>
<text x="1332.3" y="1028.4" font-size="18.5" fill="#000" stroke="#000" stroke-width="0.3" textLength="45.8" lengthAdjust="spacingAndGlyphs">763,99</text>
<text x="1384.0" y="1028.4" font-size="18.5" fill="#000" stroke="#000" stroke-width="0.3" textLength="52.5" lengthAdjust="spacingAndGlyphs">809,118</text>
<text x="1444.2" y="1028.4" font-size="18.5" fill="#000" stroke="#000" stroke-width="0.3" textLength="44.9" lengthAdjust="spacingAndGlyphs">853,71</text>
<text x="1496.9" y="1028.4" font-size="18.5" fill="#000" stroke="#000" stroke-width="0.3" textLength="45.3" lengthAdjust="spacingAndGlyphs">893,73</text>
<text x="1550.4" y="1028.4" font-size="18.5" fill="#000" stroke="#000" stroke-width="0.3" textLength="45.9" lengthAdjust="spacingAndGlyphs">934,46</text>
<text x="1603.0" y="1028.4" font-size="18.5" fill="#000" stroke="#000" stroke-width="0.3" textLength="37.4" lengthAdjust="spacingAndGlyphs">970,5</text>
<text x="1169.0" y="1052.2" font-size="18.5" fill="#000" stroke="#000" stroke-width="0.3" textLength="267.5" lengthAdjust="spacingAndGlyphs">X-Variables (Brix, Factor-7, B0:29,6959)</text>
<rect x="450.5" y="1124.5" width="842.5" height="478.5" fill="none" stroke="#000" stroke-width="3"/>
<path d="M526.4 1350.1 L526.8 1353.8 L527.3 1360.5 L527.7 1364.2 L528.1 1369.2 L528.6 1376.8 L529.0 1382.2 L529.5 1383.3 L530.0 1386.8 L530.4 1387.2 L530.9 1389.9 L531.3 1394.0 L531.8 1396.1 L532.2 1400.2 L532.8 1415.6 L533.2 1424.9 L533.7 1432.0 L534.1 1441.3 L534.5 1437.8 L535.0 1432.1 L535.4 1428.4 L535.8 1447.0 L536.1 1464.4 L536.6 1467.4 L537.0 1472.9 L537.5 1475.1 L538.0 1479.8 L538.4 1485.8 L538.9 1489.3 L539.3 1495.2 L539.8 1500.6 L540.2 1503.9 L540.7 1510.5 L541.2 1514.5 L541.6 1501.2 L542.1 1490.5 L542.5 1477.2 L542.9 1480.5 L543.4 1486.5 L543.8 1490.1 L544.3 1491.8 L544.8 1496.0 L545.2 1497.0 L545.7 1500.4 L546.1 1493.5 L546.6 1484.2 L547.0 1477.2 L547.3 1469.5 L547.6 1460.5 L548.0 1451.2 L548.5 1444.3 L548.9 1434.9 L549.4 1432.4 L549.8 1432.4 L550.3 1429.2 L550.8 1428.4 L551.2 1431.6 L551.7 1432.9 L552.1 1436.1 L552.5 1423.4 L552.8 1409.2 L553.1 1392.2 L553.4 1377.1 L553.8 1376.5 L554.3 1373.9 L554.7 1373.2 L555.2 1373.5 L555.7 1371.9 L556.1 1372.9 L556.6 1371.9 L556.6 1353.9 L557.1 1352.4 L557.5 1353.6 L558.0 1351.3 L558.5 1351.4 L558.9 1347.6 L559.2 1342.4 L559.7 1337.8 L560.3 1335.4 L560.8 1330.8 L561.1 1350.1 L561.5 1349.6 L562.0 1351.8 L562.4 1351.4 L562.8 1359.3 L563.3 1369.2 L563.7 1377.1 L564.3 1396.3 L564.6 1405.0 L565.0 1415.6 L565.6 1421.0 L566.2 1424.6 L566.7 1425.7 L567.2 1429.4 L567.8 1430.0 L568.3 1433.8 L568.8 1434.9 L569.2 1435.8 L569.7 1439.3 L570.1 1440.0 L570.4 1427.1 L570.7 1415.6 L571.2 1417.2 L571.7 1416.3 L572.2 1418.3 L572.7 1418.2 L573.2 1419.2 L573.7 1422.3 L574.1 1422.1 L574.6 1424.6 L575.0 1431.2 L575.5 1434.8 L575.9 1441.3 L576.3 1446.5 L576.8 1449.0 L577.2 1454.1 L577.8 1461.5 L578.4 1467.0 L578.9 1462.9 L579.4 1461.3 L579.9 1456.3 L580.4 1454.1 L581.0 1449.7 L581.6 1443.8 L582.0 1445.3 L582.5 1448.8 L582.9 1450.3 L583.3 1447.3 L583.8 1446.6 L584.2 1443.8 L584.7 1441.6 L585.2 1442.2 L585.6 1439.3 L586.1 1438.7 L586.6 1436.8 L587.1 1432.7 L587.6 1431.6 L588.1 1428.4 L588.6 1425.7 L589.0 1425.5 L589.5 1421.9 L590.0 1420.7 L590.5 1419.2 L591.0 1415.2 L591.4 1414.7 L591.9 1411.7 L592.3 1408.0 L592.8 1406.7 L593.2 1402.7 L593.6 1397.5 L594.1 1395.1 L594.5 1389.9 L594.8 1382.6 L595.1 1377.1 L595.5 1368.2 L595.8 1357.8 L596.2 1351.4 L596.7 1347.6 L597.1 1341.1 L597.7 1336.4 L598.3 1333.4 L598.8 1333.1 L599.3 1330.6 L599.9 1331.1 L600.4 1328.4 L600.9 1328.3 L601.4 1330.7 L601.9 1330.6 L602.5 1333.9 L603.0 1333.8 L603.5 1336.0 L604.0 1337.4 L604.5 1336.3 L605.1 1338.3 L605.6 1337.1 L606.1 1338.5 L606.6 1338.2 L607.0 1335.6 L607.5 1336.3 L608.0 1334.7 L608.3 1338.4 L608.6 1343.7 L609.0 1348.8 L609.5 1351.5 L609.9 1356.5 L610.4 1358.9 L610.9 1358.8 L611.5 1361.9 L612.0 1361.8 L612.5 1364.2 L613.0 1366.3 L613.5 1366.5 L614.0 1369.7 L614.5 1369.7 L615.0 1371.9 L615.5 1374.6 L616.0 1374.8 L616.6 1378.2 L617.1 1378.4 L617.6 1380.9 L618.1 1383.5 L618.6 1383.7 L619.2 1386.9 L619.7 1387.2 L620.2 1389.9 L620.7 1392.8 L621.2 1393.1 L621.7 1396.9 L622.2 1397.3 L622.7 1400.2 L623.2 1402.8 L623.7 1403.1 L624.3 1406.6 L624.8 1406.8 L625.3 1409.2 L625.8 1411.4 L626.3 1410.8 L626.9 1413.8 L627.4 1413.4 L627.9 1415.6 L628.4 1418.5 L628.9 1418.9 L629.5 1422.5 L630.0 1423.1 L630.5 1425.9 L631.0 1429.2 L631.5 1430.3 L632.0 1434.6 L632.5 1435.4 L633.0 1438.7 L633.5 1441.7 L634.0 1442.4 L634.5 1446.4 L635.0 1447.7 L635.5 1448.2 L636.0 1451.1 L636.4 1450.8 L636.9 1452.8 L637.4 1455.6 L637.9 1456.3 L638.4 1459.7 L638.9 1460.3 L639.4 1463.1 L639.9 1465.3 L640.4 1464.9 L641.0 1467.6 L641.5 1467.4 L642.0 1469.5 L642.5 1470.1 L643.0 1468.7 L643.6 1470.3 L644.1 1468.6 L644.6 1469.5 L645.1 1469.2 L645.6 1466.5 L646.2 1467.1 L646.7 1464.4 L647.2 1464.4 L647.7 1462.7 L648.2 1458.6 L648.6 1457.6 L649.1 1454.1 L649.5 1449.1 L650.0 1446.3 L650.4 1441.3 L651.0 1434.2 L651.6 1428.4 L652.0 1422.9 L652.5 1415.0 L652.9 1409.2 L653.3 1407.9 L653.8 1404.1 L654.2 1402.7 L654.6 1399.3 L655.1 1393.4 L655.5 1389.9 L655.9 1388.4 L656.4 1384.7 L656.8 1383.5 L657.3 1381.1 L657.8 1376.4 L658.2 1374.8 L658.7 1370.6 L659.2 1367.0 L659.6 1366.0 L660.0 1362.0 L660.5 1360.0 L661.0 1359.1 L661.4 1355.9 L661.9 1355.8 L662.3 1352.4 L662.8 1351.5 L663.3 1353.5 L663.9 1352.9 L664.4 1355.7 L665.0 1355.0 L665.5 1357.0 L666.0 1358.8 L666.5 1358.0 L666.9 1360.5 L667.4 1360.0 L667.9 1362.2 L668.3 1361.5 L668.8 1364.1 L669.3 1364.3 L669.8 1365.1 L670.4 1368.1 L670.9 1368.0 L671.4 1371.2 L671.9 1371.0 L672.5 1374.2 L673.0 1375.0 L673.5 1375.6 L674.0 1378.6 L674.5 1378.3 L675.0 1381.5 L675.5 1381.2 L676.0 1384.3 L676.5 1383.7 L677.0 1386.1 L677.5 1385.7 L678.0 1382.7 L678.5 1382.8 L679.0 1379.8 L679.5 1380.3 L680.0 1378.0 L680.5 1376.7 L681.0 1377.4 L681.6 1375.1 L682.1 1376.2 L682.6 1373.9 L683.1 1374.7 L683.7 1372.6 L684.2 1373.3 L684.7 1372.0 L685.2 1372.1 L685.7 1374.4 L686.1 1373.5 L686.6 1376.0 L687.1 1375.2 L687.5 1377.5 L688.0 1376.9 L688.5 1378.4 L689.0 1382.3 L689.5 1383.8 L690.1 1388.3 L690.6 1389.8 L691.1 1393.8 L691.6 1398.3 L692.1 1400.2 L692.6 1405.7 L693.0 1407.8 L693.5 1413.1 L694.0 1415.2 L694.5 1420.7 L695.0 1423.4 L695.5 1425.0 L696.0 1429.4 L696.5 1430.3 L697.0 1434.3 L697.5 1435.3 L698.1 1439.6 L698.6 1440.6 L699.1 1444.6 L699.6 1445.9 L700.1 1449.1 L700.6 1452.6 L701.1 1453.6 L701.6 1458.2 L702.0 1459.1 L702.5 1463.6 L703.0 1464.7 L703.5 1468.8 L704.0 1470.9 L704.5 1468.9 L705.0 1469.3 L705.4 1466.7 L705.9 1467.2 L706.4 1464.5 L706.8 1464.8 L707.3 1462.4 L707.8 1461.9 L708.3 1462.1 L708.8 1460.1 L709.3 1461.0 L709.8 1458.8 L710.3 1459.8 L710.8 1457.4 L711.2 1458.6 L711.7 1456.3 L712.2 1457.2 L712.7 1455.2 L713.2 1456.4 L713.7 1454.1 L714.2 1454.2 L714.7 1454.4 L715.2 1452.4 L715.7 1453.5 L716.2 1451.3 L716.7 1452.4 L717.2 1450.2 L717.7 1451.3 L718.2 1449.3 L718.7 1450.5 L719.2 1448.2 L719.7 1449.4 L720.2 1447.3 L720.7 1448.7 L721.2 1446.3 L721.7 1447.3 L722.2 1445.2 L722.7 1446.7 L723.2 1445.2 L723.7 1442.6 L724.2 1442.3 L724.7 1438.8 L725.2 1438.1 L725.6 1434.7 L726.1 1434.5 L726.6 1430.7 L727.1 1429.8 L727.6 1426.8 L728.1 1421.3 L728.6 1418.9 L729.1 1413.5 L729.6 1410.5 L730.1 1407.9 L730.6 1402.5 L731.2 1400.7 L731.7 1395.5 L732.2 1392.6 L732.7 1393.1 L733.2 1390.9 L733.7 1392.1 L734.2 1390.1 L734.8 1391.3 L735.3 1389.6 L735.8 1390.5 L736.3 1388.6 L736.8 1389.7 L737.3 1388.7 L737.8 1384.4 L738.3 1382.6 L738.9 1377.8 L739.4 1376.2 L739.9 1372.0 L740.4 1368.9 L740.9 1368.2 L741.5 1364.2 L742.0 1363.7 L742.5 1360.5 L743.0 1359.8 L743.5 1361.4 L744.0 1359.8 L744.5 1361.3 L745.0 1359.7 L745.6 1361.5 L746.1 1359.7 L746.6 1361.4 L747.1 1359.9 L747.6 1360.5 L748.1 1362.2 L748.6 1361.6 L749.1 1364.2 L749.5 1363.4 L750.0 1366.0 L750.5 1365.4 L751.0 1368.2 L751.5 1368.2 L752.0 1363.9 L752.5 1361.7 L753.0 1356.6 L753.5 1354.8 L754.0 1350.2 L754.5 1347.8 L755.0 1347.9 L755.6 1344.8 L756.1 1345.0 L756.6 1342.5 L757.1 1341.7 L757.6 1343.3 L758.2 1341.7 L758.7 1343.5 L759.2 1342.5 L759.7 1343.1 L760.3 1346.4 L760.8 1346.3 L761.3 1349.3 L761.9 1349.1 L762.4 1351.5 L762.9 1351.7 L763.4 1349.2 L763.8 1350.5 L764.3 1348.2 L764.8 1349.1 L765.2 1346.9 L765.7 1347.6 L766.2 1346.3 L766.7 1346.1 L767.3 1348.6 L767.8 1347.3 L768.3 1349.5 L768.9 1348.9 L769.4 1350.2 L769.9 1354.0 L770.4 1355.4 L771.0 1360.2 L771.5 1361.9 L772.0 1365.6 L772.5 1371.0 L773.0 1374.1 L773.6 1380.1 L774.1 1383.2 L774.6 1388.7 L775.1 1392.4 L775.5 1393.2 L776.0 1397.8 L776.5 1398.9 L777.0 1403.1 L777.5 1404.2 L777.9 1408.7 L778.4 1410.5 L778.9 1411.8 L779.4 1415.3 L779.9 1415.8 L780.3 1419.6 L780.8 1420.0 L781.3 1423.8 L781.8 1424.2 L782.3 1427.2 L782.8 1430.0 L783.3 1430.7 L783.9 1434.2 L784.4 1434.6 L784.9 1437.5 L785.4 1436.7 L785.9 1433.2 L786.4 1433.1 L787.0 1429.7 L787.5 1429.6 L788.0 1426.3 L788.5 1426.1 L789.0 1423.4 L789.5 1417.3 L790.0 1413.7 L790.6 1407.0 L791.1 1403.8 L791.6 1397.7 L792.2 1380.8 L792.8 1365.6 L793.2 1359.8 L793.7 1351.8 L794.1 1346.3 L794.5 1340.8 L795.0 1332.6 L795.4 1327.1 L795.9 1324.2 L796.3 1318.4 L796.8 1316.3 L797.3 1311.6 L797.8 1307.1 L798.3 1305.2 L798.8 1300.3 L799.3 1297.5 L799.8 1294.5 L800.2 1289.0 L800.7 1286.9 L801.2 1282.1 L801.7 1278.7 L802.2 1277.8 L802.8 1273.6 L803.3 1272.8 L803.8 1269.3 L804.3 1269.0 L804.8 1271.2 L805.3 1270.0 L805.8 1272.1 L806.3 1271.8 L806.8 1273.0 L807.4 1276.3 L807.9 1277.0 L808.4 1280.3 L809.0 1280.7 L809.5 1283.4 L810.0 1287.1 L810.5 1288.8 L811.1 1293.4 L811.6 1294.7 L812.1 1298.8 L812.6 1302.8 L813.1 1304.1 L813.7 1309.0 L814.2 1310.4 L814.7 1314.2 L815.2 1317.1 L815.7 1317.9 L816.1 1321.6 L816.6 1323.2 L817.1 1321.4 L817.6 1322.4 L818.2 1320.0 L818.7 1320.9 L819.2 1319.4 L819.7 1320.0 L820.3 1322.8 L820.8 1322.4 L821.3 1325.2 L821.9 1324.8 L822.4 1327.1 L822.9 1330.6 L823.4 1331.3 L824.0 1335.8 L824.5 1336.3 L825.0 1339.9 L825.5 1342.6 L826.0 1343.1 L826.5 1347.0 L827.0 1347.2 L827.5 1350.2 L828.0 1352.2 L828.5 1351.9 L829.1 1354.9 L829.6 1354.4 L830.1 1356.6 L830.6 1361.1 L831.0 1363.5 L831.5 1368.9 L832.0 1372.0 L832.5 1375.3 L833.0 1381.0 L833.4 1383.9 L833.9 1388.7 L834.4 1392.4 L834.9 1394.2 L835.5 1398.7 L836.0 1400.1 L836.5 1404.1 L837.0 1408.7 L837.5 1411.2 L838.1 1416.5 L838.6 1418.8 L839.1 1423.4 L839.6 1427.6 L840.1 1429.2 L840.6 1434.2 L841.1 1435.9 L841.6 1440.1 L842.1 1443.8 L842.6 1444.8 L843.2 1449.5 L843.7 1450.4 L844.2 1454.2 L844.7 1452.8 L845.2 1448.9 L845.8 1448.1 L846.3 1444.1 L846.8 1442.7 L847.3 1439.5 L847.8 1433.6 L848.4 1431.3 L848.9 1425.3 L849.4 1422.1 L849.9 1420.4 L850.4 1416.1 L850.9 1415.0 L851.4 1411.1 L851.9 1409.3 L852.4 1408.1 L852.9 1404.2 L853.5 1404.1 L854.0 1400.3 L854.5 1399.0 L855.0 1398.7 L855.5 1396.0 L856.1 1396.7 L856.6 1394.2 L857.1 1393.8 L857.6 1394.7 L858.1 1393.4 L858.6 1395.4 L859.1 1394.2 L859.6 1395.1 L860.1 1397.4 L860.6 1396.9 L861.2 1399.9 L861.7 1399.4 L862.2 1401.6 L862.7 1405.2 L863.2 1406.5 L863.6 1410.9 L864.1 1413.1 L864.6 1415.8 L865.1 1420.9 L865.6 1422.8 L866.1 1427.2 L866.6 1429.5 L867.0 1429.8 L867.5 1432.8 L868.0 1433.7 L868.5 1430.5 L869.0 1429.3 L869.4 1425.0 L869.9 1423.4 L870.4 1419.5 L870.8 1413.1 L871.3 1409.9 L871.8 1404.1 L872.3 1398.6 L872.8 1395.2 L873.3 1388.8 L873.8 1384.9 L874.3 1380.8 L874.8 1374.6 L875.2 1371.1 L875.7 1365.6 L876.2 1364.3 L876.7 1365.0 L877.1 1362.7 L877.6 1363.0 L878.1 1365.7 L878.6 1366.3 L879.2 1369.9 L879.7 1370.4 L880.2 1373.3 L880.7 1376.2 L881.2 1377.2 L881.7 1381.2 L882.2 1382.0 L882.7 1384.9 L883.2 1386.4 L883.7 1385.7 L884.3 1388.0 L884.8 1387.1 L885.3 1388.7 L885.8 1392.4 L886.3 1393.9 L886.9 1398.6 L887.4 1400.1 L887.9 1404.1 L888.4 1407.8 L888.9 1409.6 L889.5 1414.0 L890.0 1415.8 L890.5 1419.5 L891.0 1425.1 L891.5 1428.6 L892.0 1434.8 L892.5 1438.1 L893.0 1443.9 L893.5 1443.4 L894.1 1440.5 L894.6 1440.9 L895.1 1437.8 L895.7 1438.1 L896.2 1436.2 L896.7 1434.9 L897.3 1435.8 L897.8 1433.7 L898.3 1434.5 L898.9 1432.2 L899.4 1432.4 L899.9 1433.0 L900.4 1431.1 L900.9 1432.2 L901.3 1430.4 L901.8 1431.6 L902.3 1429.8 L902.8 1431.0 L903.3 1429.8 L903.8 1427.1 L904.4 1427.2 L904.9 1423.8 L905.4 1423.9 L906.0 1420.3 L906.5 1419.5 L907.0 1419.3 L907.5 1416.5 L908.0 1416.8 L908.5 1414.1 L908.9 1414.8 L909.4 1411.9 L909.9 1412.4 L910.4 1410.5 L910.9 1410.2 L911.4 1412.8 L911.9 1412.0 L912.4 1414.3 L912.9 1413.5 L913.4 1415.6 L913.9 1414.6 L914.4 1417.0 L914.9 1416.1 L915.4 1417.8 L915.9 1420.4 L916.4 1420.6 L916.9 1424.1 L917.5 1424.0 L918.0 1427.5 L918.5 1428.0 L919.0 1430.4 L919.5 1429.4 L920.0 1426.1 L920.5 1425.8 L921.0 1422.6 L921.5 1422.0 L922.0 1418.8 L922.5 1417.8 L923.0 1414.8 L923.4 1409.9 L923.8 1407.8 L924.3 1403.5 L924.8 1404.3 L925.4 1407.3 L925.9 1406.8 L926.5 1409.8 L927.0 1410.6 L927.5 1407.1 L928.0 1406.2 L928.5 1402.0 L929.1 1401.0 L929.6 1396.9 L930.1 1396.2 L930.6 1392.7 L931.1 1389.9 L931.7 1389.1 L932.2 1385.5 L932.8 1385.1 L933.3 1382.0 L933.8 1384.3 L934.4 1389.1 L934.9 1390.7 L935.5 1395.8 L936.0 1398.1 L936.5 1398.9 L937.0 1402.7 L937.5 1402.8 L938.1 1406.1 L938.6 1406.4 L939.1 1409.5 L939.6 1410.6 L940.1 1411.1 L940.6 1413.9 L941.1 1413.8 L941.6 1416.5 L942.0 1416.3 L942.5 1419.4 L943.0 1418.9 L943.5 1421.8 L944.0 1422.3 L944.5 1418.5 L945.0 1417.1 L945.5 1412.6 L946.1 1411.4 L946.6 1406.7 L947.1 1405.4 L947.6 1401.7 L948.1 1397.7 L948.7 1395.9 L949.2 1391.3 L949.8 1389.7 L950.3 1385.6 L950.8 1383.5 L951.4 1384.4 L951.9 1381.6 L952.5 1382.2 L953.0 1380.2 L953.5 1376.7 L954.1 1376.1 L954.6 1371.8 L955.2 1370.9 L955.7 1367.6 L956.2 1367.7 L956.7 1370.2 L957.2 1369.8 L957.7 1372.4 L958.2 1371.6 L958.7 1374.4 L959.2 1373.9 L959.7 1376.3 L960.2 1376.6 L960.7 1376.8 L961.2 1379.0 L961.7 1378.0 L962.3 1380.4 L962.8 1379.8 L963.3 1382.1 L963.8 1382.0 L964.3 1382.3 L964.8 1384.8 L965.3 1384.3 L965.8 1386.8 L966.3 1386.2 L966.8 1388.8 L967.3 1389.1 L967.8 1389.5 L968.3 1392.2 L968.8 1391.6 L969.4 1394.4 L969.9 1394.2 L970.4 1396.8 L970.9 1397.2 L971.4 1393.3 L972.0 1391.6 L972.5 1386.6 L973.1 1385.0 L973.6 1381.1 L974.1 1382.2 L974.7 1385.8 L975.2 1386.2 L975.8 1389.7 L976.3 1390.9 L976.8 1392.1 L977.3 1395.6 L977.8 1396.1 L978.3 1399.7 L978.8 1400.0 L979.3 1403.7 L979.8 1404.1 L980.3 1407.9 L980.8 1408.9 L981.3 1407.2 L981.8 1407.5 L982.3 1405.3 L982.8 1405.8 L983.3 1403.3 L983.8 1403.9 L984.3 1401.3 L984.8 1401.7 L985.3 1400.0 L985.8 1396.3 L986.3 1395.0 L986.8 1390.7 L987.4 1389.7 L987.9 1385.0 L988.4 1383.8 L988.9 1380.2 L989.5 1378.3 L990.0 1379.2 L990.6 1377.5 L991.1 1379.6 L991.6 1384.4 L992.1 1386.0 L992.7 1390.7 L993.2 1392.0 L993.7 1396.8 L994.2 1399.0 L994.7 1394.6 L995.3 1392.2 L995.8 1387.0 L996.4 1384.7 L996.9 1380.2 L997.4 1377.6 L998.0 1377.1 L998.5 1373.6 L999.1 1373.0 L999.6 1370.3 L1000.0 1369.7 L1000.5 1371.2 L1001.0 1369.4 L1001.4 1370.3 L1001.9 1376.5 L1002.3 1380.5 L1002.8 1388.1 L1003.2 1392.7 L1003.7 1396.7 L1004.1 1403.5 L1004.5 1406.6 L1005.0 1412.4 L1005.5 1410.9 L1006.1 1407.4 L1006.6 1406.7 L1007.2 1403.2 L1007.7 1401.7 L1008.2 1397.9 L1008.6 1391.5 L1009.0 1388.3 L1009.5 1382.9 L1010.0 1381.8 L1010.4 1383.1 L1010.8 1381.5 L1011.3 1382.0 L1011.8 1385.3 L1012.3 1386.7 L1012.9 1391.0 L1013.4 1391.9 L1013.9 1395.4 L1014.4 1399.9 L1015.0 1401.6 L1015.5 1407.0 L1016.1 1409.0 L1016.6 1413.3 L1017.0 1417.9 L1017.5 1419.9 L1018.0 1424.9 L1018.4 1427.7 L1018.9 1424.7 L1019.3 1424.5 L1019.8 1420.9 L1020.2 1419.6 L1020.7 1409.3 L1021.1 1397.2 L1021.5 1394.5 L1022.0 1394.5 L1022.5 1391.1 L1022.9 1390.0 L1023.4 1390.2 L1023.9 1387.9 L1024.4 1389.1 L1025.0 1386.7 L1025.5 1387.8 L1026.0 1385.3 L1026.5 1385.6 L1027.0 1385.8 L1027.4 1383.9 L1027.8 1384.9 L1028.3 1383.8 L1028.8 1386.5 L1029.4 1391.7 L1029.9 1393.5 L1030.5 1398.9 L1031.0 1401.7 L1031.5 1402.2 L1032.1 1405.5 L1032.6 1405.3 L1033.2 1408.3 L1033.7 1408.9 L1034.3 1404.6 L1034.8 1402.5 L1035.4 1398.1 L1035.9 1396.2 L1036.4 1396.7 L1036.9 1393.8 L1037.5 1394.1 L1038.0 1391.5 L1038.5 1392.0 L1039.0 1390.0 L1039.5 1392.8 L1040.1 1398.0 L1040.6 1399.9 L1041.2 1405.3 L1041.7 1408.0 L1042.2 1404.6 L1042.6 1403.8 L1043.1 1399.7 L1043.5 1398.7 L1044.0 1395.4 L1044.5 1388.2 L1045.0 1383.5 L1045.5 1376.4 L1046.0 1373.0 L1046.5 1371.5 L1047.0 1367.5 L1047.5 1365.3 L1048.0 1361.4 L1048.5 1354.7 L1049.0 1352.0 L1049.5 1346.2 L1050.0 1349.8 L1050.5 1356.6 L1051.0 1360.3 L1051.5 1359.0 L1052.0 1360.6 L1052.5 1358.2 L1053.0 1359.8 L1053.5 1357.3 L1054.0 1359.3 L1054.5 1356.8 L1055.0 1357.3 L1055.5 1364.6 L1056.0 1370.3 L1056.5 1370.7 L1057.0 1374.7 L1057.5 1373.6 L1058.0 1377.4 L1058.5 1376.5 L1059.0 1380.6 L1059.5 1379.6 L1060.0 1382.4 L1060.5 1384.7 L1061.0 1383.5 L1061.5 1386.3 L1062.0 1385.1 L1062.5 1388.5 L1063.0 1388.4 L1063.5 1398.1 L1064.0 1410.5 L1064.5 1411.5 L1065.0 1409.5 L1065.5 1412.2 L1066.0 1410.1 L1066.5 1412.6 L1067.0 1411.5 L1067.5 1412.2 L1068.0 1416.3 L1068.5 1416.1 L1069.0 1420.2 L1069.5 1419.8 L1070.0 1422.6 L1070.5 1422.1 L1071.0 1418.7 L1071.5 1418.9 L1072.0 1415.5 L1072.5 1415.9 L1073.0 1412.4 L1073.5 1413.0 L1074.0 1410.5 L1074.5 1408.0 L1075.0 1408.3 L1075.5 1404.5 L1076.0 1404.8 L1076.5 1401.0 L1077.0 1400.5 L1077.5 1399.5 L1078.1 1395.6 L1078.6 1395.8 L1079.2 1391.0 L1079.7 1390.4 L1080.2 1383.0 L1080.7 1372.5 L1081.2 1365.3 L1081.7 1364.5 L1082.2 1360.3 L1082.7 1360.4 L1083.2 1356.2 L1083.7 1356.2 L1084.2 1353.2 L1084.7 1354.6 L1085.2 1359.1 L1085.7 1359.8 L1086.2 1364.7 L1086.7 1364.5 L1087.2 1368.3 L1087.7 1371.8 L1088.2 1371.9 L1088.7 1376.9 L1089.2 1377.0 L1089.7 1381.9 L1090.2 1383.4 L1090.7 1386.3 L1091.2 1393.0 L1091.7 1394.9 L1092.2 1400.5 L1092.7 1399.7 L1093.2 1396.1 L1093.8 1396.5 L1094.3 1392.5 L1094.8 1393.4 L1095.3 1390.4 L1095.8 1391.7 L1096.3 1395.8 L1096.8 1396.0 L1097.3 1400.0 L1097.8 1400.4 L1098.3 1403.5 L1098.8 1399.9 L1099.3 1393.4 L1099.8 1391.0 L1100.3 1385.4 L1100.8 1382.7 L1101.3 1383.8 L1101.8 1379.9 L1102.3 1380.8 L1102.8 1378.4 L1103.3 1379.4 L1103.8 1383.5 L1104.3 1383.4 L1104.8 1387.3 L1105.3 1388.4 L1105.8 1378.7 L1106.3 1372.4 L1106.8 1362.3 L1107.3 1352.9 L1107.8 1345.2 L1108.3 1349.3 L1108.8 1350.3 L1109.3 1355.5 L1109.8 1356.4 L1110.3 1360.3 L1110.8 1367.2 L1111.3 1370.6 L1111.8 1378.7 L1112.3 1383.4 L1112.8 1388.2 L1113.3 1396.1 L1113.8 1400.5 L1114.3 1404.6 L1114.8 1411.9 L1115.3 1415.5 L1115.8 1419.2 L1116.3 1426.9 L1116.9 1429.3 L1117.4 1435.6 L1117.9 1441.7 L1118.4 1444.5 L1118.9 1451.8 L1119.4 1455.7 L1119.9 1461.1 L1120.4 1468.8 L1120.9 1464.1 L1121.4 1455.9 L1121.9 1452.5 L1122.4 1445.7 L1122.9 1443.5 L1123.4 1444.5 L1123.9 1441.8 L1124.4 1443.0 L1124.9 1439.6 L1125.4 1439.6 L1125.9 1439.8 L1126.4 1436.5 L1126.9 1438.3 L1127.4 1435.3 L1127.9 1436.6 L1128.4 1434.6 L1128.9 1429.0 L1129.4 1426.7 L1129.9 1420.0 L1130.4 1416.5 L1130.9 1412.2 L1131.4 1404.6 L1131.9 1401.8 L1132.4 1395.4 L1132.9 1390.0 L1133.4 1388.1 L1133.9 1381.4 L1134.4 1378.4 L1134.9 1378.0 L1135.4 1374.4 L1135.9 1375.5 L1136.4 1372.1 L1136.9 1372.7 L1137.4 1370.3 L1137.9 1368.6 L1138.4 1370.9 L1139.0 1368.0 L1139.5 1370.1 L1140.0 1367.4 L1140.5 1368.3 L1141.0 1373.6 L1141.5 1375.6 L1142.0 1382.3 L1142.5 1385.4 L1143.0 1381.2 L1143.5 1380.4 L1144.0 1374.7 L1144.5 1373.5 L1145.0 1368.2 L1145.5 1366.3 L1146.0 1365.9 L1146.5 1362.8 L1147.0 1363.6 L1147.5 1361.3 L1148.0 1362.6 L1148.5 1366.9 L1149.0 1367.0 L1149.5 1370.3 L1150.0 1379.8 L1150.5 1385.8 L1151.0 1395.4 L1151.5 1400.6 L1152.0 1402.6 L1152.5 1408.4 L1153.0 1410.6 L1153.5 1415.5 L1154.0 1422.6 L1154.5 1426.5 L1155.0 1434.9 L1155.5 1439.6 L1156.0 1433.2 L1156.5 1429.8 L1157.0 1422.1 L1157.5 1417.5 L1158.0 1420.1 L1158.5 1419.0 L1159.0 1423.1 L1159.5 1421.9 L1160.1 1425.3 L1160.6 1424.8 L1161.1 1428.3 L1161.6 1428.6 L1162.1 1431.1 L1162.6 1437.3 L1163.1 1438.3 L1163.6 1444.2 L1164.1 1446.1 L1164.6 1450.7 L1165.1 1447.9 L1165.6 1441.7 L1166.1 1439.8 L1166.6 1433.5 L1167.1 1430.6 L1167.5 1420.8 L1168.0 1408.8 L1168.5 1400.1 L1169.1 1394.9 L1169.6 1385.9 L1170.0 1378.6 L1170.5 1374.3 L1171.0 1366.1 L1171.4 1360.7 L1172.0 1350.3 L1172.6 1337.8 L1173.1 1338.7 L1173.5 1342.6 L1174.0 1342.4 L1174.4 1346.1 L1174.9 1346.9 L1175.4 1340.6 L1175.8 1338.1 L1176.3 1330.7 L1176.7 1328.0 L1177.2 1321.7 L1177.7 1317.4 L1178.2 1316.8 L1178.7 1311.4 L1179.2 1310.8 L1179.8 1305.5 L1180.3 1304.5 L1180.8 1299.4 L1181.3 1298.3 L1181.8 1294.3 L1182.3 1294.8 L1182.8 1298.7 L1183.3 1298.2 L1183.7 1301.7 L1184.2 1301.6 L1184.7 1305.0 L1185.2 1305.7 L1185.7 1314.9 L1186.1 1327.0 L1186.6 1334.6 L1187.0 1347.2 L1187.5 1356.1 L1188.0 1383.5 L1188.6 1413.3 L1189.1 1421.3 L1189.5 1426.2 L1190.0 1435.2 L1190.4 1439.6 L1190.9 1447.7 L1191.4 1457.8 L1191.8 1465.0 L1192.3 1476.4 L1192.7 1483.1 L1193.2 1493.5 L1193.7 1493.2 L1194.2 1489.9 L1194.7 1490.7 L1195.2 1487.2 L1195.8 1488.4 L1196.3 1484.9 L1196.8 1485.6 L1197.3 1481.9 L1197.8 1482.0 L1198.3 1481.3 L1198.8 1477.8 L1199.3 1478.4 L1199.7 1474.3 L1200.2 1475.0 L1200.7 1471.1 L1201.2 1470.6 L1201.7 1466.9 L1202.1 1460.2 L1202.6 1457.8 L1203.0 1451.2 L1203.5 1447.7 L1204.0 1442.2 L1204.4 1432.8 L1204.9 1428.1 L1205.3 1419.1 L1205.8 1413.3 L1206.3 1418.0 L1206.7 1419.5 L1207.2 1425.6 L1207.6 1427.1 L1208.1 1431.7 L1208.6 1435.7 L1209.0 1437.0 L1209.5 1442.2 L1209.9 1443.3 L1210.4 1447.7 L1210.9 1454.1 L1211.3 1457.6 L1211.8 1465.3 L1212.2 1468.3 L1212.7 1475.2 L1213.2 1473.0 L1213.6 1467.8 L1214.1 1466.6 L1214.5 1461.1 L1215.0 1459.1 L1215.5 1454.9 L1216.1 1447.8 L1216.7 1444.9 L1217.2 1438.5 L1217.7 1430.0 L1218.1 1424.7 L1218.6 1415.2 L1219.0 1410.1 L1219.5 1401.9 L1220.1 1372.2 L1220.7 1344.6 L1221.2 1330.5 L1221.8 1313.0 L1222.3 1298.8 L1222.8 1277.2 L1223.2 1253.0 L1223.7 1221.2 L1224.1 1191.2 L1224.6 1188.7 L1225.0 1182.9 L1225.5 1181.1 L1225.9 1175.3 L1226.4 1172.9 L1226.9 1171.9 L1227.5 1167.4 L1228.0 1166.0 L1228.6 1187.5 L1229.2 1207.2 L1229.7 1209.1 L1230.1 1214.1 L1230.5 1215.0 L1231.0 1218.7 L1231.5 1229.8 L1231.9 1237.3 L1232.3 1249.1 L1232.8 1257.6 L1233.3 1321.7 L1233.8 1331.9 L1234.2 1345.7 L1234.7 1354.8 L1235.1 1368.5 L1235.6 1379.0 L1236.1 1382.3 L1236.5 1389.3 L1237.0 1391.4 L1237.4 1398.6 L1237.9 1401.9 L1238.5 1412.1 L1239.0 1426.1 L1239.5 1435.3 L1240.1 1447.7 L1240.7 1453.1 L1241.3 1456.8 L1241.8 1451.7 L1242.2 1449.8 L1242.7 1443.3 L1243.1 1441.4 L1243.6 1436.2 L1244.1 1428.2 L1244.5 1423.3 L1245.0 1414.3 L1245.4 1409.9 L1245.9 1401.9 L1246.5 1380.1 L1247.0 1360.7 L1247.6 1336.6 L1248.2 1310.3 L1248.7 1301.3 L1249.3 1296.1 L1249.8 1287.4 L1250.2 1289.1 L1250.7 1294.4 L1251.1 1295.0 L1251.6 1298.8 L1252.0 1293.8 L1252.5 1285.1 L1253.0 1281.0 L1253.4 1273.7 L1253.8 1296.8 L1254.3 1321.7 L1254.8 1340.0 L1255.3 1356.1 L1255.8 1378.0 L1256.2 1401.9 L1256.8 1425.6 L1257.3 1447.7 L1257.9 1415.5 L1258.5 1385.9 L1259.0 1412.3 L1259.6 1436.2 L1260.2 1457.8 L1260.8 1482.0 L1261.3 1509.6 L1261.9 1534.7 L1262.5 1524.5 L1263.0 1516.4 L1263.6 1506.3 L1264.2 1493.5 L1264.7 1478.8 L1265.3 1467.0 L1265.8 1452.3 L1266.2 1454.6 L1266.7 1460.4 L1267.1 1461.7 L1267.6 1466.0 L1268.2 1452.0 L1268.8 1436.2" fill="none" stroke="#1010ff" stroke-width="3.4" stroke-linejoin="miter" stroke-miterlimit="3" stroke-linecap="butt"/>
<line x1="527.0" y1="1393.5" x2="1269.0" y2="1393.5" stroke="#808080" stroke-width="2"/>
<rect x="526.0" y="1549.0" width="744.0" height="6.5" fill="#000"/>
<rect x="528.0" y="1157.0" width="90.7" height="395.3" fill="#FFC000" fill-opacity="0.25"/>
<rect x="618.7" y="1157.0" width="127.0" height="395.3" fill="#FF0000" fill-opacity="0.25"/>
<rect x="794.0" y="1157.0" width="72.6" height="395.3" fill="#00B050" fill-opacity="0.25"/>
<rect x="1047.1" y="1157.0" width="205.9" height="395.3" fill="#4472C4" fill-opacity="0.25"/>
<line x1="526.7" y1="1159.0" x2="526.7" y2="1550.0" stroke="#000" stroke-width="2"/>
<line x1="519.7" y1="1159.9" x2="526.7" y2="1159.9" stroke="#000" stroke-width="1.5"/>
<line x1="521.7" y1="1179.4" x2="526.7" y2="1179.4" stroke="#000" stroke-width="1.5"/>
<line x1="519.7" y1="1198.8" x2="526.7" y2="1198.8" stroke="#000" stroke-width="1.5"/>
<line x1="521.7" y1="1218.2" x2="526.7" y2="1218.2" stroke="#000" stroke-width="1.5"/>
<line x1="519.7" y1="1237.7" x2="526.7" y2="1237.7" stroke="#000" stroke-width="1.5"/>
<line x1="521.7" y1="1257.2" x2="526.7" y2="1257.2" stroke="#000" stroke-width="1.5"/>
<line x1="519.7" y1="1276.6" x2="526.7" y2="1276.6" stroke="#000" stroke-width="1.5"/>
<line x1="521.7" y1="1296.1" x2="526.7" y2="1296.1" stroke="#000" stroke-width="1.5"/>
<line x1="519.7" y1="1315.5" x2="526.7" y2="1315.5" stroke="#000" stroke-width="1.5"/>
<line x1="521.7" y1="1335.0" x2="526.7" y2="1335.0" stroke="#000" stroke-width="1.5"/>
<line x1="519.7" y1="1354.4" x2="526.7" y2="1354.4" stroke="#000" stroke-width="1.5"/>
<line x1="521.7" y1="1373.9" x2="526.7" y2="1373.9" stroke="#000" stroke-width="1.5"/>
<line x1="519.7" y1="1393.3" x2="526.7" y2="1393.3" stroke="#000" stroke-width="1.5"/>
<line x1="521.7" y1="1412.8" x2="526.7" y2="1412.8" stroke="#000" stroke-width="1.5"/>
<line x1="519.7" y1="1432.2" x2="526.7" y2="1432.2" stroke="#000" stroke-width="1.5"/>
<line x1="521.7" y1="1451.7" x2="526.7" y2="1451.7" stroke="#000" stroke-width="1.5"/>
<line x1="519.7" y1="1471.1" x2="526.7" y2="1471.1" stroke="#000" stroke-width="1.5"/>
<line x1="521.7" y1="1490.6" x2="526.7" y2="1490.6" stroke="#000" stroke-width="1.5"/>
<line x1="519.7" y1="1510.0" x2="526.7" y2="1510.0" stroke="#000" stroke-width="1.5"/>
<line x1="521.7" y1="1529.5" x2="526.7" y2="1529.5" stroke="#000" stroke-width="1.5"/>
<line x1="519.7" y1="1548.9" x2="526.7" y2="1548.9" stroke="#000" stroke-width="1.5"/>
<text x="797.5" y="1144.9" font-size="18" fill="#000" stroke="#000" stroke-width="0.3" font-weight="bold" textLength="177.0" lengthAdjust="spacingAndGlyphs">Regression coefficients</text>
<text x="497.9" y="1166.1" font-size="17.5" fill="#000" stroke="#000" stroke-width="0.3" textLength="18.9" lengthAdjust="spacingAndGlyphs">60</text>
<text x="497.9" y="1205.0" font-size="17.5" fill="#000" stroke="#000" stroke-width="0.3" textLength="18.9" lengthAdjust="spacingAndGlyphs">50</text>
<text x="497.9" y="1243.9" font-size="17.5" fill="#000" stroke="#000" stroke-width="0.3" textLength="18.9" lengthAdjust="spacingAndGlyphs">40</text>
<text x="497.9" y="1282.8" font-size="17.5" fill="#000" stroke="#000" stroke-width="0.3" textLength="18.9" lengthAdjust="spacingAndGlyphs">30</text>
<text x="497.9" y="1321.7" font-size="17.5" fill="#000" stroke="#000" stroke-width="0.3" textLength="18.9" lengthAdjust="spacingAndGlyphs">20</text>
<text x="497.9" y="1360.6" font-size="17.5" fill="#000" stroke="#000" stroke-width="0.3" textLength="18.9" lengthAdjust="spacingAndGlyphs">10</text>
<text x="507.4" y="1399.5" font-size="17.5" fill="#000" stroke="#000" stroke-width="0.3" textLength="9.4" lengthAdjust="spacingAndGlyphs">0</text>
<text x="492.3" y="1438.4" font-size="17.5" fill="#000" stroke="#000" stroke-width="0.3" textLength="24.5" lengthAdjust="spacingAndGlyphs">-10</text>
<text x="492.3" y="1477.3" font-size="17.5" fill="#000" stroke="#000" stroke-width="0.3" textLength="24.5" lengthAdjust="spacingAndGlyphs">-20</text>
<text x="492.3" y="1516.2" font-size="17.5" fill="#000" stroke="#000" stroke-width="0.3" textLength="24.5" lengthAdjust="spacingAndGlyphs">-30</text>
<text x="492.3" y="1555.1" font-size="17.5" fill="#000" stroke="#000" stroke-width="0.3" textLength="24.5" lengthAdjust="spacingAndGlyphs">-40</text>
<text x="487.9" y="1468.8" font-size="17.9" fill="#000" stroke="#000" stroke-width="0.3" textLength="226.2" lengthAdjust="spacingAndGlyphs" transform="rotate(-90 487.9 1468.8)">Regression Coefficients (B)</text>
<text x="498.6" y="1575.6" font-size="18" fill="#000" stroke="#000" stroke-width="0.3" textLength="57.0" lengthAdjust="spacingAndGlyphs">412,867</text>
<text x="564.0" y="1575.6" font-size="18" fill="#000" stroke="#000" stroke-width="0.3" textLength="40.3" lengthAdjust="spacingAndGlyphs">461,2</text>
<text x="612.2" y="1575.6" font-size="18" fill="#000" stroke="#000" stroke-width="0.3" textLength="49.1" lengthAdjust="spacingAndGlyphs">506,73</text>
<text x="679.2" y="1575.6" font-size="18" fill="#000" stroke="#000" stroke-width="0.3" textLength="25.0" lengthAdjust="spacingAndGlyphs">554</text>
<text x="712.0" y="1575.6" font-size="18" fill="#000" stroke="#000" stroke-width="0.3" textLength="48.7" lengthAdjust="spacingAndGlyphs">590,28</text>
<text x="769.9" y="1575.6" font-size="18" fill="#000" stroke="#000" stroke-width="0.3" textLength="48.6" lengthAdjust="spacingAndGlyphs">638,27</text>
<text x="825.0" y="1575.6" font-size="18" fill="#000" stroke="#000" stroke-width="0.3" textLength="49.2" lengthAdjust="spacingAndGlyphs">682,83</text>
<text x="883.1" y="1575.6" font-size="18" fill="#000" stroke="#000" stroke-width="0.3" textLength="39.5" lengthAdjust="spacingAndGlyphs">723,7</text>
<text x="929.7" y="1575.6" font-size="18" fill="#000" stroke="#000" stroke-width="0.3" textLength="48.1" lengthAdjust="spacingAndGlyphs">763,99</text>
<text x="985.4" y="1575.6" font-size="18" fill="#000" stroke="#000" stroke-width="0.3" textLength="48.1" lengthAdjust="spacingAndGlyphs">805,67</text>
<text x="1040.8" y="1575.6" font-size="18" fill="#000" stroke="#000" stroke-width="0.3" textLength="39.5" lengthAdjust="spacingAndGlyphs">843,6</text>
<text x="1090.0" y="1575.6" font-size="18" fill="#000" stroke="#000" stroke-width="0.3" textLength="48.6" lengthAdjust="spacingAndGlyphs">882,99</text>
<text x="1147.0" y="1575.6" font-size="18" fill="#000" stroke="#000" stroke-width="0.3" textLength="49.0" lengthAdjust="spacingAndGlyphs">923,32</text>
<text x="1204.3" y="1575.6" font-size="18" fill="#000" stroke="#000" stroke-width="0.3" textLength="27.7" lengthAdjust="spacingAndGlyphs">955</text>
<text x="1238.0" y="1575.6" font-size="18" fill="#000" stroke="#000" stroke-width="0.3" textLength="47.8" lengthAdjust="spacingAndGlyphs">985,18</text>
<text x="756.7" y="1598.2" font-size="17.5" fill="#000" stroke="#000" stroke-width="0.3" textLength="284.1" lengthAdjust="spacingAndGlyphs">X-Variables (Brix, Factor-7, B0:6,46019)</text>
<text x="406.0" y="544.4" font-size="37.5" fill="#000" textLength="40.8" lengthAdjust="spacingAndGlyphs">(a)</text>
<text x="1316.5" y="544.4" font-size="37.5" fill="#000" textLength="45.0" lengthAdjust="spacingAndGlyphs">(b)</text>
<text x="405.0" y="1104.8" font-size="37.5" fill="#000" textLength="38.0" lengthAdjust="spacingAndGlyphs">(c)</text>
<text x="1315.0" y="1104.6" font-size="37.5" fill="#000" textLength="42.6" lengthAdjust="spacingAndGlyphs">(d)</text>
<text x="871.0" y="1657.5" font-size="37.5" fill="#000" textLength="41.0" lengthAdjust="spacingAndGlyphs">(e)</text>
<text x="887.5" y="529.0" font-size="18" fill="#000" textLength="79.0" lengthAdjust="spacingAndGlyphs">Sapodilla</text>
<text x="888.4" y="1080.0" font-size="18" fill="#000" textLength="64.5" lengthAdjust="spacingAndGlyphs">Banana</text>
<rect x="216.3" y="1713.7" width="86.1" height="70.9" fill="#FDECC0"/>
<rect x="506.7" y="1713.7" width="86.8" height="70.9" fill="#FFB9B9"/>
<rect x="832.6" y="1713.4" width="86.5" height="71.2" fill="#B5E8CF"/>
<rect x="1119.5" y="1713.4" width="87.0" height="71.2" fill="#C4D6EC"/>
<text x="316.1" y="1761.0" font-size="31" fill="#1e1e1e" textLength="148.4" lengthAdjust="spacingAndGlyphs">Carotenoid</text>
<text x="632.3" y="1740.8" font-size="31" fill="#1e1e1e" textLength="166.4" lengthAdjust="spacingAndGlyphs">Anthocyanin</text>
<text x="632.3" y="1780.3" font-size="31" fill="#1e1e1e" textLength="146.2" lengthAdjust="spacingAndGlyphs">Betacyanin</text>
<text x="948.4" y="1756.7" font-size="31" fill="#1e1e1e" textLength="151.8" lengthAdjust="spacingAndGlyphs">Chlorophyll</text>
<text x="1233.5" y="1762.0" font-size="31" fill="#1e1e1e" textLength="311.7" lengthAdjust="spacingAndGlyphs">Stretch vibration of C-H</text>
</svg></body></html>
